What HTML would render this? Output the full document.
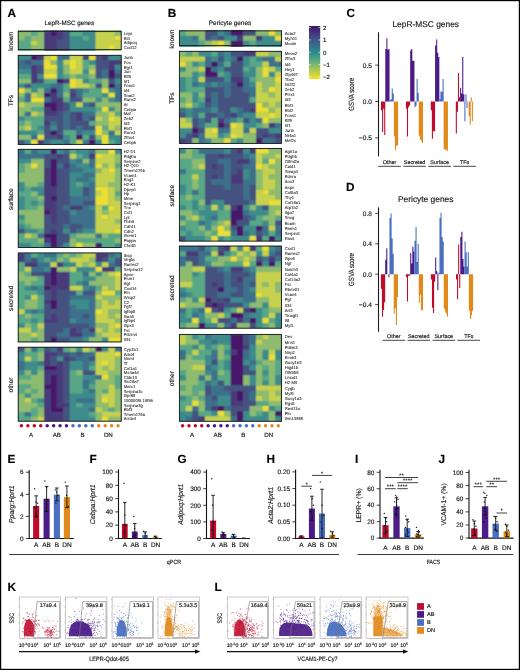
<!DOCTYPE html>
<html><head><meta charset="utf-8"><style>
html,body{margin:0;padding:0;background:#fff;}
body{width:520px;height:670px;overflow:hidden;}
svg{display:block;will-change:transform;}
text{font-family:"Liberation Sans",sans-serif;text-rendering:geometricPrecision;stroke:#1a1a1a;stroke-width:0.16px;}
text.g{stroke-width:0.06px;fill:#222;}
</style></head><body>
<svg width="520" height="670" viewBox="0 0 520 670" font-family="Liberation Sans, sans-serif" fill="#1a1a1a">
<rect width="520" height="670" fill="#fff"/>
<defs><filter id="hb" x="-5%" y="-5%" width="110%" height="110%"><feConvolveMatrix order="3" kernelMatrix="1 2 1 2 4 2 1 2 1" edgeMode="duplicate" preserveAlpha="true"/></filter></defs>
<text x="7.6" y="16.7" font-size="11.8" font-weight="bold" fill="#000">A</text>
<text x="167.8" y="16.7" font-size="11.8" font-weight="bold" fill="#000">B</text>
<text x="346.5" y="16.7" font-size="11.8" font-weight="bold" fill="#000">C</text>
<text x="346.1" y="191.4" font-size="11.8" font-weight="bold" fill="#000">D</text>
<text x="7.5" y="463.3" font-size="11.8" font-weight="bold" fill="#000">E</text>
<text x="89.5" y="463.3" font-size="11.8" font-weight="bold" fill="#000">F</text>
<text x="177.4" y="463.3" font-size="11.8" font-weight="bold" fill="#000">G</text>
<text x="266.5" y="463.3" font-size="11.8" font-weight="bold" fill="#000">H</text>
<text x="355" y="463.3" font-size="11.8" font-weight="bold" fill="#000">I</text>
<text x="438.5" y="463.3" font-size="11.8" font-weight="bold" fill="#000">J</text>
<text x="7.5" y="591.3" font-size="11.8" font-weight="bold" fill="#000">K</text>
<text x="214.5" y="591.3" font-size="11.8" font-weight="bold" fill="#000">L</text>
<text x="69.4" y="25.1" font-size="6.25" text-anchor="middle" >LepR-MSC genes</text>
<text x="230" y="25.1" font-size="6.4" text-anchor="middle" >Pericyte genes</text>
<g filter="url(#hb)"><rect x="18.2" y="31.4" width="103.04" height="18.2" fill="#3f7f88"/>
<path fill="#46196a" d="M50.4 31.4h6.5v4.61h-6.5z"/>
<path fill="#493a7a" d="M43.96 31.4h6.5v4.61h-6.5zM56.84 31.4h6.5v4.61h-6.5zM43.96 35.95h19.38v4.61h-19.38zM43.96 40.5h12.94v4.61h-12.94zM43.96 45.05h12.94v4.61h-12.94z"/>
<path fill="#45517f" d="M63.28 31.4h6.5v4.61h-6.5zM63.28 35.95h6.5v4.61h-6.5zM56.84 40.5h12.94v4.61h-12.94zM56.84 45.05h12.94v4.61h-12.94z"/>
<path fill="#3c8c8b" d="M82.6 31.4h12.94v4.61h-12.94zM69.72 35.95h12.94v4.61h-12.94zM89.04 35.95h6.5v4.61h-6.5zM69.72 40.5h25.82v4.61h-25.82zM69.72 45.05h25.82v4.61h-25.82z"/>
<path fill="#59a886" d="M31.08 31.4h6.5v4.61h-6.5zM69.72 31.4h12.94v4.61h-12.94zM24.64 35.95h6.5v4.61h-6.5zM82.6 35.95h6.5v4.61h-6.5zM18.2 40.5h12.94v4.61h-12.94zM18.2 45.05h12.94v4.61h-12.94z"/>
<path fill="#8dbc6f" d="M18.2 31.4h12.94v4.61h-12.94zM37.52 31.4h6.5v4.61h-6.5zM114.8 31.4h6.5v4.61h-6.5zM18.2 35.95h6.5v4.61h-6.5zM31.08 35.95h12.94v4.61h-12.94zM37.52 40.5h6.5v4.61h-6.5zM31.08 45.05h12.94v4.61h-12.94z"/>
<path fill="#c6d24e" d="M95.48 31.4h19.38v4.61h-19.38zM95.48 35.95h19.38v4.61h-19.38zM31.08 40.5h6.5v4.61h-6.5zM95.48 40.5h25.82v4.61h-25.82zM95.48 45.05h12.94v4.61h-12.94zM114.8 45.05h6.5v4.61h-6.5z"/>
<path fill="#eadf30" d="M114.8 35.95h6.5v4.61h-6.5zM108.36 45.05h6.5v4.61h-6.5z"/>
</g>
<rect x="18.2" y="31.4" width="103.04" height="18.2" fill="none" stroke="#1a1a1a" stroke-width="0.9"/>
<text class="g" x="123.8" y="35.19" font-size="4.2">Lepr</text>
<text class="g" x="123.8" y="39.74" font-size="4.2">Kitl</text>
<text class="g" x="123.8" y="44.29" font-size="4.2">Adipoq</text>
<text class="g" x="123.8" y="48.84" font-size="4.2">Cxcl12</text>
<g filter="url(#hb)"><rect x="18.2" y="55.3" width="103.04" height="89.1" fill="#3f7f88"/>
<path fill="#46196a" d="M31.08 55.3h6.5v4.75h-6.5zM108.36 69.37h6.5v4.75h-6.5zM108.36 74.06h6.5v4.75h-6.5zM56.84 78.75h6.5v4.75h-6.5zM108.36 83.44h6.5v4.75h-6.5zM50.4 88.13h6.5v4.75h-6.5zM43.96 92.82h6.5v4.75h-6.5zM43.96 102.19h12.94v4.75h-12.94zM50.4 106.88h6.5v4.75h-6.5zM50.4 130.33h6.5v4.75h-6.5zM76.16 135.02h6.5v4.75h-6.5zM89.04 139.71h6.5v4.75h-6.5z"/>
<path fill="#493a7a" d="M37.52 55.3h6.5v4.75h-6.5zM101.92 55.3h6.5v4.75h-6.5zM108.36 59.99h12.94v4.75h-12.94zM31.08 64.68h6.5v4.75h-6.5zM108.36 64.68h6.5v4.75h-6.5zM31.08 69.37h6.5v4.75h-6.5zM31.08 74.06h6.5v4.75h-6.5zM31.08 78.75h6.5v4.75h-6.5zM63.28 78.75h6.5v4.75h-6.5zM50.4 92.82h6.5v4.75h-6.5zM69.72 92.82h6.5v4.75h-6.5zM50.4 97.51h12.94v4.75h-12.94zM56.84 102.19h6.5v4.75h-6.5zM43.96 106.88h6.5v4.75h-6.5zM56.84 106.88h6.5v4.75h-6.5zM43.96 111.57h12.94v4.75h-12.94zM76.16 111.57h6.5v4.75h-6.5zM76.16 116.26h6.5v4.75h-6.5zM43.96 120.95h6.5v4.75h-6.5zM56.84 135.02h6.5v4.75h-6.5zM37.52 139.71h6.5v4.75h-6.5z"/>
<path fill="#45517f" d="M82.6 55.3h6.5v4.75h-6.5zM95.48 55.3h6.5v4.75h-6.5zM24.64 59.99h6.5v4.75h-6.5zM95.48 59.99h12.94v4.75h-12.94zM37.52 64.68h6.5v4.75h-6.5zM95.48 64.68h12.94v4.75h-12.94zM37.52 69.37h6.5v4.75h-6.5zM95.48 69.37h6.5v4.75h-6.5zM95.48 74.06h6.5v4.75h-6.5zM114.8 74.06h6.5v4.75h-6.5zM37.52 78.75h6.5v4.75h-6.5zM108.36 78.75h6.5v4.75h-6.5zM24.64 83.44h6.5v4.75h-6.5zM95.48 83.44h6.5v4.75h-6.5zM69.72 88.13h6.5v4.75h-6.5zM69.72 97.51h12.94v4.75h-12.94zM63.28 102.19h6.5v4.75h-6.5zM89.04 102.19h6.5v4.75h-6.5zM63.28 106.88h6.5v4.75h-6.5zM56.84 111.57h6.5v4.75h-6.5zM69.72 111.57h6.5v4.75h-6.5zM43.96 116.26h19.38v4.75h-19.38zM69.72 116.26h6.5v4.75h-6.5zM89.04 116.26h6.5v4.75h-6.5zM56.84 120.95h6.5v4.75h-6.5zM69.72 120.95h19.38v4.75h-19.38zM43.96 125.64h6.5v4.75h-6.5zM56.84 125.64h6.5v4.75h-6.5zM69.72 125.64h6.5v4.75h-6.5zM82.6 125.64h12.94v4.75h-12.94zM43.96 130.33h6.5v4.75h-6.5zM56.84 130.33h6.5v4.75h-6.5zM43.96 135.02h12.94v4.75h-12.94zM89.04 135.02h6.5v4.75h-6.5zM18.2 139.71h6.5v4.75h-6.5z"/>
<path fill="#3d6f8a" d="M56.84 55.3h12.94v4.75h-12.94zM18.2 59.99h6.5v4.75h-6.5zM31.08 59.99h12.94v4.75h-12.94zM18.2 64.68h12.94v4.75h-12.94zM101.92 69.37h6.5v4.75h-6.5zM114.8 69.37h6.5v4.75h-6.5zM101.92 74.06h6.5v4.75h-6.5zM50.4 83.44h12.94v4.75h-12.94zM114.8 83.44h6.5v4.75h-6.5zM43.96 88.13h6.5v4.75h-6.5zM56.84 88.13h6.5v4.75h-6.5zM76.16 88.13h6.5v4.75h-6.5zM114.8 88.13h6.5v4.75h-6.5zM24.64 92.82h6.5v4.75h-6.5zM56.84 92.82h6.5v4.75h-6.5zM76.16 92.82h6.5v4.75h-6.5zM114.8 92.82h6.5v4.75h-6.5zM24.64 97.51h6.5v4.75h-6.5zM43.96 97.51h6.5v4.75h-6.5zM114.8 97.51h6.5v4.75h-6.5zM82.6 102.19h6.5v4.75h-6.5zM24.64 111.57h6.5v4.75h-6.5zM63.28 111.57h6.5v4.75h-6.5zM82.6 111.57h12.94v4.75h-12.94zM63.28 116.26h6.5v4.75h-6.5zM82.6 116.26h6.5v4.75h-6.5zM50.4 120.95h6.5v4.75h-6.5zM63.28 120.95h6.5v4.75h-6.5zM63.28 125.64h6.5v4.75h-6.5zM76.16 125.64h6.5v4.75h-6.5zM76.16 130.33h6.5v4.75h-6.5zM108.36 130.33h6.5v4.75h-6.5zM31.08 135.02h6.5v4.75h-6.5zM43.96 139.71h6.5v4.75h-6.5zM63.28 139.71h6.5v4.75h-6.5zM82.6 139.71h6.5v4.75h-6.5z"/>
<path fill="#3c8c8b" d="M18.2 55.3h12.94v4.75h-12.94zM108.36 55.3h12.94v4.75h-12.94zM56.84 59.99h6.5v4.75h-6.5zM89.04 59.99h6.5v4.75h-6.5zM56.84 64.68h6.5v4.75h-6.5zM114.8 64.68h6.5v4.75h-6.5zM18.2 69.37h12.94v4.75h-12.94zM56.84 69.37h6.5v4.75h-6.5zM82.6 69.37h6.5v4.75h-6.5zM37.52 74.06h6.5v4.75h-6.5zM56.84 74.06h6.5v4.75h-6.5zM82.6 78.75h6.5v4.75h-6.5zM114.8 78.75h6.5v4.75h-6.5zM18.2 83.44h6.5v4.75h-6.5zM31.08 83.44h19.38v4.75h-19.38zM31.08 88.13h6.5v4.75h-6.5zM82.6 88.13h6.5v4.75h-6.5zM108.36 88.13h6.5v4.75h-6.5zM101.92 92.82h6.5v4.75h-6.5zM95.48 97.51h6.5v4.75h-6.5zM108.36 97.51h6.5v4.75h-6.5zM69.72 102.19h6.5v4.75h-6.5zM69.72 106.88h25.82v4.75h-25.82zM108.36 106.88h6.5v4.75h-6.5zM18.2 116.26h6.5v4.75h-6.5zM37.52 125.64h6.5v4.75h-6.5zM50.4 125.64h6.5v4.75h-6.5zM18.2 130.33h19.38v4.75h-19.38zM82.6 130.33h12.94v4.75h-12.94zM63.28 135.02h6.5v4.75h-6.5zM108.36 135.02h12.94v4.75h-12.94zM24.64 139.71h6.5v4.75h-6.5zM50.4 139.71h12.94v4.75h-12.94zM95.48 139.71h6.5v4.75h-6.5zM114.8 139.71h6.5v4.75h-6.5z"/>
<path fill="#59a886" d="M82.6 59.99h6.5v4.75h-6.5zM82.6 64.68h6.5v4.75h-6.5zM18.2 74.06h12.94v4.75h-12.94zM63.28 74.06h6.5v4.75h-6.5zM76.16 74.06h12.94v4.75h-12.94zM43.96 78.75h12.94v4.75h-12.94zM89.04 78.75h12.94v4.75h-12.94zM63.28 83.44h6.5v4.75h-6.5zM63.28 88.13h6.5v4.75h-6.5zM89.04 88.13h12.94v4.75h-12.94zM82.6 92.82h19.38v4.75h-19.38zM18.2 97.51h6.5v4.75h-6.5zM63.28 97.51h6.5v4.75h-6.5zM31.08 106.88h12.94v4.75h-12.94zM95.48 106.88h6.5v4.75h-6.5zM114.8 111.57h6.5v4.75h-6.5zM24.64 116.26h19.38v4.75h-19.38zM18.2 120.95h6.5v4.75h-6.5zM31.08 120.95h12.94v4.75h-12.94zM89.04 120.95h6.5v4.75h-6.5zM31.08 125.64h6.5v4.75h-6.5zM101.92 125.64h6.5v4.75h-6.5zM37.52 130.33h6.5v4.75h-6.5zM63.28 130.33h12.94v4.75h-12.94zM69.72 135.02h6.5v4.75h-6.5zM82.6 135.02h6.5v4.75h-6.5zM69.72 139.71h6.5v4.75h-6.5zM108.36 139.71h6.5v4.75h-6.5z"/>
<path fill="#8dbc6f" d="M50.4 59.99h6.5v4.75h-6.5zM63.28 64.68h6.5v4.75h-6.5zM89.04 64.68h6.5v4.75h-6.5zM63.28 69.37h6.5v4.75h-6.5zM69.72 74.06h6.5v4.75h-6.5zM89.04 74.06h6.5v4.75h-6.5zM18.2 78.75h12.94v4.75h-12.94zM101.92 78.75h6.5v4.75h-6.5zM89.04 83.44h6.5v4.75h-6.5zM101.92 83.44h6.5v4.75h-6.5zM24.64 88.13h6.5v4.75h-6.5zM37.52 88.13h6.5v4.75h-6.5zM18.2 92.82h6.5v4.75h-6.5zM37.52 92.82h6.5v4.75h-6.5zM63.28 92.82h6.5v4.75h-6.5zM82.6 97.51h12.94v4.75h-12.94zM101.92 97.51h6.5v4.75h-6.5zM24.64 102.19h19.38v4.75h-19.38zM95.48 102.19h25.82v4.75h-25.82zM18.2 106.88h12.94v4.75h-12.94zM114.8 106.88h6.5v4.75h-6.5zM18.2 111.57h6.5v4.75h-6.5zM37.52 111.57h6.5v4.75h-6.5zM95.48 111.57h12.94v4.75h-12.94zM101.92 116.26h6.5v4.75h-6.5zM24.64 120.95h6.5v4.75h-6.5zM95.48 120.95h12.94v4.75h-12.94zM18.2 125.64h6.5v4.75h-6.5zM114.8 125.64h6.5v4.75h-6.5zM101.92 130.33h6.5v4.75h-6.5zM18.2 135.02h12.94v4.75h-12.94zM95.48 135.02h6.5v4.75h-6.5z"/>
<path fill="#c6d24e" d="M43.96 55.3h6.5v4.75h-6.5zM69.72 55.3h12.94v4.75h-12.94zM63.28 59.99h6.5v4.75h-6.5zM76.16 59.99h6.5v4.75h-6.5zM76.16 64.68h6.5v4.75h-6.5zM43.96 69.37h12.94v4.75h-12.94zM69.72 69.37h12.94v4.75h-12.94zM89.04 69.37h6.5v4.75h-6.5zM76.16 78.75h6.5v4.75h-6.5zM76.16 83.44h12.94v4.75h-12.94zM31.08 92.82h6.5v4.75h-6.5zM18.2 102.19h6.5v4.75h-6.5zM76.16 102.19h6.5v4.75h-6.5zM31.08 111.57h6.5v4.75h-6.5zM108.36 111.57h6.5v4.75h-6.5zM95.48 116.26h6.5v4.75h-6.5zM114.8 116.26h6.5v4.75h-6.5zM108.36 120.95h12.94v4.75h-12.94zM24.64 125.64h6.5v4.75h-6.5zM108.36 125.64h6.5v4.75h-6.5zM114.8 130.33h6.5v4.75h-6.5zM76.16 139.71h6.5v4.75h-6.5z"/>
<path fill="#eadf30" d="M50.4 55.3h6.5v4.75h-6.5zM89.04 55.3h6.5v4.75h-6.5zM43.96 59.99h6.5v4.75h-6.5zM69.72 59.99h6.5v4.75h-6.5zM43.96 64.68h12.94v4.75h-12.94zM69.72 64.68h6.5v4.75h-6.5zM43.96 74.06h12.94v4.75h-12.94zM69.72 78.75h6.5v4.75h-6.5zM69.72 83.44h6.5v4.75h-6.5zM18.2 88.13h6.5v4.75h-6.5zM101.92 88.13h6.5v4.75h-6.5zM108.36 92.82h6.5v4.75h-6.5zM31.08 97.51h12.94v4.75h-12.94zM101.92 106.88h6.5v4.75h-6.5zM108.36 116.26h6.5v4.75h-6.5zM95.48 125.64h6.5v4.75h-6.5zM95.48 130.33h6.5v4.75h-6.5zM37.52 135.02h6.5v4.75h-6.5zM101.92 135.02h6.5v4.75h-6.5zM31.08 139.71h6.5v4.75h-6.5zM101.92 139.71h6.5v4.75h-6.5z"/>
</g>
<rect x="18.2" y="55.3" width="103.04" height="89.1" fill="none" stroke="#1a1a1a" stroke-width="0.9"/>
<text class="g" x="123.8" y="59.16" font-size="4.2">Junb</text>
<text class="g" x="123.8" y="63.85" font-size="4.2">Fos</text>
<text class="g" x="123.8" y="68.54" font-size="4.2">Egr1</text>
<text class="g" x="123.8" y="73.23" font-size="4.2">Jun</text>
<text class="g" x="123.8" y="77.91" font-size="4.2">Klf6</text>
<text class="g" x="123.8" y="82.6" font-size="4.2">Irf1</text>
<text class="g" x="123.8" y="87.29" font-size="4.2">Foxc1</text>
<text class="g" x="123.8" y="91.98" font-size="4.2">Id4</text>
<text class="g" x="123.8" y="96.67" font-size="4.2">Snai2</text>
<text class="g" x="123.8" y="101.36" font-size="4.2">Runx2</text>
<text class="g" x="123.8" y="106.05" font-size="4.2">Ar</text>
<text class="g" x="123.8" y="110.74" font-size="4.2">Cebpa</text>
<text class="g" x="123.8" y="115.43" font-size="4.2">Maf</text>
<text class="g" x="123.8" y="120.12" font-size="4.2">Zeb2</text>
<text class="g" x="123.8" y="124.81" font-size="4.2">Id3</text>
<text class="g" x="123.8" y="129.5" font-size="4.2">Ebf1</text>
<text class="g" x="123.8" y="134.19" font-size="4.2">Runx1</text>
<text class="g" x="123.8" y="138.88" font-size="4.2">Zfhx4</text>
<text class="g" x="123.8" y="143.57" font-size="4.2">Cebpb</text>
<g filter="url(#hb)"><rect x="18.2" y="149.3" width="103.04" height="98.2" fill="#3f7f88"/>
<path fill="#46196a" d="M50.4 149.3h6.5v4.74h-6.5zM50.4 158.65h6.5v4.74h-6.5zM50.4 163.33h6.5v4.74h-6.5zM50.4 168h6.5v4.74h-6.5zM50.4 172.68h6.5v4.74h-6.5zM50.4 177.36h6.5v4.74h-6.5zM50.4 182.03h6.5v4.74h-6.5zM50.4 196.06h6.5v4.74h-6.5zM43.96 210.09h6.5v4.74h-6.5zM43.96 233.47h12.94v4.74h-12.94zM50.4 238.15h6.5v4.74h-6.5zM50.4 242.82h6.5v4.74h-6.5zM95.48 242.82h6.5v4.74h-6.5z"/>
<path fill="#493a7a" d="M56.84 153.98h6.5v4.74h-6.5zM89.04 153.98h6.5v4.74h-6.5zM63.28 163.33h6.5v4.74h-6.5zM43.96 168h6.5v4.74h-6.5zM43.96 172.68h6.5v4.74h-6.5zM43.96 177.36h6.5v4.74h-6.5zM43.96 182.03h6.5v4.74h-6.5zM43.96 186.71h12.94v4.74h-12.94zM43.96 191.39h12.94v4.74h-12.94zM43.96 196.06h6.5v4.74h-6.5zM43.96 200.74h12.94v4.74h-12.94zM43.96 205.41h12.94v4.74h-12.94zM69.72 205.41h12.94v4.74h-12.94zM50.4 210.09h6.5v4.74h-6.5zM50.4 214.77h6.5v4.74h-6.5zM50.4 219.44h6.5v4.74h-6.5zM50.4 228.8h6.5v4.74h-6.5zM43.96 238.15h6.5v4.74h-6.5z"/>
<path fill="#45517f" d="M43.96 153.98h12.94v4.74h-12.94zM63.28 153.98h6.5v4.74h-6.5zM43.96 158.65h6.5v4.74h-6.5zM56.84 158.65h12.94v4.74h-12.94zM43.96 163.33h6.5v4.74h-6.5zM56.84 168h12.94v4.74h-12.94zM56.84 172.68h12.94v4.74h-12.94zM56.84 177.36h12.94v4.74h-12.94zM56.84 182.03h12.94v4.74h-12.94zM56.84 186.71h12.94v4.74h-12.94zM82.6 186.71h6.5v4.74h-6.5zM56.84 191.39h12.94v4.74h-12.94zM82.6 191.39h6.5v4.74h-6.5zM56.84 196.06h12.94v4.74h-12.94zM56.84 200.74h12.94v4.74h-12.94zM82.6 200.74h12.94v4.74h-12.94zM56.84 205.41h6.5v4.74h-6.5zM56.84 210.09h12.94v4.74h-12.94zM43.96 214.77h6.5v4.74h-6.5zM56.84 214.77h12.94v4.74h-12.94zM43.96 219.44h6.5v4.74h-6.5zM56.84 219.44h12.94v4.74h-12.94zM43.96 224.12h19.38v4.74h-19.38zM69.72 224.12h12.94v4.74h-12.94zM18.2 228.8h6.5v4.74h-6.5zM43.96 228.8h6.5v4.74h-6.5zM56.84 228.8h6.5v4.74h-6.5zM69.72 228.8h6.5v4.74h-6.5zM56.84 233.47h12.94v4.74h-12.94zM56.84 238.15h12.94v4.74h-12.94zM56.84 242.82h6.5v4.74h-6.5z"/>
<path fill="#3d6f8a" d="M18.2 149.3h6.5v4.74h-6.5zM31.08 149.3h6.5v4.74h-6.5zM63.28 149.3h6.5v4.74h-6.5zM89.04 149.3h6.5v4.74h-6.5zM18.2 153.98h25.82v4.74h-25.82zM76.16 158.65h6.5v4.74h-6.5zM89.04 158.65h6.5v4.74h-6.5zM56.84 163.33h6.5v4.74h-6.5zM69.72 163.33h6.5v4.74h-6.5zM89.04 163.33h6.5v4.74h-6.5zM69.72 168h12.94v4.74h-12.94zM82.6 172.68h12.94v4.74h-12.94zM76.16 177.36h12.94v4.74h-12.94zM89.04 182.03h6.5v4.74h-6.5zM89.04 186.71h6.5v4.74h-6.5zM89.04 191.39h6.5v4.74h-6.5zM69.72 196.06h25.82v4.74h-25.82zM69.72 200.74h12.94v4.74h-12.94zM63.28 205.41h6.5v4.74h-6.5zM82.6 205.41h6.5v4.74h-6.5zM76.16 210.09h19.38v4.74h-19.38zM69.72 214.77h25.82v4.74h-25.82zM69.72 219.44h25.82v4.74h-25.82zM63.28 224.12h6.5v4.74h-6.5zM82.6 224.12h12.94v4.74h-12.94zM76.16 228.8h6.5v4.74h-6.5zM37.52 233.47h6.5v4.74h-6.5zM95.48 233.47h6.5v4.74h-6.5zM43.96 242.82h6.5v4.74h-6.5z"/>
<path fill="#3c8c8b" d="M37.52 149.3h12.94v4.74h-12.94zM56.84 149.3h6.5v4.74h-6.5zM76.16 149.3h12.94v4.74h-12.94zM114.8 149.3h6.5v4.74h-6.5zM82.6 153.98h6.5v4.74h-6.5zM18.2 158.65h12.94v4.74h-12.94zM69.72 158.65h6.5v4.74h-6.5zM76.16 163.33h12.94v4.74h-12.94zM82.6 168h12.94v4.74h-12.94zM69.72 172.68h12.94v4.74h-12.94zM69.72 177.36h6.5v4.74h-6.5zM89.04 177.36h6.5v4.74h-6.5zM18.2 182.03h6.5v4.74h-6.5zM69.72 182.03h6.5v4.74h-6.5zM82.6 182.03h6.5v4.74h-6.5zM18.2 186.71h6.5v4.74h-6.5zM31.08 186.71h12.94v4.74h-12.94zM69.72 186.71h12.94v4.74h-12.94zM37.52 191.39h6.5v4.74h-6.5zM69.72 191.39h12.94v4.74h-12.94zM18.2 196.06h6.5v4.74h-6.5zM18.2 200.74h6.5v4.74h-6.5zM31.08 200.74h6.5v4.74h-6.5zM18.2 205.41h6.5v4.74h-6.5zM89.04 205.41h6.5v4.74h-6.5zM69.72 210.09h6.5v4.74h-6.5zM18.2 214.77h6.5v4.74h-6.5zM18.2 224.12h6.5v4.74h-6.5zM24.64 228.8h12.94v4.74h-12.94zM63.28 228.8h6.5v4.74h-6.5zM82.6 228.8h12.94v4.74h-12.94zM18.2 242.82h12.94v4.74h-12.94zM63.28 242.82h6.5v4.74h-6.5zM114.8 242.82h6.5v4.74h-6.5z"/>
<path fill="#59a886" d="M24.64 149.3h6.5v4.74h-6.5zM69.72 149.3h6.5v4.74h-6.5zM76.16 153.98h6.5v4.74h-6.5zM18.2 163.33h6.5v4.74h-6.5zM114.8 163.33h6.5v4.74h-6.5zM18.2 168h6.5v4.74h-6.5zM37.52 182.03h6.5v4.74h-6.5zM76.16 182.03h6.5v4.74h-6.5zM24.64 186.71h6.5v4.74h-6.5zM18.2 191.39h12.94v4.74h-12.94zM114.8 191.39h6.5v4.74h-6.5zM24.64 196.06h12.94v4.74h-12.94zM24.64 200.74h6.5v4.74h-6.5zM37.52 200.74h6.5v4.74h-6.5zM24.64 205.41h12.94v4.74h-12.94zM101.92 205.41h6.5v4.74h-6.5zM18.2 219.44h6.5v4.74h-6.5zM24.64 224.12h6.5v4.74h-6.5zM37.52 228.8h6.5v4.74h-6.5zM18.2 233.47h6.5v4.74h-6.5zM69.72 233.47h6.5v4.74h-6.5zM108.36 233.47h12.94v4.74h-12.94zM18.2 238.15h19.38v4.74h-19.38zM76.16 238.15h38.7v4.74h-38.7zM31.08 242.82h12.94v4.74h-12.94zM101.92 242.82h12.94v4.74h-12.94z"/>
<path fill="#8dbc6f" d="M95.48 149.3h12.94v4.74h-12.94zM114.8 153.98h6.5v4.74h-6.5zM31.08 158.65h12.94v4.74h-12.94zM82.6 158.65h6.5v4.74h-6.5zM114.8 158.65h6.5v4.74h-6.5zM24.64 163.33h6.5v4.74h-6.5zM37.52 163.33h6.5v4.74h-6.5zM101.92 163.33h6.5v4.74h-6.5zM24.64 168h19.38v4.74h-19.38zM95.48 168h6.5v4.74h-6.5zM114.8 168h6.5v4.74h-6.5zM18.2 172.68h25.82v4.74h-25.82zM114.8 172.68h6.5v4.74h-6.5zM18.2 177.36h25.82v4.74h-25.82zM114.8 177.36h6.5v4.74h-6.5zM24.64 182.03h12.94v4.74h-12.94zM108.36 182.03h12.94v4.74h-12.94zM114.8 186.71h6.5v4.74h-6.5zM31.08 191.39h6.5v4.74h-6.5zM37.52 196.06h6.5v4.74h-6.5zM114.8 196.06h6.5v4.74h-6.5zM37.52 205.41h6.5v4.74h-6.5zM18.2 210.09h25.82v4.74h-25.82zM101.92 210.09h6.5v4.74h-6.5zM24.64 214.77h19.38v4.74h-19.38zM24.64 219.44h19.38v4.74h-19.38zM114.8 219.44h6.5v4.74h-6.5zM31.08 224.12h12.94v4.74h-12.94zM31.08 233.47h6.5v4.74h-6.5zM76.16 233.47h19.38v4.74h-19.38zM101.92 233.47h6.5v4.74h-6.5zM37.52 238.15h6.5v4.74h-6.5zM69.72 238.15h6.5v4.74h-6.5zM114.8 238.15h6.5v4.74h-6.5zM69.72 242.82h6.5v4.74h-6.5zM82.6 242.82h12.94v4.74h-12.94z"/>
<path fill="#c6d24e" d="M69.72 153.98h6.5v4.74h-6.5zM101.92 153.98h12.94v4.74h-12.94zM95.48 158.65h19.38v4.74h-19.38zM108.36 163.33h6.5v4.74h-6.5zM101.92 168h6.5v4.74h-6.5zM95.48 172.68h19.38v4.74h-19.38zM95.48 177.36h19.38v4.74h-19.38zM95.48 182.03h12.94v4.74h-12.94zM108.36 186.71h6.5v4.74h-6.5zM95.48 191.39h6.5v4.74h-6.5zM108.36 191.39h6.5v4.74h-6.5zM108.36 196.06h6.5v4.74h-6.5zM108.36 200.74h12.94v4.74h-12.94zM95.48 205.41h6.5v4.74h-6.5zM114.8 205.41h6.5v4.74h-6.5zM95.48 210.09h6.5v4.74h-6.5zM108.36 210.09h12.94v4.74h-12.94zM95.48 214.77h6.5v4.74h-6.5zM108.36 214.77h12.94v4.74h-12.94zM95.48 219.44h19.38v4.74h-19.38zM95.48 224.12h25.82v4.74h-25.82zM95.48 228.8h19.38v4.74h-19.38zM24.64 233.47h6.5v4.74h-6.5z"/>
<path fill="#eadf30" d="M108.36 149.3h6.5v4.74h-6.5zM95.48 153.98h6.5v4.74h-6.5zM31.08 163.33h6.5v4.74h-6.5zM95.48 163.33h6.5v4.74h-6.5zM108.36 168h6.5v4.74h-6.5zM95.48 186.71h12.94v4.74h-12.94zM101.92 191.39h6.5v4.74h-6.5zM95.48 196.06h12.94v4.74h-12.94zM95.48 200.74h12.94v4.74h-12.94zM108.36 205.41h6.5v4.74h-6.5zM101.92 214.77h6.5v4.74h-6.5zM114.8 228.8h6.5v4.74h-6.5zM76.16 242.82h6.5v4.74h-6.5z"/>
</g>
<rect x="18.2" y="149.3" width="103.04" height="98.2" fill="none" stroke="#1a1a1a" stroke-width="0.9"/>
<text class="g" x="123.8" y="153.15" font-size="4.2">H2-D1</text>
<text class="g" x="123.8" y="157.83" font-size="4.2">Pdgfra</text>
<text class="g" x="123.8" y="162.5" font-size="4.2">Serpine2</text>
<text class="g" x="123.8" y="167.18" font-size="4.2">H2-Q10</text>
<text class="g" x="123.8" y="171.85" font-size="4.2">Tmem176b</text>
<text class="g" x="123.8" y="176.53" font-size="4.2">Vcam1</text>
<text class="g" x="123.8" y="181.21" font-size="4.2">Kng1</text>
<text class="g" x="123.8" y="185.88" font-size="4.2">H2-K1</text>
<text class="g" x="123.8" y="190.56" font-size="4.2">Dpep1</text>
<text class="g" x="123.8" y="195.24" font-size="4.2">Hp</text>
<text class="g" x="123.8" y="199.91" font-size="4.2">Mme</text>
<text class="g" x="123.8" y="204.59" font-size="4.2">Serping1</text>
<text class="g" x="123.8" y="209.26" font-size="4.2">Tnc</text>
<text class="g" x="123.8" y="213.94" font-size="4.2">Csf1</text>
<text class="g" x="123.8" y="218.62" font-size="4.2">Lpl</text>
<text class="g" x="123.8" y="223.29" font-size="4.2">Fbln5</text>
<text class="g" x="123.8" y="227.97" font-size="4.2">Cdh11</text>
<text class="g" x="123.8" y="232.65" font-size="4.2">Cdh2</text>
<text class="g" x="123.8" y="237.32" font-size="4.2">Grem1</text>
<text class="g" x="123.8" y="242" font-size="4.2">Pappa</text>
<text class="g" x="123.8" y="246.67" font-size="4.2">Chrdl1</text>
<g filter="url(#hb)"><rect x="18.2" y="252.9" width="103.04" height="89.1" fill="#3f7f88"/>
<path fill="#46196a" d="M50.4 266.97h6.5v4.75h-6.5zM50.4 271.66h6.5v4.75h-6.5zM50.4 276.35h6.5v4.75h-6.5zM50.4 281.04h6.5v4.75h-6.5zM43.96 285.73h6.5v4.75h-6.5zM50.4 299.79h6.5v4.75h-6.5zM50.4 304.48h6.5v4.75h-6.5zM50.4 337.31h6.5v4.75h-6.5z"/>
<path fill="#493a7a" d="M18.2 252.9h6.5v4.75h-6.5zM95.48 252.9h12.94v4.75h-12.94zM18.2 257.59h6.5v4.75h-6.5zM95.48 257.59h6.5v4.75h-6.5zM24.64 262.28h12.94v4.75h-12.94zM56.84 262.28h6.5v4.75h-6.5zM101.92 266.97h12.94v4.75h-12.94zM43.96 271.66h6.5v4.75h-6.5zM56.84 271.66h12.94v4.75h-12.94zM43.96 276.35h6.5v4.75h-6.5zM56.84 276.35h12.94v4.75h-12.94zM43.96 281.04h6.5v4.75h-6.5zM56.84 281.04h12.94v4.75h-12.94zM50.4 285.73h19.38v4.75h-19.38zM50.4 290.42h6.5v4.75h-6.5zM50.4 295.11h6.5v4.75h-6.5zM43.96 299.79h6.5v4.75h-6.5zM50.4 313.86h6.5v4.75h-6.5zM43.96 318.55h12.94v4.75h-12.94zM69.72 327.93h6.5v4.75h-6.5zM89.04 327.93h6.5v4.75h-6.5zM69.72 332.62h12.94v4.75h-12.94z"/>
<path fill="#45517f" d="M31.08 257.59h6.5v4.75h-6.5zM101.92 257.59h6.5v4.75h-6.5zM114.8 257.59h6.5v4.75h-6.5zM114.8 262.28h6.5v4.75h-6.5zM31.08 271.66h12.94v4.75h-12.94zM43.96 290.42h6.5v4.75h-6.5zM56.84 290.42h19.38v4.75h-19.38zM82.6 290.42h12.94v4.75h-12.94zM43.96 295.11h6.5v4.75h-6.5zM56.84 295.11h12.94v4.75h-12.94zM56.84 299.79h12.94v4.75h-12.94zM43.96 304.48h6.5v4.75h-6.5zM56.84 304.48h12.94v4.75h-12.94zM43.96 309.17h25.82v4.75h-25.82zM43.96 313.86h6.5v4.75h-6.5zM56.84 313.86h12.94v4.75h-12.94zM82.6 313.86h6.5v4.75h-6.5zM56.84 318.55h12.94v4.75h-12.94zM43.96 323.24h45.14v4.75h-45.14zM43.96 327.93h19.38v4.75h-19.38zM76.16 327.93h6.5v4.75h-6.5zM43.96 332.62h12.94v4.75h-12.94zM43.96 337.31h6.5v4.75h-6.5zM56.84 337.31h12.94v4.75h-12.94z"/>
<path fill="#3d6f8a" d="M24.64 252.9h6.5v4.75h-6.5zM43.96 252.9h12.94v4.75h-12.94zM108.36 252.9h6.5v4.75h-6.5zM24.64 257.59h6.5v4.75h-6.5zM37.52 262.28h12.94v4.75h-12.94zM108.36 262.28h6.5v4.75h-6.5zM31.08 266.97h12.94v4.75h-12.94zM82.6 271.66h6.5v4.75h-6.5zM82.6 281.04h6.5v4.75h-6.5zM31.08 285.73h6.5v4.75h-6.5zM89.04 285.73h6.5v4.75h-6.5zM69.72 295.11h25.82v4.75h-25.82zM89.04 299.79h6.5v4.75h-6.5zM69.72 304.48h6.5v4.75h-6.5zM89.04 304.48h6.5v4.75h-6.5zM31.08 309.17h6.5v4.75h-6.5zM69.72 309.17h25.82v4.75h-25.82zM69.72 313.86h12.94v4.75h-12.94zM89.04 313.86h6.5v4.75h-6.5zM76.16 318.55h19.38v4.75h-19.38zM89.04 323.24h6.5v4.75h-6.5zM63.28 327.93h6.5v4.75h-6.5zM82.6 327.93h6.5v4.75h-6.5zM56.84 332.62h12.94v4.75h-12.94zM82.6 332.62h12.94v4.75h-12.94zM69.72 337.31h12.94v4.75h-12.94z"/>
<path fill="#3c8c8b" d="M37.52 252.9h6.5v4.75h-6.5zM114.8 252.9h6.5v4.75h-6.5zM37.52 257.59h6.5v4.75h-6.5zM50.4 257.59h6.5v4.75h-6.5zM108.36 257.59h6.5v4.75h-6.5zM63.28 262.28h12.94v4.75h-12.94zM95.48 262.28h6.5v4.75h-6.5zM43.96 266.97h6.5v4.75h-6.5zM76.16 266.97h19.38v4.75h-19.38zM95.48 271.66h6.5v4.75h-6.5zM82.6 276.35h12.94v4.75h-12.94zM76.16 281.04h6.5v4.75h-6.5zM24.64 285.73h6.5v4.75h-6.5zM37.52 285.73h6.5v4.75h-6.5zM82.6 285.73h6.5v4.75h-6.5zM37.52 290.42h6.5v4.75h-6.5zM24.64 295.11h6.5v4.75h-6.5zM69.72 299.79h19.38v4.75h-19.38zM76.16 304.48h12.94v4.75h-12.94zM24.64 309.17h6.5v4.75h-6.5zM37.52 309.17h6.5v4.75h-6.5zM31.08 318.55h6.5v4.75h-6.5zM69.72 318.55h6.5v4.75h-6.5zM18.2 323.24h6.5v4.75h-6.5zM82.6 337.31h6.5v4.75h-6.5zM101.92 337.31h6.5v4.75h-6.5z"/>
<path fill="#59a886" d="M31.08 252.9h6.5v4.75h-6.5zM56.84 252.9h6.5v4.75h-6.5zM69.72 252.9h6.5v4.75h-6.5zM43.96 257.59h6.5v4.75h-6.5zM63.28 257.59h6.5v4.75h-6.5zM18.2 262.28h6.5v4.75h-6.5zM18.2 266.97h6.5v4.75h-6.5zM114.8 266.97h6.5v4.75h-6.5zM24.64 271.66h6.5v4.75h-6.5zM69.72 271.66h12.94v4.75h-12.94zM37.52 276.35h6.5v4.75h-6.5zM69.72 276.35h12.94v4.75h-12.94zM18.2 281.04h6.5v4.75h-6.5zM31.08 281.04h12.94v4.75h-12.94zM69.72 281.04h6.5v4.75h-6.5zM18.2 285.73h6.5v4.75h-6.5zM95.48 285.73h6.5v4.75h-6.5zM18.2 290.42h19.38v4.75h-19.38zM76.16 290.42h6.5v4.75h-6.5zM114.8 290.42h6.5v4.75h-6.5zM18.2 295.11h6.5v4.75h-6.5zM37.52 295.11h6.5v4.75h-6.5zM18.2 299.79h6.5v4.75h-6.5zM37.52 299.79h6.5v4.75h-6.5zM18.2 304.48h6.5v4.75h-6.5zM37.52 304.48h6.5v4.75h-6.5zM18.2 313.86h6.5v4.75h-6.5zM31.08 313.86h12.94v4.75h-12.94zM18.2 318.55h12.94v4.75h-12.94zM37.52 318.55h6.5v4.75h-6.5zM31.08 323.24h6.5v4.75h-6.5zM31.08 327.93h6.5v4.75h-6.5zM31.08 337.31h6.5v4.75h-6.5z"/>
<path fill="#8dbc6f" d="M63.28 252.9h6.5v4.75h-6.5zM76.16 252.9h6.5v4.75h-6.5zM56.84 257.59h6.5v4.75h-6.5zM89.04 257.59h6.5v4.75h-6.5zM82.6 262.28h6.5v4.75h-6.5zM56.84 266.97h12.94v4.75h-12.94zM18.2 271.66h6.5v4.75h-6.5zM89.04 271.66h6.5v4.75h-6.5zM101.92 271.66h6.5v4.75h-6.5zM18.2 276.35h19.38v4.75h-19.38zM95.48 276.35h19.38v4.75h-19.38zM24.64 281.04h6.5v4.75h-6.5zM89.04 281.04h25.82v4.75h-25.82zM108.36 285.73h6.5v4.75h-6.5zM95.48 290.42h6.5v4.75h-6.5zM101.92 295.11h19.38v4.75h-19.38zM24.64 299.79h12.94v4.75h-12.94zM95.48 299.79h6.5v4.75h-6.5zM108.36 299.79h6.5v4.75h-6.5zM24.64 304.48h12.94v4.75h-12.94zM95.48 304.48h6.5v4.75h-6.5zM108.36 309.17h12.94v4.75h-12.94zM24.64 313.86h6.5v4.75h-6.5zM108.36 313.86h6.5v4.75h-6.5zM114.8 318.55h6.5v4.75h-6.5zM24.64 323.24h6.5v4.75h-6.5zM95.48 323.24h12.94v4.75h-12.94zM37.52 327.93h6.5v4.75h-6.5zM101.92 327.93h6.5v4.75h-6.5zM114.8 327.93h6.5v4.75h-6.5zM18.2 332.62h12.94v4.75h-12.94zM37.52 332.62h6.5v4.75h-6.5zM95.48 332.62h6.5v4.75h-6.5zM18.2 337.31h12.94v4.75h-12.94zM37.52 337.31h6.5v4.75h-6.5zM89.04 337.31h12.94v4.75h-12.94z"/>
<path fill="#c6d24e" d="M82.6 252.9h12.94v4.75h-12.94zM69.72 257.59h19.38v4.75h-19.38zM50.4 262.28h6.5v4.75h-6.5zM76.16 262.28h6.5v4.75h-6.5zM89.04 262.28h6.5v4.75h-6.5zM101.92 262.28h6.5v4.75h-6.5zM24.64 266.97h6.5v4.75h-6.5zM69.72 266.97h6.5v4.75h-6.5zM108.36 271.66h6.5v4.75h-6.5zM114.8 276.35h6.5v4.75h-6.5zM114.8 281.04h6.5v4.75h-6.5zM69.72 285.73h12.94v4.75h-12.94zM101.92 285.73h6.5v4.75h-6.5zM114.8 285.73h6.5v4.75h-6.5zM31.08 295.11h6.5v4.75h-6.5zM95.48 295.11h6.5v4.75h-6.5zM101.92 299.79h6.5v4.75h-6.5zM114.8 299.79h6.5v4.75h-6.5zM101.92 304.48h19.38v4.75h-19.38zM18.2 309.17h6.5v4.75h-6.5zM101.92 309.17h6.5v4.75h-6.5zM95.48 313.86h12.94v4.75h-12.94zM114.8 313.86h6.5v4.75h-6.5zM95.48 318.55h19.38v4.75h-19.38zM37.52 323.24h6.5v4.75h-6.5zM108.36 323.24h6.5v4.75h-6.5zM18.2 327.93h12.94v4.75h-12.94zM95.48 327.93h6.5v4.75h-6.5zM108.36 327.93h6.5v4.75h-6.5zM31.08 332.62h6.5v4.75h-6.5zM101.92 332.62h19.38v4.75h-19.38z"/>
<path fill="#eadf30" d="M95.48 266.97h6.5v4.75h-6.5zM114.8 271.66h6.5v4.75h-6.5zM101.92 290.42h12.94v4.75h-12.94zM95.48 309.17h6.5v4.75h-6.5zM114.8 323.24h6.5v4.75h-6.5zM108.36 337.31h12.94v4.75h-12.94z"/>
</g>
<rect x="18.2" y="252.9" width="103.04" height="89.1" fill="none" stroke="#1a1a1a" stroke-width="0.9"/>
<text class="g" x="123.8" y="256.76" font-size="4.2">Ibsp</text>
<text class="g" x="123.8" y="261.45" font-size="4.2">Vegfa</text>
<text class="g" x="123.8" y="266.14" font-size="4.2">Rarres2</text>
<text class="g" x="123.8" y="270.83" font-size="4.2">Serpina12</text>
<text class="g" x="123.8" y="275.51" font-size="4.2">Apoe</text>
<text class="g" x="123.8" y="280.2" font-size="4.2">Esm1</text>
<text class="g" x="123.8" y="284.89" font-size="4.2">Agt</text>
<text class="g" x="123.8" y="289.58" font-size="4.2">Cxcl14</text>
<text class="g" x="123.8" y="294.27" font-size="4.2">Eln</text>
<text class="g" x="123.8" y="298.96" font-size="4.2">Wisp2</text>
<text class="g" x="123.8" y="303.65" font-size="4.2">C2</text>
<text class="g" x="123.8" y="308.34" font-size="4.2">Fgf7</text>
<text class="g" x="123.8" y="313.03" font-size="4.2">Igfbp5</text>
<text class="g" x="123.8" y="317.72" font-size="4.2">Gas6</text>
<text class="g" x="123.8" y="322.41" font-size="4.2">Igfbp4</text>
<text class="g" x="123.8" y="327.1" font-size="4.2">Gpx3</text>
<text class="g" x="123.8" y="331.79" font-size="4.2">Fst</text>
<text class="g" x="123.8" y="336.48" font-size="4.2">Pdzrn4</text>
<text class="g" x="123.8" y="341.17" font-size="4.2">Il34</text>
<g filter="url(#hb)"><rect x="18.2" y="347.2" width="103.04" height="74" fill="#3f7f88"/>
<path fill="#46196a" d="M95.48 347.2h6.5v4.68h-6.5zM43.96 365.7h12.94v4.68h-12.94zM50.4 374.95h6.5v4.68h-6.5zM50.4 379.57h6.5v4.68h-6.5zM43.96 384.2h12.94v4.68h-12.94zM50.4 388.82h6.5v4.68h-6.5zM50.4 393.45h6.5v4.68h-6.5zM50.4 398.07h6.5v4.68h-6.5zM50.4 402.7h6.5v4.68h-6.5zM50.4 407.32h12.94v4.68h-12.94z"/>
<path fill="#493a7a" d="M56.84 347.2h6.5v4.68h-6.5zM43.96 351.82h12.94v4.68h-12.94zM43.96 356.45h6.5v4.68h-6.5zM63.28 356.45h6.5v4.68h-6.5zM43.96 361.07h6.5v4.68h-6.5zM56.84 361.07h6.5v4.68h-6.5zM56.84 365.7h6.5v4.68h-6.5zM43.96 370.32h19.38v4.68h-19.38zM43.96 374.95h6.5v4.68h-6.5zM56.84 374.95h6.5v4.68h-6.5zM43.96 379.57h6.5v4.68h-6.5zM56.84 379.57h6.5v4.68h-6.5zM56.84 384.2h6.5v4.68h-6.5zM43.96 388.82h6.5v4.68h-6.5zM56.84 388.82h6.5v4.68h-6.5zM43.96 393.45h6.5v4.68h-6.5zM56.84 393.45h6.5v4.68h-6.5zM43.96 398.07h6.5v4.68h-6.5zM56.84 398.07h6.5v4.68h-6.5zM43.96 402.7h6.5v4.68h-6.5zM56.84 402.7h12.94v4.68h-12.94zM43.96 407.32h6.5v4.68h-6.5zM43.96 411.95h19.38v4.68h-19.38zM43.96 416.57h19.38v4.68h-19.38z"/>
<path fill="#45517f" d="M18.2 347.2h6.5v4.68h-6.5zM43.96 347.2h6.5v4.68h-6.5zM56.84 351.82h12.94v4.68h-12.94zM76.16 351.82h6.5v4.68h-6.5zM50.4 356.45h6.5v4.68h-6.5zM69.72 356.45h6.5v4.68h-6.5zM89.04 356.45h6.5v4.68h-6.5zM50.4 361.07h6.5v4.68h-6.5zM63.28 361.07h6.5v4.68h-6.5zM63.28 365.7h6.5v4.68h-6.5zM63.28 370.32h6.5v4.68h-6.5zM82.6 370.32h12.94v4.68h-12.94zM63.28 374.95h6.5v4.68h-6.5zM63.28 379.57h6.5v4.68h-6.5zM63.28 384.2h6.5v4.68h-6.5zM63.28 388.82h6.5v4.68h-6.5zM63.28 393.45h6.5v4.68h-6.5zM63.28 398.07h6.5v4.68h-6.5zM63.28 407.32h6.5v4.68h-6.5zM63.28 411.95h6.5v4.68h-6.5zM63.28 416.57h6.5v4.68h-6.5z"/>
<path fill="#3d6f8a" d="M31.08 347.2h6.5v4.68h-6.5zM50.4 347.2h6.5v4.68h-6.5zM114.8 347.2h6.5v4.68h-6.5zM69.72 351.82h6.5v4.68h-6.5zM82.6 351.82h12.94v4.68h-12.94zM76.16 356.45h12.94v4.68h-12.94zM18.2 361.07h6.5v4.68h-6.5zM37.52 361.07h6.5v4.68h-6.5zM82.6 361.07h6.5v4.68h-6.5zM18.2 365.7h6.5v4.68h-6.5zM82.6 365.7h6.5v4.68h-6.5zM95.48 374.95h6.5v4.68h-6.5zM82.6 379.57h6.5v4.68h-6.5zM82.6 384.2h6.5v4.68h-6.5zM89.04 388.82h6.5v4.68h-6.5zM76.16 398.07h19.38v4.68h-19.38zM89.04 407.32h6.5v4.68h-6.5zM24.64 411.95h6.5v4.68h-6.5z"/>
<path fill="#3c8c8b" d="M76.16 347.2h6.5v4.68h-6.5zM101.92 347.2h6.5v4.68h-6.5zM18.2 351.82h6.5v4.68h-6.5zM18.2 356.45h6.5v4.68h-6.5zM56.84 356.45h6.5v4.68h-6.5zM24.64 361.07h12.94v4.68h-12.94zM69.72 361.07h12.94v4.68h-12.94zM89.04 361.07h6.5v4.68h-6.5zM24.64 365.7h12.94v4.68h-12.94zM69.72 365.7h12.94v4.68h-12.94zM18.2 370.32h6.5v4.68h-6.5zM31.08 370.32h6.5v4.68h-6.5zM82.6 374.95h12.94v4.68h-12.94zM89.04 379.57h6.5v4.68h-6.5zM82.6 388.82h6.5v4.68h-6.5zM24.64 393.45h6.5v4.68h-6.5zM69.72 393.45h25.82v4.68h-25.82zM37.52 398.07h6.5v4.68h-6.5zM69.72 398.07h6.5v4.68h-6.5zM69.72 402.7h6.5v4.68h-6.5zM82.6 402.7h12.94v4.68h-12.94zM69.72 407.32h19.38v4.68h-19.38zM69.72 411.95h19.38v4.68h-19.38zM69.72 416.57h25.82v4.68h-25.82z"/>
<path fill="#59a886" d="M37.52 347.2h6.5v4.68h-6.5zM63.28 347.2h6.5v4.68h-6.5zM24.64 351.82h12.94v4.68h-12.94zM31.08 356.45h6.5v4.68h-6.5zM37.52 365.7h6.5v4.68h-6.5zM89.04 365.7h6.5v4.68h-6.5zM69.72 370.32h6.5v4.68h-6.5zM18.2 374.95h12.94v4.68h-12.94zM69.72 374.95h12.94v4.68h-12.94zM114.8 374.95h6.5v4.68h-6.5zM69.72 379.57h12.94v4.68h-12.94zM114.8 379.57h6.5v4.68h-6.5zM18.2 384.2h12.94v4.68h-12.94zM69.72 384.2h12.94v4.68h-12.94zM89.04 384.2h6.5v4.68h-6.5zM114.8 384.2h6.5v4.68h-6.5zM18.2 388.82h6.5v4.68h-6.5zM31.08 388.82h6.5v4.68h-6.5zM69.72 388.82h12.94v4.68h-12.94zM101.92 388.82h6.5v4.68h-6.5zM31.08 398.07h6.5v4.68h-6.5zM37.52 402.7h6.5v4.68h-6.5zM76.16 402.7h6.5v4.68h-6.5zM31.08 407.32h6.5v4.68h-6.5zM108.36 407.32h6.5v4.68h-6.5zM18.2 411.95h6.5v4.68h-6.5zM31.08 411.95h6.5v4.68h-6.5zM89.04 411.95h6.5v4.68h-6.5zM18.2 416.57h12.94v4.68h-12.94z"/>
<path fill="#8dbc6f" d="M24.64 347.2h6.5v4.68h-6.5zM69.72 347.2h6.5v4.68h-6.5zM89.04 347.2h6.5v4.68h-6.5zM37.52 351.82h6.5v4.68h-6.5zM37.52 356.45h6.5v4.68h-6.5zM114.8 356.45h6.5v4.68h-6.5zM114.8 361.07h6.5v4.68h-6.5zM101.92 365.7h6.5v4.68h-6.5zM114.8 365.7h6.5v4.68h-6.5zM24.64 370.32h6.5v4.68h-6.5zM37.52 370.32h6.5v4.68h-6.5zM76.16 370.32h6.5v4.68h-6.5zM108.36 370.32h12.94v4.68h-12.94zM31.08 374.95h12.94v4.68h-12.94zM108.36 374.95h6.5v4.68h-6.5zM18.2 379.57h25.82v4.68h-25.82zM95.48 379.57h19.38v4.68h-19.38zM31.08 384.2h12.94v4.68h-12.94zM95.48 384.2h12.94v4.68h-12.94zM24.64 388.82h6.5v4.68h-6.5zM37.52 388.82h6.5v4.68h-6.5zM95.48 388.82h6.5v4.68h-6.5zM114.8 388.82h6.5v4.68h-6.5zM18.2 393.45h6.5v4.68h-6.5zM31.08 393.45h12.94v4.68h-12.94zM95.48 393.45h6.5v4.68h-6.5zM114.8 393.45h6.5v4.68h-6.5zM18.2 398.07h6.5v4.68h-6.5zM95.48 398.07h6.5v4.68h-6.5zM114.8 398.07h6.5v4.68h-6.5zM18.2 402.7h19.38v4.68h-19.38zM95.48 402.7h12.94v4.68h-12.94zM114.8 402.7h6.5v4.68h-6.5zM18.2 407.32h12.94v4.68h-12.94zM37.52 407.32h6.5v4.68h-6.5zM101.92 407.32h6.5v4.68h-6.5zM114.8 407.32h6.5v4.68h-6.5zM37.52 411.95h6.5v4.68h-6.5zM95.48 411.95h6.5v4.68h-6.5zM31.08 416.57h6.5v4.68h-6.5zM95.48 416.57h6.5v4.68h-6.5zM108.36 416.57h12.94v4.68h-12.94z"/>
<path fill="#c6d24e" d="M82.6 347.2h6.5v4.68h-6.5zM108.36 347.2h6.5v4.68h-6.5zM95.48 351.82h19.38v4.68h-19.38zM24.64 356.45h6.5v4.68h-6.5zM95.48 356.45h19.38v4.68h-19.38zM95.48 361.07h6.5v4.68h-6.5zM108.36 361.07h6.5v4.68h-6.5zM95.48 365.7h6.5v4.68h-6.5zM108.36 365.7h6.5v4.68h-6.5zM95.48 370.32h12.94v4.68h-12.94zM108.36 384.2h6.5v4.68h-6.5zM108.36 388.82h6.5v4.68h-6.5zM101.92 393.45h12.94v4.68h-12.94zM24.64 398.07h6.5v4.68h-6.5zM108.36 398.07h6.5v4.68h-6.5zM108.36 402.7h6.5v4.68h-6.5zM95.48 407.32h6.5v4.68h-6.5zM101.92 411.95h19.38v4.68h-19.38zM37.52 416.57h6.5v4.68h-6.5z"/>
<path fill="#eadf30" d="M114.8 351.82h6.5v4.68h-6.5zM101.92 361.07h6.5v4.68h-6.5zM101.92 374.95h6.5v4.68h-6.5zM101.92 398.07h6.5v4.68h-6.5zM101.92 416.57h6.5v4.68h-6.5z"/>
</g>
<rect x="18.2" y="347.2" width="103.04" height="74" fill="none" stroke="#1a1a1a" stroke-width="0.9"/>
<text class="g" x="123.8" y="351.02" font-size="4.2">Cyp1b1</text>
<text class="g" x="123.8" y="355.65" font-size="4.2">Adcl4</text>
<text class="g" x="123.8" y="360.27" font-size="4.2">Nnmt</text>
<text class="g" x="123.8" y="364.9" font-size="4.2">Tf</text>
<text class="g" x="123.8" y="369.52" font-size="4.2">Col1a1</text>
<text class="g" x="123.8" y="374.15" font-size="4.2">Ms4a4d</text>
<text class="g" x="123.8" y="378.77" font-size="4.2">Cldn10</text>
<text class="g" x="123.8" y="383.4" font-size="4.2">Slc26a7</text>
<text class="g" x="123.8" y="388.02" font-size="4.2">Marc1</text>
<text class="g" x="123.8" y="392.65" font-size="4.2">Serpina3c</text>
<text class="g" x="123.8" y="397.27" font-size="4.2">Gpr88</text>
<text class="g" x="123.8" y="401.9" font-size="4.2">1500009L16Rik</text>
<text class="g" x="123.8" y="406.52" font-size="4.2">Serpina3g</text>
<text class="g" x="123.8" y="411.15" font-size="4.2">Ebf3</text>
<text class="g" x="123.8" y="415.77" font-size="4.2">Tmem176a</text>
<text class="g" x="123.8" y="420.4" font-size="4.2">Arrdc4</text>
<g filter="url(#hb)"><rect x="179.4" y="30.9" width="102.08" height="14.7" fill="#3f7f88"/>
<path fill="#46196a" d="M230.44 30.9h12.82v4.96h-12.82zM230.44 40.7h12.82v4.96h-12.82z"/>
<path fill="#493a7a" d="M236.82 35.8h6.44v4.96h-6.44zM255.96 35.8h6.44v4.96h-6.44z"/>
<path fill="#45517f" d="M204.92 30.9h12.82v4.96h-12.82zM243.2 30.9h12.82v4.96h-12.82zM204.92 35.8h6.44v4.96h-6.44zM217.68 35.8h6.44v4.96h-6.44z"/>
<path fill="#3d6f8a" d="M224.06 30.9h6.44v4.96h-6.44zM192.16 35.8h6.44v4.96h-6.44zM211.3 35.8h6.44v4.96h-6.44z"/>
<path fill="#3c8c8b" d="M217.68 30.9h6.44v4.96h-6.44zM179.4 35.8h12.82v4.96h-12.82zM224.06 35.8h12.82v4.96h-12.82zM262.34 35.8h12.82v4.96h-12.82zM179.4 40.7h19.2v4.96h-19.2zM243.2 40.7h6.44v4.96h-6.44zM255.96 40.7h25.58v4.96h-25.58z"/>
<path fill="#59a886" d="M179.4 30.9h6.44v4.96h-6.44zM198.54 40.7h6.44v4.96h-6.44zM249.58 40.7h6.44v4.96h-6.44z"/>
<path fill="#8dbc6f" d="M185.78 30.9h19.2v4.96h-19.2zM255.96 30.9h12.82v4.96h-12.82zM275.1 30.9h6.44v4.96h-6.44zM198.54 35.8h6.44v4.96h-6.44zM243.2 35.8h12.82v4.96h-12.82zM204.92 40.7h6.44v4.96h-6.44zM224.06 40.7h6.44v4.96h-6.44z"/>
<path fill="#c6d24e" d="M211.3 40.7h6.44v4.96h-6.44z"/>
<path fill="#eadf30" d="M268.72 30.9h6.44v4.96h-6.44zM275.1 35.8h6.44v4.96h-6.44zM217.68 40.7h6.44v4.96h-6.44z"/>
</g>
<rect x="179.4" y="30.9" width="102.08" height="14.7" fill="none" stroke="#1a1a1a" stroke-width="0.9"/>
<text class="g" x="284.8" y="34.86" font-size="4.2">Acta2</text>
<text class="g" x="284.8" y="39.76" font-size="4.2">Myh11</text>
<text class="g" x="284.8" y="44.66" font-size="4.2">Mcam</text>
<g filter="url(#hb)"><rect x="179.4" y="51.3" width="102.08" height="92.1" fill="#3f7f88"/>
<path fill="#46196a" d="M236.82 56.42h6.44v5.18h-6.44zM211.3 61.53h6.44v5.18h-6.44zM204.92 66.65h6.44v5.18h-6.44zM204.92 71.77h12.82v5.18h-12.82zM236.82 82h6.44v5.18h-6.44zM217.68 122.93h6.44v5.18h-6.44zM192.16 128.05h6.44v5.18h-6.44zM255.96 138.28h6.44v5.18h-6.44z"/>
<path fill="#493a7a" d="M243.2 51.3h12.82v5.18h-12.82zM230.44 76.88h12.82v5.18h-12.82zM204.92 97.35h6.44v5.18h-6.44zM249.58 107.58h6.44v5.18h-6.44zM230.44 112.7h6.44v5.18h-6.44zM217.68 117.82h6.44v5.18h-6.44zM268.72 122.93h6.44v5.18h-6.44zM192.16 133.17h6.44v5.18h-6.44zM262.34 133.17h6.44v5.18h-6.44zM275.1 133.17h6.44v5.18h-6.44zM179.4 138.28h6.44v5.18h-6.44z"/>
<path fill="#45517f" d="M230.44 51.3h12.82v5.18h-12.82zM217.68 56.42h6.44v5.18h-6.44zM230.44 61.53h12.82v5.18h-12.82zM224.06 66.65h19.2v5.18h-19.2zM230.44 71.77h12.82v5.18h-12.82zM204.92 76.88h19.2v5.18h-19.2zM230.44 82h6.44v5.18h-6.44zM204.92 87.12h19.2v5.18h-19.2zM230.44 87.12h12.82v5.18h-12.82zM204.92 92.23h6.44v5.18h-6.44zM217.68 92.23h6.44v5.18h-6.44zM230.44 92.23h19.2v5.18h-19.2zM217.68 97.35h31.96v5.18h-31.96zM204.92 102.47h6.44v5.18h-6.44zM217.68 102.47h38.34v5.18h-38.34zM217.68 107.58h12.82v5.18h-12.82zM243.2 107.58h6.44v5.18h-6.44zM179.4 112.7h6.44v5.18h-6.44zM204.92 112.7h12.82v5.18h-12.82zM224.06 112.7h6.44v5.18h-6.44zM192.16 117.82h6.44v5.18h-6.44zM204.92 117.82h6.44v5.18h-6.44zM243.2 117.82h6.44v5.18h-6.44zM192.16 122.93h6.44v5.18h-6.44zM224.06 122.93h6.44v5.18h-6.44zM198.54 128.05h6.44v5.18h-6.44zM255.96 128.05h12.82v5.18h-12.82zM185.78 133.17h6.44v5.18h-6.44zM255.96 133.17h6.44v5.18h-6.44zM268.72 133.17h6.44v5.18h-6.44zM185.78 138.28h6.44v5.18h-6.44zM275.1 138.28h6.44v5.18h-6.44z"/>
<path fill="#3d6f8a" d="M217.68 51.3h6.44v5.18h-6.44zM204.92 56.42h6.44v5.18h-6.44zM230.44 56.42h6.44v5.18h-6.44zM262.34 56.42h12.82v5.18h-12.82zM204.92 61.53h6.44v5.18h-6.44zM217.68 61.53h6.44v5.18h-6.44zM268.72 61.53h12.82v5.18h-12.82zM211.3 66.65h6.44v5.18h-6.44zM243.2 76.88h6.44v5.18h-6.44zM192.16 82h6.44v5.18h-6.44zM204.92 82h6.44v5.18h-6.44zM217.68 82h12.82v5.18h-12.82zM243.2 82h6.44v5.18h-6.44zM224.06 87.12h6.44v5.18h-6.44zM243.2 87.12h12.82v5.18h-12.82zM211.3 92.23h6.44v5.18h-6.44zM224.06 92.23h6.44v5.18h-6.44zM249.58 92.23h6.44v5.18h-6.44zM211.3 97.35h6.44v5.18h-6.44zM211.3 102.47h6.44v5.18h-6.44zM179.4 107.58h6.44v5.18h-6.44zM192.16 107.58h19.2v5.18h-19.2zM236.82 107.58h6.44v5.18h-6.44zM192.16 112.7h6.44v5.18h-6.44zM217.68 112.7h6.44v5.18h-6.44zM236.82 112.7h6.44v5.18h-6.44zM198.54 117.82h6.44v5.18h-6.44zM224.06 117.82h6.44v5.18h-6.44zM255.96 117.82h6.44v5.18h-6.44zM198.54 122.93h6.44v5.18h-6.44zM275.1 122.93h6.44v5.18h-6.44zM217.68 128.05h12.82v5.18h-12.82zM243.2 128.05h6.44v5.18h-6.44zM198.54 133.17h6.44v5.18h-6.44zM198.54 138.28h6.44v5.18h-6.44zM262.34 138.28h12.82v5.18h-12.82z"/>
<path fill="#3c8c8b" d="M198.54 51.3h12.82v5.18h-12.82zM224.06 51.3h6.44v5.18h-6.44zM211.3 56.42h6.44v5.18h-6.44zM224.06 56.42h6.44v5.18h-6.44zM243.2 56.42h6.44v5.18h-6.44zM255.96 56.42h6.44v5.18h-6.44zM192.16 61.53h6.44v5.18h-6.44zM243.2 61.53h6.44v5.18h-6.44zM179.4 66.65h6.44v5.18h-6.44zM217.68 66.65h6.44v5.18h-6.44zM249.58 66.65h6.44v5.18h-6.44zM192.16 71.77h6.44v5.18h-6.44zM224.06 71.77h6.44v5.18h-6.44zM243.2 71.77h12.82v5.18h-12.82zM268.72 71.77h6.44v5.18h-6.44zM179.4 76.88h6.44v5.18h-6.44zM192.16 76.88h6.44v5.18h-6.44zM224.06 76.88h6.44v5.18h-6.44zM179.4 82h6.44v5.18h-6.44zM198.54 82h6.44v5.18h-6.44zM211.3 82h6.44v5.18h-6.44zM249.58 82h6.44v5.18h-6.44zM179.4 87.12h6.44v5.18h-6.44zM192.16 92.23h6.44v5.18h-6.44zM192.16 97.35h6.44v5.18h-6.44zM198.54 102.47h6.44v5.18h-6.44zM185.78 107.58h6.44v5.18h-6.44zM211.3 107.58h6.44v5.18h-6.44zM230.44 107.58h6.44v5.18h-6.44zM185.78 112.7h6.44v5.18h-6.44zM243.2 112.7h12.82v5.18h-12.82zM230.44 117.82h6.44v5.18h-6.44zM249.58 117.82h6.44v5.18h-6.44zM243.2 122.93h12.82v5.18h-12.82zM179.4 128.05h12.82v5.18h-12.82zM268.72 128.05h12.82v5.18h-12.82zM179.4 133.17h6.44v5.18h-6.44zM217.68 133.17h6.44v5.18h-6.44zM204.92 138.28h6.44v5.18h-6.44zM236.82 138.28h6.44v5.18h-6.44z"/>
<path fill="#59a886" d="M185.78 51.3h6.44v5.18h-6.44zM211.3 51.3h6.44v5.18h-6.44zM249.58 56.42h6.44v5.18h-6.44zM198.54 61.53h6.44v5.18h-6.44zM224.06 61.53h6.44v5.18h-6.44zM249.58 61.53h12.82v5.18h-12.82zM243.2 66.65h6.44v5.18h-6.44zM275.1 66.65h6.44v5.18h-6.44zM198.54 71.77h6.44v5.18h-6.44zM217.68 71.77h6.44v5.18h-6.44zM185.78 76.88h6.44v5.18h-6.44zM249.58 76.88h6.44v5.18h-6.44zM185.78 82h6.44v5.18h-6.44zM185.78 87.12h19.2v5.18h-19.2zM179.4 97.35h6.44v5.18h-6.44zM198.54 97.35h6.44v5.18h-6.44zM249.58 97.35h6.44v5.18h-6.44zM192.16 102.47h6.44v5.18h-6.44zM198.54 112.7h6.44v5.18h-6.44zM211.3 117.82h6.44v5.18h-6.44zM236.82 117.82h6.44v5.18h-6.44zM204.92 122.93h12.82v5.18h-12.82zM255.96 122.93h6.44v5.18h-6.44zM224.06 133.17h6.44v5.18h-6.44zM230.44 138.28h6.44v5.18h-6.44z"/>
<path fill="#8dbc6f" d="M179.4 51.3h6.44v5.18h-6.44zM192.16 51.3h6.44v5.18h-6.44zM268.72 51.3h12.82v5.18h-12.82zM185.78 61.53h6.44v5.18h-6.44zM185.78 66.65h12.82v5.18h-12.82zM255.96 66.65h6.44v5.18h-6.44zM179.4 71.77h12.82v5.18h-12.82zM255.96 71.77h6.44v5.18h-6.44zM255.96 76.88h19.2v5.18h-19.2zM262.34 82h12.82v5.18h-12.82zM262.34 87.12h6.44v5.18h-6.44zM179.4 92.23h12.82v5.18h-12.82zM198.54 92.23h6.44v5.18h-6.44zM268.72 92.23h6.44v5.18h-6.44zM185.78 97.35h6.44v5.18h-6.44zM179.4 102.47h6.44v5.18h-6.44zM262.34 102.47h6.44v5.18h-6.44zM275.1 102.47h6.44v5.18h-6.44zM268.72 107.58h6.44v5.18h-6.44zM185.78 117.82h6.44v5.18h-6.44zM268.72 117.82h12.82v5.18h-12.82zM262.34 122.93h6.44v5.18h-6.44zM243.2 133.17h12.82v5.18h-12.82zM192.16 138.28h6.44v5.18h-6.44zM211.3 138.28h12.82v5.18h-12.82zM243.2 138.28h12.82v5.18h-12.82z"/>
<path fill="#c6d24e" d="M255.96 51.3h12.82v5.18h-12.82zM179.4 56.42h25.58v5.18h-25.58zM275.1 56.42h6.44v5.18h-6.44zM262.34 61.53h6.44v5.18h-6.44zM198.54 66.65h6.44v5.18h-6.44zM268.72 66.65h6.44v5.18h-6.44zM275.1 71.77h6.44v5.18h-6.44zM198.54 76.88h6.44v5.18h-6.44zM255.96 82h6.44v5.18h-6.44zM275.1 82h6.44v5.18h-6.44zM255.96 87.12h6.44v5.18h-6.44zM275.1 87.12h6.44v5.18h-6.44zM255.96 92.23h12.82v5.18h-12.82zM275.1 92.23h6.44v5.18h-6.44zM255.96 97.35h25.58v5.18h-25.58zM185.78 102.47h6.44v5.18h-6.44zM268.72 102.47h6.44v5.18h-6.44zM275.1 107.58h6.44v5.18h-6.44zM255.96 112.7h12.82v5.18h-12.82zM275.1 112.7h6.44v5.18h-6.44zM179.4 117.82h6.44v5.18h-6.44zM179.4 122.93h12.82v5.18h-12.82zM236.82 122.93h6.44v5.18h-6.44zM204.92 128.05h6.44v5.18h-6.44zM230.44 128.05h12.82v5.18h-12.82zM249.58 128.05h6.44v5.18h-6.44zM204.92 133.17h12.82v5.18h-12.82zM236.82 133.17h6.44v5.18h-6.44z"/>
<path fill="#eadf30" d="M179.4 61.53h6.44v5.18h-6.44zM262.34 66.65h6.44v5.18h-6.44zM262.34 71.77h6.44v5.18h-6.44zM275.1 76.88h6.44v5.18h-6.44zM268.72 87.12h6.44v5.18h-6.44zM255.96 102.47h6.44v5.18h-6.44zM255.96 107.58h12.82v5.18h-12.82zM268.72 112.7h6.44v5.18h-6.44zM262.34 117.82h6.44v5.18h-6.44zM230.44 122.93h6.44v5.18h-6.44zM211.3 128.05h6.44v5.18h-6.44zM230.44 133.17h6.44v5.18h-6.44zM224.06 138.28h6.44v5.18h-6.44z"/>
</g>
<rect x="179.4" y="51.3" width="102.08" height="92.1" fill="none" stroke="#1a1a1a" stroke-width="0.9"/>
<text class="g" x="284.8" y="55.37" font-size="4.2">Meox2</text>
<text class="g" x="284.8" y="60.49" font-size="4.2">Zfhx3</text>
<text class="g" x="284.8" y="65.6" font-size="4.2">Id4</text>
<text class="g" x="284.8" y="70.72" font-size="4.2">Hey1</text>
<text class="g" x="284.8" y="75.84" font-size="4.2">Zfp467</text>
<text class="g" x="284.8" y="80.95" font-size="4.2">Tbx2</text>
<text class="g" x="284.8" y="86.07" font-size="4.2">Nr2f2</text>
<text class="g" x="284.8" y="91.19" font-size="4.2">Zeb2</text>
<text class="g" x="284.8" y="96.3" font-size="4.2">Prrx1</text>
<text class="g" x="284.8" y="101.42" font-size="4.2">Id3</text>
<text class="g" x="284.8" y="106.54" font-size="4.2">Ebf1</text>
<text class="g" x="284.8" y="111.65" font-size="4.2">Ebf2</text>
<text class="g" x="284.8" y="116.77" font-size="4.2">Foxs1</text>
<text class="g" x="284.8" y="121.89" font-size="4.2">Klf9</text>
<text class="g" x="284.8" y="127" font-size="4.2">Irf1</text>
<text class="g" x="284.8" y="132.12" font-size="4.2">Junb</text>
<text class="g" x="284.8" y="137.24" font-size="4.2">Nr4a1</text>
<text class="g" x="284.8" y="142.35" font-size="4.2">Mef2c</text>
<g filter="url(#hb)"><rect x="179.4" y="148.5" width="102.08" height="92.6" fill="#3f7f88"/>
<path fill="#46196a" d="M236.82 205.09h6.44v5.2h-6.44zM230.44 210.23h12.82v5.2h-12.82zM230.44 215.38h12.82v5.2h-12.82zM230.44 220.52h6.44v5.2h-6.44zM236.82 225.67h6.44v5.2h-6.44zM255.96 225.67h6.44v5.2h-6.44zM236.82 230.81h6.44v5.2h-6.44zM268.72 235.96h6.44v5.2h-6.44z"/>
<path fill="#493a7a" d="M236.82 148.5h6.44v5.2h-6.44zM249.58 148.5h6.44v5.2h-6.44zM217.68 153.64h6.44v5.2h-6.44zM236.82 158.79h12.82v5.2h-12.82zM211.3 163.93h6.44v5.2h-6.44zM236.82 169.08h6.44v5.2h-6.44zM211.3 174.22h6.44v5.2h-6.44zM230.44 174.22h12.82v5.2h-12.82zM230.44 179.37h12.82v5.2h-12.82zM230.44 205.09h6.44v5.2h-6.44zM255.96 235.96h6.44v5.2h-6.44z"/>
<path fill="#45517f" d="M230.44 148.5h6.44v5.2h-6.44zM204.92 153.64h12.82v5.2h-12.82zM224.06 153.64h19.2v5.2h-19.2zM204.92 158.79h12.82v5.2h-12.82zM230.44 158.79h6.44v5.2h-6.44zM204.92 163.93h6.44v5.2h-6.44zM217.68 163.93h6.44v5.2h-6.44zM230.44 163.93h12.82v5.2h-12.82zM204.92 169.08h19.2v5.2h-19.2zM230.44 169.08h6.44v5.2h-6.44zM204.92 174.22h6.44v5.2h-6.44zM217.68 174.22h6.44v5.2h-6.44zM204.92 179.37h6.44v5.2h-6.44zM204.92 184.51h19.2v5.2h-19.2zM230.44 184.51h12.82v5.2h-12.82zM249.58 184.51h6.44v5.2h-6.44zM204.92 189.66h38.34v5.2h-38.34zM249.58 189.66h6.44v5.2h-6.44zM204.92 194.8h38.34v5.2h-38.34zM249.58 194.8h6.44v5.2h-6.44zM204.92 199.94h6.44v5.2h-6.44zM224.06 199.94h25.58v5.2h-25.58zM262.34 205.09h6.44v5.2h-6.44zM243.2 215.38h6.44v5.2h-6.44zM236.82 220.52h12.82v5.2h-12.82zM275.1 220.52h6.44v5.2h-6.44zM230.44 225.67h6.44v5.2h-6.44zM255.96 230.81h6.44v5.2h-6.44zM179.4 235.96h6.44v5.2h-6.44z"/>
<path fill="#3d6f8a" d="M198.54 148.5h25.58v5.2h-25.58zM243.2 153.64h6.44v5.2h-6.44zM217.68 158.79h12.82v5.2h-12.82zM249.58 158.79h6.44v5.2h-6.44zM224.06 163.93h6.44v5.2h-6.44zM243.2 163.93h12.82v5.2h-12.82zM179.4 169.08h6.44v5.2h-6.44zM224.06 169.08h6.44v5.2h-6.44zM249.58 169.08h6.44v5.2h-6.44zM224.06 174.22h6.44v5.2h-6.44zM249.58 174.22h6.44v5.2h-6.44zM211.3 179.37h19.2v5.2h-19.2zM243.2 179.37h12.82v5.2h-12.82zM224.06 184.51h6.44v5.2h-6.44zM243.2 184.51h6.44v5.2h-6.44zM192.16 189.66h6.44v5.2h-6.44zM243.2 189.66h6.44v5.2h-6.44zM243.2 194.8h6.44v5.2h-6.44zM249.58 199.94h6.44v5.2h-6.44zM243.2 210.23h6.44v5.2h-6.44zM211.3 215.38h6.44v5.2h-6.44zM249.58 215.38h6.44v5.2h-6.44zM198.54 220.52h6.44v5.2h-6.44zM262.34 225.67h6.44v5.2h-6.44zM275.1 225.67h6.44v5.2h-6.44zM230.44 230.81h6.44v5.2h-6.44zM243.2 230.81h6.44v5.2h-6.44zM262.34 230.81h6.44v5.2h-6.44zM275.1 230.81h6.44v5.2h-6.44z"/>
<path fill="#3c8c8b" d="M179.4 148.5h6.44v5.2h-6.44zM224.06 148.5h6.44v5.2h-6.44zM243.2 148.5h6.44v5.2h-6.44zM249.58 153.64h6.44v5.2h-6.44zM243.2 169.08h6.44v5.2h-6.44zM243.2 174.22h6.44v5.2h-6.44zM179.4 184.51h6.44v5.2h-6.44zM179.4 189.66h6.44v5.2h-6.44zM192.16 199.94h6.44v5.2h-6.44zM211.3 199.94h12.82v5.2h-12.82zM179.4 205.09h6.44v5.2h-6.44zM192.16 205.09h6.44v5.2h-6.44zM204.92 205.09h6.44v5.2h-6.44zM217.68 205.09h6.44v5.2h-6.44zM243.2 205.09h6.44v5.2h-6.44zM255.96 205.09h6.44v5.2h-6.44zM198.54 210.23h19.2v5.2h-19.2zM249.58 210.23h19.2v5.2h-19.2zM179.4 215.38h6.44v5.2h-6.44zM204.92 215.38h6.44v5.2h-6.44zM204.92 220.52h6.44v5.2h-6.44zM262.34 220.52h6.44v5.2h-6.44zM179.4 225.67h6.44v5.2h-6.44zM204.92 225.67h6.44v5.2h-6.44zM243.2 225.67h12.82v5.2h-12.82zM185.78 230.81h6.44v5.2h-6.44zM249.58 230.81h6.44v5.2h-6.44zM185.78 235.96h19.2v5.2h-19.2zM217.68 235.96h6.44v5.2h-6.44zM230.44 235.96h19.2v5.2h-19.2zM275.1 235.96h6.44v5.2h-6.44z"/>
<path fill="#59a886" d="M192.16 148.5h6.44v5.2h-6.44zM192.16 153.64h12.82v5.2h-12.82zM179.4 158.79h12.82v5.2h-12.82zM262.34 158.79h6.44v5.2h-6.44zM179.4 163.93h12.82v5.2h-12.82zM185.78 169.08h19.2v5.2h-19.2zM179.4 174.22h12.82v5.2h-12.82zM198.54 174.22h6.44v5.2h-6.44zM179.4 179.37h12.82v5.2h-12.82zM198.54 179.37h6.44v5.2h-6.44zM185.78 184.51h6.44v5.2h-6.44zM198.54 184.51h6.44v5.2h-6.44zM185.78 189.66h6.44v5.2h-6.44zM198.54 189.66h6.44v5.2h-6.44zM179.4 194.8h6.44v5.2h-6.44zM192.16 194.8h12.82v5.2h-12.82zM179.4 199.94h12.82v5.2h-12.82zM185.78 205.09h6.44v5.2h-6.44zM198.54 205.09h6.44v5.2h-6.44zM192.16 210.23h6.44v5.2h-6.44zM217.68 210.23h12.82v5.2h-12.82zM198.54 215.38h6.44v5.2h-6.44zM217.68 215.38h12.82v5.2h-12.82zM255.96 215.38h6.44v5.2h-6.44zM275.1 215.38h6.44v5.2h-6.44zM185.78 220.52h12.82v5.2h-12.82zM211.3 220.52h6.44v5.2h-6.44zM249.58 220.52h12.82v5.2h-12.82zM185.78 225.67h12.82v5.2h-12.82zM179.4 230.81h6.44v5.2h-6.44zM192.16 230.81h12.82v5.2h-12.82zM211.3 230.81h6.44v5.2h-6.44zM268.72 230.81h6.44v5.2h-6.44zM204.92 235.96h6.44v5.2h-6.44zM224.06 235.96h6.44v5.2h-6.44zM262.34 235.96h6.44v5.2h-6.44z"/>
<path fill="#8dbc6f" d="M185.78 148.5h6.44v5.2h-6.44zM268.72 148.5h12.82v5.2h-12.82zM179.4 153.64h12.82v5.2h-12.82zM262.34 153.64h12.82v5.2h-12.82zM192.16 158.79h12.82v5.2h-12.82zM275.1 158.79h6.44v5.2h-6.44zM192.16 163.93h6.44v5.2h-6.44zM268.72 163.93h12.82v5.2h-12.82zM255.96 169.08h6.44v5.2h-6.44zM275.1 169.08h6.44v5.2h-6.44zM255.96 174.22h6.44v5.2h-6.44zM268.72 174.22h12.82v5.2h-12.82zM192.16 179.37h6.44v5.2h-6.44zM255.96 179.37h6.44v5.2h-6.44zM275.1 179.37h6.44v5.2h-6.44zM192.16 184.51h6.44v5.2h-6.44zM255.96 184.51h6.44v5.2h-6.44zM275.1 184.51h6.44v5.2h-6.44zM268.72 189.66h12.82v5.2h-12.82zM185.78 194.8h6.44v5.2h-6.44zM275.1 194.8h6.44v5.2h-6.44zM198.54 199.94h6.44v5.2h-6.44zM224.06 205.09h6.44v5.2h-6.44zM249.58 205.09h6.44v5.2h-6.44zM268.72 205.09h12.82v5.2h-12.82zM179.4 210.23h12.82v5.2h-12.82zM268.72 210.23h6.44v5.2h-6.44zM185.78 215.38h6.44v5.2h-6.44zM262.34 215.38h12.82v5.2h-12.82zM179.4 220.52h6.44v5.2h-6.44zM217.68 220.52h6.44v5.2h-6.44zM268.72 220.52h6.44v5.2h-6.44zM198.54 225.67h6.44v5.2h-6.44zM211.3 225.67h6.44v5.2h-6.44zM224.06 225.67h6.44v5.2h-6.44zM204.92 230.81h6.44v5.2h-6.44z"/>
<path fill="#c6d24e" d="M255.96 153.64h6.44v5.2h-6.44zM275.1 153.64h6.44v5.2h-6.44zM255.96 158.79h6.44v5.2h-6.44zM198.54 163.93h6.44v5.2h-6.44zM262.34 163.93h6.44v5.2h-6.44zM262.34 169.08h12.82v5.2h-12.82zM192.16 174.22h6.44v5.2h-6.44zM262.34 174.22h6.44v5.2h-6.44zM262.34 179.37h12.82v5.2h-12.82zM262.34 184.51h12.82v5.2h-12.82zM255.96 189.66h6.44v5.2h-6.44zM255.96 194.8h19.2v5.2h-19.2zM255.96 199.94h12.82v5.2h-12.82zM211.3 205.09h6.44v5.2h-6.44zM275.1 210.23h6.44v5.2h-6.44zM192.16 215.38h6.44v5.2h-6.44zM224.06 220.52h6.44v5.2h-6.44zM268.72 225.67h6.44v5.2h-6.44z"/>
<path fill="#eadf30" d="M255.96 148.5h12.82v5.2h-12.82zM268.72 158.79h6.44v5.2h-6.44zM255.96 163.93h6.44v5.2h-6.44zM262.34 189.66h6.44v5.2h-6.44zM268.72 199.94h12.82v5.2h-12.82zM217.68 225.67h6.44v5.2h-6.44zM217.68 230.81h12.82v5.2h-12.82zM211.3 235.96h6.44v5.2h-6.44zM249.58 235.96h6.44v5.2h-6.44z"/>
</g>
<rect x="179.4" y="148.5" width="102.08" height="92.6" fill="none" stroke="#1a1a1a" stroke-width="0.9"/>
<text class="g" x="284.8" y="152.58" font-size="4.2">Agtr1a</text>
<text class="g" x="284.8" y="157.73" font-size="4.2">Pdgfrb</text>
<text class="g" x="284.8" y="162.87" font-size="4.2">Olfml2a</text>
<text class="g" x="284.8" y="168.02" font-size="4.2">Cald1</text>
<text class="g" x="284.8" y="173.16" font-size="4.2">Steap4</text>
<text class="g" x="284.8" y="178.31" font-size="4.2">Ednra</text>
<text class="g" x="284.8" y="183.45" font-size="4.2">Aoc3</text>
<text class="g" x="284.8" y="188.6" font-size="4.2">Aspn</text>
<text class="g" x="284.8" y="193.74" font-size="4.2">Col5a3</text>
<text class="g" x="284.8" y="198.88" font-size="4.2">Thy1</text>
<text class="g" x="284.8" y="204.03" font-size="4.2">Col18a1</text>
<text class="g" x="284.8" y="209.17" font-size="4.2">Atp1b2</text>
<text class="g" x="284.8" y="214.32" font-size="4.2">Itga7</text>
<text class="g" x="284.8" y="219.46" font-size="4.2">Sncg</text>
<text class="g" x="284.8" y="224.61" font-size="4.2">Bcam</text>
<text class="g" x="284.8" y="229.75" font-size="4.2">Parm1</text>
<text class="g" x="284.8" y="234.9" font-size="4.2">Serpini1</text>
<text class="g" x="284.8" y="240.04" font-size="4.2">Rrad</text>
<g filter="url(#hb)"><rect x="179.4" y="246" width="102.08" height="82.2" fill="#3f7f88"/>
<path fill="#46196a" d="M255.96 261.41h6.44v5.2h-6.44zM268.72 261.41h6.44v5.2h-6.44zM217.68 287.1h6.44v5.2h-6.44zM204.92 297.38h6.44v5.2h-6.44zM211.3 302.51h6.44v5.2h-6.44zM249.58 307.65h6.44v5.2h-6.44zM230.44 312.79h12.82v5.2h-12.82zM249.58 317.92h6.44v5.2h-6.44zM198.54 323.06h6.44v5.2h-6.44z"/>
<path fill="#493a7a" d="M224.06 246h6.44v5.2h-6.44zM249.58 246h6.44v5.2h-6.44zM185.78 251.14h12.82v5.2h-12.82zM217.68 251.14h6.44v5.2h-6.44zM268.72 256.27h6.44v5.2h-6.44zM230.44 266.55h12.82v5.2h-12.82zM236.82 276.82h6.44v5.2h-6.44zM211.3 281.96h6.44v5.2h-6.44zM224.06 297.38h6.44v5.2h-6.44zM204.92 302.51h6.44v5.2h-6.44zM217.68 302.51h6.44v5.2h-6.44zM217.68 307.65h6.44v5.2h-6.44zM243.2 307.65h6.44v5.2h-6.44zM236.82 317.92h6.44v5.2h-6.44zM230.44 323.06h6.44v5.2h-6.44z"/>
<path fill="#45517f" d="M198.54 246h6.44v5.2h-6.44zM217.68 246h6.44v5.2h-6.44zM275.1 251.14h6.44v5.2h-6.44zM185.78 256.27h12.82v5.2h-12.82zM255.96 256.27h6.44v5.2h-6.44zM192.16 261.41h6.44v5.2h-6.44zM204.92 266.55h12.82v5.2h-12.82zM204.92 271.69h19.2v5.2h-19.2zM230.44 271.69h19.2v5.2h-19.2zM204.92 276.82h19.2v5.2h-19.2zM230.44 276.82h6.44v5.2h-6.44zM204.92 281.96h6.44v5.2h-6.44zM217.68 281.96h6.44v5.2h-6.44zM230.44 281.96h12.82v5.2h-12.82zM249.58 281.96h6.44v5.2h-6.44zM204.92 287.1h12.82v5.2h-12.82zM236.82 287.1h6.44v5.2h-6.44zM204.92 292.24h12.82v5.2h-12.82zM230.44 292.24h12.82v5.2h-12.82zM211.3 297.38h12.82v5.2h-12.82zM224.06 302.51h19.2v5.2h-19.2zM211.3 307.65h6.44v5.2h-6.44zM217.68 317.92h12.82v5.2h-12.82zM249.58 323.06h6.44v5.2h-6.44z"/>
<path fill="#3d6f8a" d="M179.4 246h19.2v5.2h-19.2zM275.1 246h6.44v5.2h-6.44zM198.54 251.14h12.82v5.2h-12.82zM268.72 251.14h6.44v5.2h-6.44zM179.4 256.27h6.44v5.2h-6.44zM198.54 256.27h6.44v5.2h-6.44zM262.34 256.27h6.44v5.2h-6.44zM275.1 256.27h6.44v5.2h-6.44zM179.4 261.41h6.44v5.2h-6.44zM198.54 261.41h6.44v5.2h-6.44zM217.68 266.55h6.44v5.2h-6.44zM243.2 266.55h6.44v5.2h-6.44zM224.06 271.69h6.44v5.2h-6.44zM249.58 271.69h6.44v5.2h-6.44zM224.06 276.82h6.44v5.2h-6.44zM243.2 276.82h12.82v5.2h-12.82zM224.06 281.96h6.44v5.2h-6.44zM243.2 281.96h6.44v5.2h-6.44zM224.06 287.1h12.82v5.2h-12.82zM243.2 287.1h6.44v5.2h-6.44zM179.4 292.24h6.44v5.2h-6.44zM217.68 292.24h12.82v5.2h-12.82zM243.2 292.24h12.82v5.2h-12.82zM243.2 297.38h12.82v5.2h-12.82zM179.4 307.65h6.44v5.2h-6.44zM198.54 307.65h6.44v5.2h-6.44zM192.16 312.79h6.44v5.2h-6.44zM243.2 312.79h6.44v5.2h-6.44zM230.44 317.92h6.44v5.2h-6.44zM243.2 317.92h6.44v5.2h-6.44zM224.06 323.06h6.44v5.2h-6.44z"/>
<path fill="#3c8c8b" d="M204.92 246h6.44v5.2h-6.44zM236.82 246h6.44v5.2h-6.44zM268.72 246h6.44v5.2h-6.44zM224.06 251.14h6.44v5.2h-6.44zM255.96 251.14h6.44v5.2h-6.44zM204.92 261.41h6.44v5.2h-6.44zM262.34 261.41h6.44v5.2h-6.44zM224.06 266.55h6.44v5.2h-6.44zM249.58 266.55h6.44v5.2h-6.44zM192.16 271.69h6.44v5.2h-6.44zM179.4 287.1h6.44v5.2h-6.44zM249.58 287.1h6.44v5.2h-6.44zM185.78 292.24h6.44v5.2h-6.44zM192.16 297.38h6.44v5.2h-6.44zM230.44 297.38h12.82v5.2h-12.82zM243.2 302.51h6.44v5.2h-6.44zM262.34 302.51h6.44v5.2h-6.44zM192.16 307.65h6.44v5.2h-6.44zM224.06 307.65h6.44v5.2h-6.44zM255.96 307.65h6.44v5.2h-6.44zM179.4 312.79h6.44v5.2h-6.44zM198.54 312.79h6.44v5.2h-6.44zM249.58 312.79h12.82v5.2h-12.82zM275.1 312.79h6.44v5.2h-6.44zM179.4 317.92h12.82v5.2h-12.82zM198.54 317.92h6.44v5.2h-6.44zM255.96 317.92h6.44v5.2h-6.44zM275.1 317.92h6.44v5.2h-6.44zM204.92 323.06h12.82v5.2h-12.82zM255.96 323.06h6.44v5.2h-6.44zM275.1 323.06h6.44v5.2h-6.44z"/>
<path fill="#59a886" d="M211.3 246h6.44v5.2h-6.44zM255.96 246h6.44v5.2h-6.44zM179.4 251.14h6.44v5.2h-6.44zM230.44 251.14h6.44v5.2h-6.44zM204.92 256.27h12.82v5.2h-12.82zM224.06 261.41h19.2v5.2h-19.2zM249.58 261.41h6.44v5.2h-6.44zM275.1 261.41h6.44v5.2h-6.44zM198.54 271.69h6.44v5.2h-6.44zM192.16 276.82h12.82v5.2h-12.82zM192.16 281.96h12.82v5.2h-12.82zM185.78 287.1h19.2v5.2h-19.2zM192.16 292.24h12.82v5.2h-12.82zM179.4 297.38h6.44v5.2h-6.44zM185.78 307.65h6.44v5.2h-6.44zM230.44 307.65h6.44v5.2h-6.44zM262.34 307.65h6.44v5.2h-6.44zM185.78 312.79h6.44v5.2h-6.44zM224.06 312.79h6.44v5.2h-6.44zM262.34 312.79h6.44v5.2h-6.44zM204.92 317.92h6.44v5.2h-6.44zM268.72 317.92h6.44v5.2h-6.44zM179.4 323.06h6.44v5.2h-6.44zM262.34 323.06h6.44v5.2h-6.44z"/>
<path fill="#8dbc6f" d="M243.2 251.14h6.44v5.2h-6.44zM217.68 256.27h12.82v5.2h-12.82zM236.82 256.27h6.44v5.2h-6.44zM249.58 256.27h6.44v5.2h-6.44zM185.78 261.41h6.44v5.2h-6.44zM211.3 261.41h12.82v5.2h-12.82zM179.4 266.55h12.82v5.2h-12.82zM255.96 266.55h25.58v5.2h-25.58zM179.4 271.69h12.82v5.2h-12.82zM179.4 276.82h12.82v5.2h-12.82zM262.34 281.96h6.44v5.2h-6.44zM275.1 281.96h6.44v5.2h-6.44zM275.1 287.1h6.44v5.2h-6.44zM185.78 297.38h6.44v5.2h-6.44zM255.96 297.38h12.82v5.2h-12.82zM185.78 302.51h19.2v5.2h-19.2zM249.58 302.51h12.82v5.2h-12.82zM268.72 307.65h12.82v5.2h-12.82zM204.92 312.79h12.82v5.2h-12.82zM185.78 323.06h12.82v5.2h-12.82zM217.68 323.06h6.44v5.2h-6.44zM236.82 323.06h12.82v5.2h-12.82zM268.72 323.06h6.44v5.2h-6.44z"/>
<path fill="#c6d24e" d="M230.44 246h6.44v5.2h-6.44zM211.3 251.14h6.44v5.2h-6.44zM236.82 251.14h6.44v5.2h-6.44zM249.58 251.14h6.44v5.2h-6.44zM262.34 251.14h6.44v5.2h-6.44zM243.2 256.27h6.44v5.2h-6.44zM192.16 266.55h12.82v5.2h-12.82zM255.96 271.69h25.58v5.2h-25.58zM255.96 276.82h25.58v5.2h-25.58zM179.4 281.96h12.82v5.2h-12.82zM255.96 281.96h6.44v5.2h-6.44zM268.72 281.96h6.44v5.2h-6.44zM255.96 287.1h19.2v5.2h-19.2zM262.34 292.24h19.2v5.2h-19.2zM198.54 297.38h6.44v5.2h-6.44zM268.72 297.38h12.82v5.2h-12.82zM179.4 302.51h6.44v5.2h-6.44zM268.72 302.51h12.82v5.2h-12.82zM236.82 307.65h6.44v5.2h-6.44zM217.68 312.79h6.44v5.2h-6.44zM268.72 312.79h6.44v5.2h-6.44zM211.3 317.92h6.44v5.2h-6.44z"/>
<path fill="#eadf30" d="M243.2 246h6.44v5.2h-6.44zM262.34 246h6.44v5.2h-6.44zM230.44 256.27h6.44v5.2h-6.44zM243.2 261.41h6.44v5.2h-6.44zM255.96 292.24h6.44v5.2h-6.44zM204.92 307.65h6.44v5.2h-6.44zM192.16 317.92h6.44v5.2h-6.44zM262.34 317.92h6.44v5.2h-6.44z"/>
</g>
<rect x="179.4" y="246" width="102.08" height="82.2" fill="none" stroke="#1a1a1a" stroke-width="0.9"/>
<text class="g" x="284.8" y="250.08" font-size="4.2">Cxcl1</text>
<text class="g" x="284.8" y="255.22" font-size="4.2">Rarres2</text>
<text class="g" x="284.8" y="260.36" font-size="4.2">Gpc6</text>
<text class="g" x="284.8" y="265.49" font-size="4.2">Ngf</text>
<text class="g" x="284.8" y="270.63" font-size="4.2">Notch3</text>
<text class="g" x="284.8" y="275.77" font-size="4.2">Col4a1</text>
<text class="g" x="284.8" y="280.91" font-size="4.2">Col14a2</text>
<text class="g" x="284.8" y="286.04" font-size="4.2">Fst</text>
<text class="g" x="284.8" y="291.18" font-size="4.2">Rbm4l1</text>
<text class="g" x="284.8" y="296.32" font-size="4.2">Vcan4</text>
<text class="g" x="284.8" y="301.46" font-size="4.2">Pgf</text>
<text class="g" x="284.8" y="306.59" font-size="4.2">Il34</text>
<text class="g" x="284.8" y="311.73" font-size="4.2">Art3</text>
<text class="g" x="284.8" y="316.87" font-size="4.2">Tinagl1</text>
<text class="g" x="284.8" y="322.01" font-size="4.2">Il6</text>
<text class="g" x="284.8" y="327.14" font-size="4.2">Myl1</text>
<g filter="url(#hb)"><rect x="179.4" y="334.4" width="102.08" height="86.9" fill="#3f7f88"/>
<path fill="#46196a" d="M230.44 334.4h12.82v5.17h-12.82zM230.44 339.51h12.82v5.17h-12.82zM230.44 344.62h12.82v5.17h-12.82zM236.82 349.74h6.44v5.17h-6.44zM230.44 354.85h12.82v5.17h-12.82zM230.44 359.96h12.82v5.17h-12.82zM230.44 365.07h12.82v5.17h-12.82zM230.44 370.18h12.82v5.17h-12.82zM230.44 375.29h12.82v5.17h-12.82zM230.44 380.41h12.82v5.17h-12.82zM236.82 390.63h6.44v5.17h-6.44zM236.82 395.74h6.44v5.17h-6.44zM217.68 405.96h6.44v5.17h-6.44zM236.82 411.08h6.44v5.17h-6.44zM275.1 411.08h6.44v5.17h-6.44zM236.82 416.19h6.44v5.17h-6.44z"/>
<path fill="#493a7a" d="M243.2 344.62h6.44v5.17h-6.44zM230.44 349.74h6.44v5.17h-6.44zM230.44 390.63h6.44v5.17h-6.44zM230.44 395.74h6.44v5.17h-6.44zM230.44 400.85h12.82v5.17h-12.82zM211.3 405.96h6.44v5.17h-6.44zM198.54 416.19h6.44v5.17h-6.44z"/>
<path fill="#45517f" d="M243.2 334.4h6.44v5.17h-6.44zM243.2 339.51h6.44v5.17h-6.44zM211.3 359.96h6.44v5.17h-6.44zM243.2 365.07h6.44v5.17h-6.44zM243.2 370.18h12.82v5.17h-12.82zM217.68 380.41h6.44v5.17h-6.44zM204.92 385.52h6.44v5.17h-6.44zM224.06 385.52h31.96v5.17h-31.96zM204.92 390.63h6.44v5.17h-6.44zM243.2 390.63h6.44v5.17h-6.44zM211.3 395.74h6.44v5.17h-6.44zM243.2 395.74h6.44v5.17h-6.44zM243.2 400.85h12.82v5.17h-12.82zM230.44 405.96h19.2v5.17h-19.2zM192.16 411.08h6.44v5.17h-6.44zM230.44 411.08h6.44v5.17h-6.44zM192.16 416.19h6.44v5.17h-6.44z"/>
<path fill="#3d6f8a" d="M204.92 334.4h6.44v5.17h-6.44zM249.58 334.4h6.44v5.17h-6.44zM211.3 339.51h6.44v5.17h-6.44zM249.58 339.51h6.44v5.17h-6.44zM179.4 349.74h6.44v5.17h-6.44zM211.3 349.74h6.44v5.17h-6.44zM243.2 349.74h6.44v5.17h-6.44zM179.4 354.85h6.44v5.17h-6.44zM211.3 354.85h6.44v5.17h-6.44zM243.2 354.85h6.44v5.17h-6.44zM249.58 359.96h6.44v5.17h-6.44zM204.92 365.07h6.44v5.17h-6.44zM211.3 370.18h6.44v5.17h-6.44zM198.54 375.29h6.44v5.17h-6.44zM211.3 375.29h6.44v5.17h-6.44zM204.92 380.41h6.44v5.17h-6.44zM211.3 385.52h12.82v5.17h-12.82zM211.3 390.63h19.2v5.17h-19.2zM249.58 390.63h6.44v5.17h-6.44zM204.92 395.74h6.44v5.17h-6.44zM249.58 395.74h6.44v5.17h-6.44zM204.92 400.85h12.82v5.17h-12.82zM192.16 405.96h6.44v5.17h-6.44zM204.92 405.96h6.44v5.17h-6.44zM224.06 405.96h6.44v5.17h-6.44zM185.78 416.19h6.44v5.17h-6.44zM230.44 416.19h6.44v5.17h-6.44z"/>
<path fill="#3c8c8b" d="M192.16 334.4h6.44v5.17h-6.44zM211.3 334.4h19.2v5.17h-19.2zM198.54 339.51h12.82v5.17h-12.82zM217.68 339.51h12.82v5.17h-12.82zM192.16 344.62h6.44v5.17h-6.44zM204.92 344.62h6.44v5.17h-6.44zM249.58 344.62h6.44v5.17h-6.44zM224.06 349.74h6.44v5.17h-6.44zM249.58 349.74h6.44v5.17h-6.44zM262.34 349.74h6.44v5.17h-6.44zM275.1 349.74h6.44v5.17h-6.44zM204.92 354.85h6.44v5.17h-6.44zM249.58 354.85h6.44v5.17h-6.44zM262.34 354.85h6.44v5.17h-6.44zM275.1 354.85h6.44v5.17h-6.44zM204.92 359.96h6.44v5.17h-6.44zM224.06 359.96h6.44v5.17h-6.44zM243.2 359.96h6.44v5.17h-6.44zM211.3 365.07h6.44v5.17h-6.44zM224.06 365.07h6.44v5.17h-6.44zM249.58 365.07h6.44v5.17h-6.44zM204.92 370.18h6.44v5.17h-6.44zM262.34 370.18h6.44v5.17h-6.44zM179.4 375.29h6.44v5.17h-6.44zM249.58 375.29h6.44v5.17h-6.44zM275.1 375.29h6.44v5.17h-6.44zM211.3 380.41h6.44v5.17h-6.44zM249.58 380.41h6.44v5.17h-6.44zM262.34 380.41h6.44v5.17h-6.44zM275.1 380.41h6.44v5.17h-6.44zM179.4 395.74h6.44v5.17h-6.44zM217.68 395.74h12.82v5.17h-12.82zM217.68 400.85h12.82v5.17h-12.82zM268.72 405.96h6.44v5.17h-6.44zM179.4 411.08h12.82v5.17h-12.82zM211.3 411.08h6.44v5.17h-6.44zM243.2 411.08h6.44v5.17h-6.44zM262.34 411.08h6.44v5.17h-6.44zM179.4 416.19h6.44v5.17h-6.44zM243.2 416.19h25.58v5.17h-25.58zM275.1 416.19h6.44v5.17h-6.44z"/>
<path fill="#59a886" d="M198.54 334.4h6.44v5.17h-6.44zM179.4 344.62h12.82v5.17h-12.82zM211.3 344.62h6.44v5.17h-6.44zM224.06 344.62h6.44v5.17h-6.44zM185.78 349.74h6.44v5.17h-6.44zM198.54 349.74h12.82v5.17h-12.82zM192.16 354.85h12.82v5.17h-12.82zM224.06 354.85h6.44v5.17h-6.44zM217.68 359.96h6.44v5.17h-6.44zM255.96 359.96h6.44v5.17h-6.44zM275.1 359.96h6.44v5.17h-6.44zM217.68 365.07h6.44v5.17h-6.44zM262.34 365.07h6.44v5.17h-6.44zM275.1 365.07h6.44v5.17h-6.44zM179.4 370.18h6.44v5.17h-6.44zM224.06 370.18h6.44v5.17h-6.44zM275.1 370.18h6.44v5.17h-6.44zM217.68 375.29h12.82v5.17h-12.82zM262.34 375.29h6.44v5.17h-6.44zM198.54 380.41h6.44v5.17h-6.44zM224.06 380.41h6.44v5.17h-6.44zM179.4 385.52h6.44v5.17h-6.44zM192.16 385.52h12.82v5.17h-12.82zM192.16 390.63h6.44v5.17h-6.44zM185.78 395.74h6.44v5.17h-6.44zM198.54 395.74h6.44v5.17h-6.44zM179.4 400.85h12.82v5.17h-12.82zM255.96 400.85h12.82v5.17h-12.82zM179.4 405.96h6.44v5.17h-6.44zM275.1 405.96h6.44v5.17h-6.44zM198.54 411.08h12.82v5.17h-12.82zM255.96 411.08h6.44v5.17h-6.44z"/>
<path fill="#8dbc6f" d="M185.78 334.4h6.44v5.17h-6.44zM255.96 334.4h6.44v5.17h-6.44zM268.72 334.4h12.82v5.17h-12.82zM185.78 339.51h12.82v5.17h-12.82zM262.34 339.51h19.2v5.17h-19.2zM198.54 344.62h6.44v5.17h-6.44zM217.68 344.62h6.44v5.17h-6.44zM255.96 344.62h25.58v5.17h-25.58zM217.68 349.74h6.44v5.17h-6.44zM255.96 349.74h6.44v5.17h-6.44zM185.78 354.85h6.44v5.17h-6.44zM217.68 354.85h6.44v5.17h-6.44zM255.96 354.85h6.44v5.17h-6.44zM179.4 359.96h25.58v5.17h-25.58zM262.34 359.96h12.82v5.17h-12.82zM179.4 365.07h12.82v5.17h-12.82zM255.96 365.07h6.44v5.17h-6.44zM268.72 365.07h6.44v5.17h-6.44zM185.78 370.18h19.2v5.17h-19.2zM217.68 370.18h6.44v5.17h-6.44zM255.96 370.18h6.44v5.17h-6.44zM268.72 370.18h6.44v5.17h-6.44zM185.78 375.29h12.82v5.17h-12.82zM204.92 375.29h6.44v5.17h-6.44zM243.2 375.29h6.44v5.17h-6.44zM255.96 375.29h6.44v5.17h-6.44zM268.72 375.29h6.44v5.17h-6.44zM179.4 380.41h19.2v5.17h-19.2zM243.2 380.41h6.44v5.17h-6.44zM255.96 380.41h6.44v5.17h-6.44zM268.72 380.41h6.44v5.17h-6.44zM185.78 385.52h6.44v5.17h-6.44zM179.4 390.63h12.82v5.17h-12.82zM198.54 390.63h6.44v5.17h-6.44zM255.96 390.63h12.82v5.17h-12.82zM275.1 390.63h6.44v5.17h-6.44zM192.16 395.74h6.44v5.17h-6.44zM262.34 395.74h6.44v5.17h-6.44zM198.54 400.85h6.44v5.17h-6.44zM268.72 400.85h12.82v5.17h-12.82zM198.54 405.96h6.44v5.17h-6.44zM249.58 405.96h12.82v5.17h-12.82zM224.06 411.08h6.44v5.17h-6.44zM249.58 411.08h6.44v5.17h-6.44zM268.72 411.08h6.44v5.17h-6.44zM268.72 416.19h6.44v5.17h-6.44z"/>
<path fill="#c6d24e" d="M179.4 334.4h6.44v5.17h-6.44zM262.34 334.4h6.44v5.17h-6.44zM179.4 339.51h6.44v5.17h-6.44zM255.96 339.51h6.44v5.17h-6.44zM192.16 349.74h6.44v5.17h-6.44zM268.72 349.74h6.44v5.17h-6.44zM192.16 365.07h12.82v5.17h-12.82zM255.96 385.52h25.58v5.17h-25.58zM268.72 390.63h6.44v5.17h-6.44zM255.96 395.74h6.44v5.17h-6.44zM268.72 395.74h12.82v5.17h-12.82zM185.78 405.96h6.44v5.17h-6.44zM204.92 416.19h25.58v5.17h-25.58z"/>
<path fill="#eadf30" d="M268.72 354.85h6.44v5.17h-6.44zM192.16 400.85h6.44v5.17h-6.44zM262.34 405.96h6.44v5.17h-6.44zM217.68 411.08h6.44v5.17h-6.44z"/>
</g>
<rect x="179.4" y="334.4" width="102.08" height="86.9" fill="none" stroke="#1a1a1a" stroke-width="0.9"/>
<text class="g" x="284.8" y="338.47" font-size="4.2">Des</text>
<text class="g" x="284.8" y="343.58" font-size="4.2">Mrvi1</text>
<text class="g" x="284.8" y="348.69" font-size="4.2">Pdlim3</text>
<text class="g" x="284.8" y="353.8" font-size="4.2">Nrip2</text>
<text class="g" x="284.8" y="358.91" font-size="4.2">Kcnk3</text>
<text class="g" x="284.8" y="364.03" font-size="4.2">Gucy1b3</text>
<text class="g" x="284.8" y="369.14" font-size="4.2">Higd1b</text>
<text class="g" x="284.8" y="374.25" font-size="4.2">Olfr558</text>
<text class="g" x="284.8" y="379.36" font-size="4.2">Lmod1</text>
<text class="g" x="284.8" y="384.47" font-size="4.2">H2-M9</text>
<text class="g" x="284.8" y="389.59" font-size="4.2">Cygb</text>
<text class="g" x="284.8" y="394.7" font-size="4.2">Myl9</text>
<text class="g" x="284.8" y="399.81" font-size="4.2">Gucy1a3</text>
<text class="g" x="284.8" y="404.92" font-size="4.2">Rgs5</text>
<text class="g" x="284.8" y="410.03" font-size="4.2">Rasl11a</text>
<text class="g" x="284.8" y="415.14" font-size="4.2">Pln</text>
<text class="g" x="284.8" y="420.26" font-size="4.2">Gm13889</text>
<text transform="translate(13.1 41.3) rotate(-90)" font-size="6.6" text-anchor="middle" >known</text>
<text transform="translate(13.1 100.65) rotate(-90)" font-size="6.6" text-anchor="middle" >TFs</text>
<text transform="translate(13.1 199.2) rotate(-90)" font-size="6.6" text-anchor="middle" >surface</text>
<text transform="translate(13.1 298.25) rotate(-90)" font-size="6.6" text-anchor="middle" >secreted</text>
<text transform="translate(13.1 385) rotate(-90)" font-size="6.6" text-anchor="middle" >other</text>
<text transform="translate(174.3 39.05) rotate(-90)" font-size="6.6" text-anchor="middle" >known</text>
<text transform="translate(174.3 98.15) rotate(-90)" font-size="6.6" text-anchor="middle" >TFs</text>
<text transform="translate(174.3 195.6) rotate(-90)" font-size="6.6" text-anchor="middle" >surface</text>
<text transform="translate(174.3 287.9) rotate(-90)" font-size="6.6" text-anchor="middle" >secreted</text>
<text transform="translate(174.3 378.65) rotate(-90)" font-size="6.6" text-anchor="middle" >other</text>
<circle cx="21.42" cy="425.8" r="1.75" fill="#bf0b2c"/>
<circle cx="27.86" cy="425.8" r="1.75" fill="#bf0b2c"/>
<circle cx="34.3" cy="425.8" r="1.75" fill="#bf0b2c"/>
<circle cx="40.74" cy="425.8" r="1.75" fill="#bf0b2c"/>
<circle cx="47.18" cy="425.8" r="1.75" fill="#4b1c87"/>
<circle cx="53.62" cy="425.8" r="1.75" fill="#4b1c87"/>
<circle cx="60.06" cy="425.8" r="1.75" fill="#4b1c87"/>
<circle cx="66.5" cy="425.8" r="1.75" fill="#4b1c87"/>
<circle cx="72.94" cy="425.8" r="1.75" fill="#4a6fc0"/>
<circle cx="79.38" cy="425.8" r="1.75" fill="#4a6fc0"/>
<circle cx="85.82" cy="425.8" r="1.75" fill="#4a6fc0"/>
<circle cx="92.26" cy="425.8" r="1.75" fill="#4a6fc0"/>
<circle cx="98.7" cy="425.8" r="1.75" fill="#e08a1b"/>
<circle cx="105.14" cy="425.8" r="1.75" fill="#e08a1b"/>
<circle cx="111.58" cy="425.8" r="1.75" fill="#e08a1b"/>
<circle cx="118.02" cy="425.8" r="1.75" fill="#e08a1b"/>
<text x="31.08" y="436.5" font-size="6.2" text-anchor="middle" >A</text>
<text x="56.84" y="436.5" font-size="6.2" text-anchor="middle" >AB</text>
<text x="82.6" y="436.5" font-size="6.2" text-anchor="middle" >B</text>
<text x="108.36" y="436.5" font-size="6.2" text-anchor="middle" >DN</text>
<circle cx="182.59" cy="425.8" r="1.75" fill="#bf0b2c"/>
<circle cx="188.97" cy="425.8" r="1.75" fill="#bf0b2c"/>
<circle cx="195.35" cy="425.8" r="1.75" fill="#bf0b2c"/>
<circle cx="201.73" cy="425.8" r="1.75" fill="#bf0b2c"/>
<circle cx="208.11" cy="425.8" r="1.75" fill="#4b1c87"/>
<circle cx="214.49" cy="425.8" r="1.75" fill="#4b1c87"/>
<circle cx="220.87" cy="425.8" r="1.75" fill="#4b1c87"/>
<circle cx="227.25" cy="425.8" r="1.75" fill="#4b1c87"/>
<circle cx="233.63" cy="425.8" r="1.75" fill="#4a6fc0"/>
<circle cx="240.01" cy="425.8" r="1.75" fill="#4a6fc0"/>
<circle cx="246.39" cy="425.8" r="1.75" fill="#4a6fc0"/>
<circle cx="252.77" cy="425.8" r="1.75" fill="#4a6fc0"/>
<circle cx="259.15" cy="425.8" r="1.75" fill="#e08a1b"/>
<circle cx="265.53" cy="425.8" r="1.75" fill="#e08a1b"/>
<circle cx="271.91" cy="425.8" r="1.75" fill="#e08a1b"/>
<circle cx="278.29" cy="425.8" r="1.75" fill="#e08a1b"/>
<text x="192.16" y="436.5" font-size="6.2" text-anchor="middle" >A</text>
<text x="217.68" y="436.5" font-size="6.2" text-anchor="middle" >AB</text>
<text x="243.2" y="436.5" font-size="6.2" text-anchor="middle" >B</text>
<text x="268.72" y="436.5" font-size="6.2" text-anchor="middle" >DN</text>
<defs><linearGradient id="cb" x1="0" y1="0" x2="0" y2="1">
<stop offset="0" stop-color="#41175f"/>
<stop offset="0.12" stop-color="#46327a"/>
<stop offset="0.25" stop-color="#3e5388"/>
<stop offset="0.38" stop-color="#35708c"/>
<stop offset="0.5" stop-color="#2f8b8b"/>
<stop offset="0.62" stop-color="#4fa585"/>
<stop offset="0.75" stop-color="#88bb6a"/>
<stop offset="0.88" stop-color="#bfd046"/>
<stop offset="1" stop-color="#f2e12a"/>
</linearGradient></defs>
<rect x="309" y="26" width="11.2" height="53" fill="url(#cb)"/>
<line x1="309" x2="311" y1="27.6" y2="27.6" stroke="#fff" stroke-width="0.6"/>
<line x1="318.2" x2="320.2" y1="27.6" y2="27.6" stroke="#fff" stroke-width="0.6"/>
<text x="323" y="29.8" font-size="6.1" text-anchor="start" >2</text>
<line x1="309" x2="311" y1="39.95" y2="39.95" stroke="#fff" stroke-width="0.6"/>
<line x1="318.2" x2="320.2" y1="39.95" y2="39.95" stroke="#fff" stroke-width="0.6"/>
<text x="323" y="42.15" font-size="6.1" text-anchor="start" >1</text>
<line x1="309" x2="311" y1="52.3" y2="52.3" stroke="#fff" stroke-width="0.6"/>
<line x1="318.2" x2="320.2" y1="52.3" y2="52.3" stroke="#fff" stroke-width="0.6"/>
<text x="323" y="54.5" font-size="6.1" text-anchor="start" >0</text>
<line x1="309" x2="311" y1="64.65" y2="64.65" stroke="#fff" stroke-width="0.6"/>
<line x1="318.2" x2="320.2" y1="64.65" y2="64.65" stroke="#fff" stroke-width="0.6"/>
<text x="323" y="66.85" font-size="6.1" text-anchor="start" >−1</text>
<line x1="309" x2="311" y1="77" y2="77" stroke="#fff" stroke-width="0.6"/>
<line x1="318.2" x2="320.2" y1="77" y2="77" stroke="#fff" stroke-width="0.6"/>
<text x="323" y="79.2" font-size="6.1" text-anchor="start" >−2</text>
<line x1="378.5" x2="378.5" y1="32.2" y2="156.4" stroke="#1a1a1a" stroke-width="1.1"/>
<line x1="375.2" x2="378.5" y1="65.1" y2="65.1" stroke="#1a1a1a" stroke-width="0.8"/>
<text x="371.9" y="67.5" font-size="6.6" text-anchor="end" >0.5</text>
<line x1="375.2" x2="378.5" y1="101.5" y2="101.5" stroke="#1a1a1a" stroke-width="0.8"/>
<text x="371.9" y="103.9" font-size="6.6" text-anchor="end" >0.0</text>
<line x1="375.2" x2="378.5" y1="137.9" y2="137.9" stroke="#1a1a1a" stroke-width="0.8"/>
<text x="371.9" y="140.3" font-size="6.6" text-anchor="end" >−0.5</text>
<text x="425.7" y="27.2" font-size="8.4" text-anchor="middle" >LepR-MSC genes</text>
<text transform="translate(353.9 94.3) rotate(-90)" font-size="7.6" text-anchor="middle" textLength="32.8" lengthAdjust="spacingAndGlyphs">GSVA score</text>
<path fill="#bf0b2c" d="M381 101.5V110.24h1.07V132.08h1.07V108.78h1.07V134.99h1.07V101.5z"/>
<path fill="#4b1c87" d="M385.28 101.5V49.08h1.07V38.16h1.07V49.81h1.07V49.08h1.07V101.5z"/>
<path fill="#4a6fc0" d="M389.56 101.5V100.04h1.07V99.32h1.07V88.4h1.07V93.49h1.07V101.5z"/>
<path fill="#e08a1b" d="M393.84 101.5V136.44h1.07V150.28h1.07V145.91h1.07V145.18h1.07V101.5z"/>
<line x1="378.3" x2="400.9" y1="166.3" y2="166.3" stroke="#333" stroke-width="0.9"/>
<text x="389.6" y="163.6" font-size="5.4" text-anchor="middle" >Other</text>
<path fill="#bf0b2c" d="M405.9 101.5V108.78h1.07V136.44h1.07V107.32h1.07V105.14h1.07V101.5z"/>
<path fill="#4b1c87" d="M410.18 101.5V50.54h1.07V49.08h1.07V60.73h1.07V60.73h1.07V101.5z"/>
<path fill="#4a6fc0" d="M414.46 101.5V107.32h1.07V105.87h1.07V78.93h1.07V92.76h1.07V101.5z"/>
<path fill="#e08a1b" d="M418.74 101.5V135.72h1.07V139.36h1.07V140.81h1.07V143h1.07V101.5z"/>
<line x1="403.3" x2="425.9" y1="166.3" y2="166.3" stroke="#333" stroke-width="0.9"/>
<text x="414.6" y="163.6" font-size="5.4" text-anchor="middle" >Secreted</text>
<path fill="#bf0b2c" d="M430.8 101.5V110.24h1.07V138.63h1.07V131.35h1.07V131.35h1.07V101.5z"/>
<path fill="#4b1c87" d="M435.08 101.5V45.44h1.07V39.62h1.07V52.72h1.07V57.09h1.07V101.5z"/>
<path fill="#4a6fc0" d="M439.36 101.5V99.32h1.07V91.31h1.07V92.04h1.07V78.93h1.07V101.5z"/>
<path fill="#e08a1b" d="M443.64 101.5V148.82h1.07V150.28h1.07V149.55h1.07V151h1.07V101.5z"/>
<line x1="428.3" x2="450.9" y1="166.3" y2="166.3" stroke="#333" stroke-width="0.9"/>
<text x="439.6" y="163.6" font-size="5.4" text-anchor="middle" >Surface</text>
<path fill="#bf0b2c" d="M455.8 101.5V133.53h1.07V111.69h1.07V73.11h1.07V97.13h1.07V101.5z"/>
<path fill="#4b1c87" d="M460.08 101.5V87.67h1.07V93.49h1.07V57.09h1.07V94.22h1.07V101.5z"/>
<path fill="#4a6fc0" d="M464.36 101.5V121.16h1.07V94.22h1.07V108.05h1.07V101.5h1.07V101.5z"/>
<path fill="#e08a1b" d="M468.64 101.5V116.06h1.07V124.8h1.07V97.13h1.07V121.16h1.07V101.5z"/>
<line x1="453.3" x2="475.9" y1="166.3" y2="166.3" stroke="#333" stroke-width="0.9"/>
<text x="464.6" y="163.6" font-size="5.4" text-anchor="middle" >TFs</text>
<line x1="378.5" x2="378.5" y1="207.3" y2="331.7" stroke="#1a1a1a" stroke-width="1.1"/>
<line x1="375.2" x2="378.5" y1="213.4" y2="213.4" stroke="#1a1a1a" stroke-width="0.8"/>
<text x="371.9" y="215.8" font-size="6.6" text-anchor="end" >0.8</text>
<line x1="375.2" x2="378.5" y1="243.8" y2="243.8" stroke="#1a1a1a" stroke-width="0.8"/>
<text x="371.9" y="246.2" font-size="6.6" text-anchor="end" >0.4</text>
<line x1="375.2" x2="378.5" y1="274.2" y2="274.2" stroke="#1a1a1a" stroke-width="0.8"/>
<text x="371.9" y="276.6" font-size="6.6" text-anchor="end" >0.0</text>
<line x1="375.2" x2="378.5" y1="304.6" y2="304.6" stroke="#1a1a1a" stroke-width="0.8"/>
<text x="371.9" y="307" font-size="6.6" text-anchor="end" >−0.4</text>
<text x="425.7" y="201.5" font-size="8.4" text-anchor="middle" >Pericyte genes</text>
<text transform="translate(353.9 269.5) rotate(-90)" font-size="7.6" text-anchor="middle" textLength="32.8" lengthAdjust="spacingAndGlyphs">GSVA score</text>
<path fill="#bf0b2c" d="M380.9 274.2V288.64h1.07V316.76h1.07V309.92h1.07V302.32h1.07V274.2z"/>
<path fill="#4b1c87" d="M385.18 274.2V259.76h1.07V248.36h1.07V274.2h1.07V277.24h1.07V274.2z"/>
<path fill="#4a6fc0" d="M389.46 274.2V217.96h1.07V213.4h1.07V238.48h1.07V253.68h1.07V274.2z"/>
<path fill="#e08a1b" d="M393.74 274.2V313.72h1.07V308.4h1.07V325.12h1.07V297h1.07V274.2z"/>
<line x1="382.5" x2="405.1" y1="340.3" y2="340.3" stroke="#333" stroke-width="0.9"/>
<text x="393.8" y="337.6" font-size="5.4" text-anchor="middle" >Other</text>
<path fill="#bf0b2c" d="M405.9 274.2V277.24h1.07V301.56h1.07V275.72h1.07V275.72h1.07V274.2z"/>
<path fill="#4b1c87" d="M410.18 274.2V252.92h1.07V263.56h1.07V246.84h1.07V251.4h1.07V274.2z"/>
<path fill="#4a6fc0" d="M414.46 274.2V240.76h1.07V227.08h1.07V262.04h1.07V243.8h1.07V274.2z"/>
<path fill="#e08a1b" d="M418.74 274.2V303.08h1.07V294.72h1.07V309.92h1.07V309.92h1.07V274.2z"/>
<line x1="407.5" x2="430.1" y1="340.3" y2="340.3" stroke="#333" stroke-width="0.9"/>
<text x="418.8" y="337.6" font-size="5.4" text-anchor="middle" >Secreted</text>
<path fill="#bf0b2c" d="M430.9 274.2V279.52h1.07V307.64h1.07V312.96h1.07V281.8h1.07V274.2z"/>
<path fill="#4b1c87" d="M435.18 274.2V257.48h1.07V271.16h1.07V290.16h1.07V272.68h1.07V274.2z"/>
<path fill="#4a6fc0" d="M439.46 274.2V217.96h1.07V212.64h1.07V236.96h1.07V241.52h1.07V274.2z"/>
<path fill="#e08a1b" d="M443.74 274.2V308.4h1.07V311.44h1.07V313.72h1.07V316.76h1.07V274.2z"/>
<line x1="432.5" x2="455.1" y1="340.3" y2="340.3" stroke="#333" stroke-width="0.9"/>
<text x="443.8" y="337.6" font-size="5.4" text-anchor="middle" >Surface</text>
<path fill="#bf0b2c" d="M456 274.2V279.52h1.07V299.28h1.07V244.56h1.07V287.88h1.07V274.2z"/>
<path fill="#4b1c87" d="M460.28 274.2V236.96h1.07V231.64h1.07V259h1.07V266.6h1.07V274.2z"/>
<path fill="#4a6fc0" d="M464.56 274.2V241.52h1.07V252.16h1.07V266.6h1.07V252.16h1.07V274.2z"/>
<path fill="#e08a1b" d="M468.84 274.2V310.68h1.07V319.04h1.07V315.24h1.07V310.68h1.07V274.2z"/>
<line x1="457.5" x2="480.1" y1="340.3" y2="340.3" stroke="#333" stroke-width="0.9"/>
<text x="468.8" y="337.6" font-size="5.4" text-anchor="middle" >TFs</text>
<line x1="29.2" x2="29.2" y1="470" y2="539" stroke="#111" stroke-width="1.1"/>
<line x1="28.7" x2="73.8" y1="538.5" y2="538.5" stroke="#111" stroke-width="1.1"/>
<line x1="25.9" x2="29.2" y1="538.5" y2="538.5" stroke="#111" stroke-width="0.8"/>
<text x="23.6" y="540.7" font-size="6.4" text-anchor="end" >0</text>
<line x1="25.9" x2="29.2" y1="516.4" y2="516.4" stroke="#111" stroke-width="0.8"/>
<text x="23.6" y="518.6" font-size="6.4" text-anchor="end" >2</text>
<line x1="25.9" x2="29.2" y1="494.3" y2="494.3" stroke="#111" stroke-width="0.8"/>
<text x="23.6" y="496.5" font-size="6.4" text-anchor="end" >4</text>
<line x1="25.9" x2="29.2" y1="472.2" y2="472.2" stroke="#111" stroke-width="0.8"/>
<text x="23.6" y="474.4" font-size="6.4" text-anchor="end" >6</text>
<rect x="33.1" y="505.9" width="6.1" height="32.6" fill="#bf0b2c"/>
<rect x="43.55" y="498.72" width="6.1" height="39.78" fill="#4b1c87"/>
<rect x="53.85" y="494.63" width="6.1" height="43.87" fill="#4a6fc0"/>
<rect x="63.85" y="497.06" width="6.1" height="41.44" fill="#e08a1b"/>
<path d="M36.15 495.85V516.95M34.35 495.85h3.6M34.35 516.95h3.6" stroke="#111" stroke-width="0.9" fill="none"/>
<path d="M34.67 488.77h0.01M35.8 502.03h0.01M37.6 503.14h0.01M34.42 507.56h0.01M36.19 515.29h0.01M37.32 516.4h0.01" stroke="#111" stroke-width="1.4" stroke-linecap="round"/>
<path d="M46.6 486.56V511.54M44.8 486.56h3.6M44.8 511.54h3.6" stroke="#111" stroke-width="0.9" fill="none"/>
<path d="M44.86 481.04h0.01M46.61 487.67h0.01M47.44 499.82h0.01M45.23 510.88h0.01" stroke="#111" stroke-width="1.4" stroke-linecap="round"/>
<path d="M56.9 488V500.82M55.1 488h3.6M55.1 500.82h3.6" stroke="#111" stroke-width="0.9" fill="none"/>
<path d="M55.17 489.88h0.01M56.49 492.09h0.01M58.12 495.4h0.01M55.93 503.14h0.01" stroke="#111" stroke-width="1.4" stroke-linecap="round"/>
<path d="M66.9 486.01V507.67M65.1 486.01h3.6M65.1 507.67h3.6" stroke="#111" stroke-width="0.9" fill="none"/>
<path d="M65.22 482.14h0.01M66.62 495.4h0.01M68.33 506.45h0.01" stroke="#111" stroke-width="1.4" stroke-linecap="round"/>
<text x="36.15" y="546.7" font-size="6.5" text-anchor="middle" >A</text>
<text x="46.6" y="546.7" font-size="6.5" text-anchor="middle" >AB</text>
<text x="56.9" y="546.7" font-size="6.5" text-anchor="middle" >B</text>
<text x="66.9" y="546.7" font-size="6.5" text-anchor="middle" >DN</text>
<text transform="translate(14.2 504.3) rotate(-90)" font-size="7" text-anchor="middle" font-style="italic">Pparg:Hprt1</text>
<line x1="118.5" x2="118.5" y1="469.2" y2="539" stroke="#111" stroke-width="1.1"/>
<line x1="118" x2="161.9" y1="538.5" y2="538.5" stroke="#111" stroke-width="1.1"/>
<line x1="115.2" x2="118.5" y1="538.5" y2="538.5" stroke="#111" stroke-width="0.8"/>
<text x="112.9" y="540.7" font-size="6.4" text-anchor="end" >0</text>
<line x1="115.2" x2="118.5" y1="525.2" y2="525.2" stroke="#111" stroke-width="0.8"/>
<text x="112.9" y="527.4" font-size="6.4" text-anchor="end" >20</text>
<line x1="115.2" x2="118.5" y1="511.9" y2="511.9" stroke="#111" stroke-width="0.8"/>
<text x="112.9" y="514.1" font-size="6.4" text-anchor="end" >40</text>
<line x1="115.2" x2="118.5" y1="498.6" y2="498.6" stroke="#111" stroke-width="0.8"/>
<text x="112.9" y="500.8" font-size="6.4" text-anchor="end" >60</text>
<line x1="115.2" x2="118.5" y1="485.3" y2="485.3" stroke="#111" stroke-width="0.8"/>
<text x="112.9" y="487.5" font-size="6.4" text-anchor="end" >80</text>
<line x1="115.2" x2="118.5" y1="472" y2="472" stroke="#111" stroke-width="0.8"/>
<text x="112.9" y="474.2" font-size="6.4" text-anchor="end" >100</text>
<rect x="121.9" y="523.87" width="5.8" height="14.63" fill="#bf0b2c"/>
<rect x="131.9" y="531.52" width="5.8" height="6.98" fill="#4b1c87"/>
<rect x="142.2" y="535.17" width="5.8" height="3.33" fill="#4a6fc0"/>
<rect x="152.7" y="537.17" width="5.8" height="1.33" fill="#e08a1b"/>
<path d="M124.8 502.59V538.5M123 502.59h3.6M123 538.5h3.6" stroke="#111" stroke-width="0.9" fill="none"/>
<path d="M123.95 483.31h0.01M124.88 515.23h0.01M126 525.2h0.01M123.98 531.85h0.01M124.35 534.51h0.01" stroke="#111" stroke-width="1.4" stroke-linecap="round"/>
<path d="M134.8 523.54V538.5M133 523.54h3.6M133 538.5h3.6" stroke="#111" stroke-width="0.9" fill="none"/>
<path d="M133.86 516.55h0.01M134.59 528.52h0.01M135.74 535.17h0.01M133.12 536.5h0.01" stroke="#111" stroke-width="1.4" stroke-linecap="round"/>
<path d="M145.1 531.85V538.5M143.3 531.85h3.6M143.3 538.5h3.6" stroke="#111" stroke-width="0.9" fill="none"/>
<path d="M143.61 531.18h0.01M145.42 533.18h0.01M146.08 535.84h0.01" stroke="#111" stroke-width="1.4" stroke-linecap="round"/>
<path d="M155.6 536.17V538.5M153.8 536.17h3.6M153.8 538.5h3.6" stroke="#111" stroke-width="0.9" fill="none"/>
<path d="M154.38 536.5h0.01M155.74 537.17h0.01M156.77 537.84h0.01" stroke="#111" stroke-width="1.4" stroke-linecap="round"/>
<text x="124.8" y="546.7" font-size="6.5" text-anchor="middle" >A</text>
<text x="134.8" y="546.7" font-size="6.5" text-anchor="middle" >AB</text>
<text x="145.1" y="546.7" font-size="6.5" text-anchor="middle" >B</text>
<text x="155.6" y="546.7" font-size="6.5" text-anchor="middle" >DN</text>
<text transform="translate(95.3 504.3) rotate(-90)" font-size="7" text-anchor="middle" font-style="italic">Cebpa:Hprt1</text>
<line x1="206.5" x2="206.5" y1="469.6" y2="539" stroke="#111" stroke-width="1.1"/>
<line x1="206" x2="250" y1="538.5" y2="538.5" stroke="#111" stroke-width="1.1"/>
<line x1="203.2" x2="206.5" y1="538.5" y2="538.5" stroke="#111" stroke-width="0.8"/>
<text x="200.9" y="540.7" font-size="6.4" text-anchor="end" >0</text>
<line x1="203.2" x2="206.5" y1="521.9" y2="521.9" stroke="#111" stroke-width="0.8"/>
<text x="200.9" y="524.1" font-size="6.4" text-anchor="end" >100</text>
<line x1="203.2" x2="206.5" y1="505.3" y2="505.3" stroke="#111" stroke-width="0.8"/>
<text x="200.9" y="507.5" font-size="6.4" text-anchor="end" >200</text>
<line x1="203.2" x2="206.5" y1="488.7" y2="488.7" stroke="#111" stroke-width="0.8"/>
<text x="200.9" y="490.9" font-size="6.4" text-anchor="end" >300</text>
<line x1="203.2" x2="206.5" y1="472.1" y2="472.1" stroke="#111" stroke-width="0.8"/>
<text x="200.9" y="474.3" font-size="6.4" text-anchor="end" >400</text>
<rect x="210.1" y="520.57" width="6" height="17.93" fill="#bf0b2c"/>
<rect x="220.3" y="533.85" width="6" height="4.65" fill="#4b1c87"/>
<rect x="230.6" y="535.68" width="6" height="2.82" fill="#4a6fc0"/>
<rect x="241" y="538.25" width="6" height="0.25" fill="#e08a1b"/>
<path d="M213.1 495.34V538.5M211.3 495.34h3.6M211.3 538.5h3.6" stroke="#111" stroke-width="0.9" fill="none"/>
<path d="M211.85 478.74h0.01M212.66 505.3h0.01M213.96 521.9h0.01M211.51 530.2h0.01" stroke="#111" stroke-width="1.4" stroke-linecap="round"/>
<path d="M223.3 532.69V538.5M221.5 532.69h3.6M221.5 538.5h3.6" stroke="#111" stroke-width="0.9" fill="none"/>
<path d="M222.18 531.86h0.01M223.23 533.52h0.01M224.41 535.18h0.01" stroke="#111" stroke-width="1.4" stroke-linecap="round"/>
<path d="M233.6 534.35V538.5M231.8 534.35h3.6M231.8 538.5h3.6" stroke="#111" stroke-width="0.9" fill="none"/>
<path d="M232.39 534.35h0.01M233.55 536.01h0.01M234.7 537.17h0.01" stroke="#111" stroke-width="1.4" stroke-linecap="round"/>
<path d="M244 538.17V538.5M242.2 538.17h3.6M242.2 538.5h3.6" stroke="#111" stroke-width="0.9" fill="none"/>
<path d="M242.99 538.17h0.01M244.2 538.33h0.01" stroke="#111" stroke-width="1.4" stroke-linecap="round"/>
<text x="213.1" y="546.7" font-size="6.5" text-anchor="middle" >A</text>
<text x="223.3" y="546.7" font-size="6.5" text-anchor="middle" >AB</text>
<text x="233.6" y="546.7" font-size="6.5" text-anchor="middle" >B</text>
<text x="244" y="546.7" font-size="6.5" text-anchor="middle" >DN</text>
<text transform="translate(183.4 504.3) rotate(-90)" font-size="7" text-anchor="middle" font-style="italic">Adipoq:Hprt1</text>
<line x1="295.6" x2="295.6" y1="469.6" y2="539" stroke="#111" stroke-width="1.1"/>
<line x1="295.1" x2="339" y1="538.5" y2="538.5" stroke="#111" stroke-width="1.1"/>
<line x1="292.3" x2="295.6" y1="538.5" y2="538.5" stroke="#111" stroke-width="0.8"/>
<text x="290" y="540.7" font-size="6.4" text-anchor="end" >0.00</text>
<line x1="292.3" x2="295.6" y1="521.85" y2="521.85" stroke="#111" stroke-width="0.8"/>
<text x="290" y="524.05" font-size="6.4" text-anchor="end" >0.05</text>
<line x1="292.3" x2="295.6" y1="505.2" y2="505.2" stroke="#111" stroke-width="0.8"/>
<text x="290" y="507.4" font-size="6.4" text-anchor="end" >0.10</text>
<line x1="292.3" x2="295.6" y1="488.55" y2="488.55" stroke="#111" stroke-width="0.8"/>
<text x="290" y="490.75" font-size="6.4" text-anchor="end" >0.15</text>
<line x1="292.3" x2="295.6" y1="471.9" y2="471.9" stroke="#111" stroke-width="0.8"/>
<text x="290" y="474.1" font-size="6.4" text-anchor="end" >0.20</text>
<rect x="298.5" y="536.5" width="6" height="2" fill="#bf0b2c"/>
<rect x="308.9" y="508.53" width="6" height="29.97" fill="#4b1c87"/>
<rect x="319" y="513.52" width="6" height="24.97" fill="#4a6fc0"/>
<rect x="329.3" y="534.84" width="6" height="3.66" fill="#e08a1b"/>
<path d="M301.5 535.84V537.17M299.7 535.84h3.6M299.7 537.17h3.6" stroke="#111" stroke-width="0.9" fill="none"/>
<path d="M299.94 536.17h0.01M301.57 536.84h0.01" stroke="#111" stroke-width="1.4" stroke-linecap="round"/>
<path d="M311.9 496.21V520.18M310.1 496.21h3.6M310.1 520.18h3.6" stroke="#111" stroke-width="0.9" fill="none"/>
<path d="M310.63 488.55h0.01M312.28 498.54h0.01M313.43 505.2h0.01M310.39 511.86h0.01M312.38 516.86h0.01" stroke="#111" stroke-width="1.4" stroke-linecap="round"/>
<path d="M322 489.22V537.83M320.2 489.22h3.6M320.2 537.83h3.6" stroke="#111" stroke-width="0.9" fill="none"/>
<path d="M320.32 481.89h0.01M321.92 505.2h0.01M323.56 515.19h0.01M320.35 521.85h0.01M321.99 528.51h0.01" stroke="#111" stroke-width="1.4" stroke-linecap="round"/>
<path d="M332.3 531.84V537.17M330.5 531.84h3.6M330.5 537.17h3.6" stroke="#111" stroke-width="0.9" fill="none"/>
<path d="M330.54 531.17h0.01M332.47 533.5h0.01M333.86 535.17h0.01" stroke="#111" stroke-width="1.4" stroke-linecap="round"/>
<text x="301.5" y="546.7" font-size="6.5" text-anchor="middle" >A</text>
<text x="311.9" y="546.7" font-size="6.5" text-anchor="middle" >AB</text>
<text x="322" y="546.7" font-size="6.5" text-anchor="middle" >B</text>
<text x="332.3" y="546.7" font-size="6.5" text-anchor="middle" >DN</text>
<text transform="translate(272.8 505.3) rotate(-90)" font-size="7" text-anchor="middle" font-style="italic">Acta2:Hprt1</text>
<line x1="301.3" x2="312" y1="486.2" y2="486.2" stroke="#111" stroke-width="0.8"/>
<text x="306.9" y="485.5" font-size="5" text-anchor="middle" letter-spacing="0.5">*</text>
<line x1="312" x2="332" y1="475.4" y2="475.4" stroke="#111" stroke-width="0.8"/>
<text x="322.25" y="474.7" font-size="5" text-anchor="middle" letter-spacing="0.5">*</text>
<line x1="380" x2="380" y1="469.8" y2="538.6" stroke="#111" stroke-width="1.1"/>
<line x1="379.5" x2="423.9" y1="538.1" y2="538.1" stroke="#111" stroke-width="1.1"/>
<line x1="376.7" x2="380" y1="538.1" y2="538.1" stroke="#111" stroke-width="0.8"/>
<text x="374.4" y="540.3" font-size="6.4" text-anchor="end" >0</text>
<line x1="376.7" x2="380" y1="521.65" y2="521.65" stroke="#111" stroke-width="0.8"/>
<text x="374.4" y="523.85" font-size="6.4" text-anchor="end" >20</text>
<line x1="376.7" x2="380" y1="505.2" y2="505.2" stroke="#111" stroke-width="0.8"/>
<text x="374.4" y="507.4" font-size="6.4" text-anchor="end" >40</text>
<line x1="376.7" x2="380" y1="488.75" y2="488.75" stroke="#111" stroke-width="0.8"/>
<text x="374.4" y="490.95" font-size="6.4" text-anchor="end" >60</text>
<line x1="376.7" x2="380" y1="472.3" y2="472.3" stroke="#111" stroke-width="0.8"/>
<text x="374.4" y="474.5" font-size="6.4" text-anchor="end" >80</text>
<rect x="382.35" y="525.19" width="6.3" height="12.91" fill="#bf0b2c"/>
<rect x="393.35" y="506.35" width="6.3" height="31.75" fill="#4b1c87"/>
<rect x="404.05" y="528.07" width="6.3" height="10.03" fill="#4a6fc0"/>
<rect x="415.05" y="534.23" width="6.3" height="3.87" fill="#e08a1b"/>
<path d="M385.5 517.54V533.17M383.7 517.54h3.6M383.7 533.17h3.6" stroke="#111" stroke-width="0.9" fill="none"/>
<path d="M384.27 513.43h0.01M385.88 518.36h0.01M386.61 521.65h0.01M384.4 525.76h0.01M385.59 528.23h0.01M386.88 531.52h0.01M384.16 533.99h0.01M385.84 535.63h0.01" stroke="#111" stroke-width="1.4" stroke-linecap="round"/>
<path d="M396.5 497.8V515.07M394.7 497.8h3.6M394.7 515.07h3.6" stroke="#111" stroke-width="0.9" fill="none"/>
<path d="M395.64 495.33h0.01M396.47 496.98h0.01M397.96 499.44h0.01M394.76 501.91h0.01M396.7 505.2h0.01M397.95 508.49h0.01M395.69 513.43h0.01M396.82 517.54h0.01" stroke="#111" stroke-width="1.4" stroke-linecap="round"/>
<path d="M407.2 519.18V536.46M405.4 519.18h3.6M405.4 536.46h3.6" stroke="#111" stroke-width="0.9" fill="none"/>
<path d="M405.68 515.89h0.01M407.09 520h0.01M408.67 521.65h0.01M405.42 527.41h0.01M407.16 529.88h0.01M408.17 532.34h0.01M405.52 534.81h0.01" stroke="#111" stroke-width="1.4" stroke-linecap="round"/>
<path d="M418.2 531.52V537.28M416.4 531.52h3.6M416.4 537.28h3.6" stroke="#111" stroke-width="0.9" fill="none"/>
<path d="M416.46 527.41h0.01M418.47 530.7h0.01M419.13 532.34h0.01M416.65 533.99h0.01M418.09 534.81h0.01M419.87 535.63h0.01M416.48 536.46h0.01" stroke="#111" stroke-width="1.4" stroke-linecap="round"/>
<text x="385.5" y="550.4" font-size="6.5" text-anchor="middle" >A</text>
<text x="396.5" y="550.4" font-size="6.5" text-anchor="middle" >AB</text>
<text x="407.2" y="550.4" font-size="6.5" text-anchor="middle" >B</text>
<text x="418.2" y="550.4" font-size="6.5" text-anchor="middle" >DN</text>
<text transform="translate(361.2 505.4) rotate(-90)" font-size="6.8" text-anchor="middle" >LEPR+ (%)</text>
<line x1="385" x2="395.8" y1="488.7" y2="488.7" stroke="#111" stroke-width="0.8"/>
<text x="390.65" y="488" font-size="5" text-anchor="middle" letter-spacing="0.5">***</text>
<line x1="397.3" x2="407.7" y1="488.7" y2="488.7" stroke="#111" stroke-width="0.8"/>
<text x="402.75" y="488" font-size="5" text-anchor="middle" letter-spacing="0.5">****</text>
<line x1="397.3" x2="418" y1="482.7" y2="482.7" stroke="#111" stroke-width="0.8"/>
<text x="407.9" y="482" font-size="5" text-anchor="middle" letter-spacing="0.5">****</text>
<line x1="385" x2="418" y1="477.5" y2="477.5" stroke="#111" stroke-width="0.8"/>
<text x="401.75" y="476.8" font-size="5" text-anchor="middle" letter-spacing="0.5">**</text>
<line x1="469" x2="469" y1="469.8" y2="538.6" stroke="#111" stroke-width="1.1"/>
<line x1="468.5" x2="513.5" y1="538.1" y2="538.1" stroke="#111" stroke-width="1.1"/>
<line x1="465.7" x2="469" y1="538.1" y2="538.1" stroke="#111" stroke-width="0.8"/>
<text x="463.4" y="540.3" font-size="6.4" text-anchor="end" >0</text>
<line x1="465.7" x2="469" y1="524.98" y2="524.98" stroke="#111" stroke-width="0.8"/>
<text x="463.4" y="527.18" font-size="6.4" text-anchor="end" >20</text>
<line x1="465.7" x2="469" y1="511.86" y2="511.86" stroke="#111" stroke-width="0.8"/>
<text x="463.4" y="514.06" font-size="6.4" text-anchor="end" >40</text>
<line x1="465.7" x2="469" y1="498.74" y2="498.74" stroke="#111" stroke-width="0.8"/>
<text x="463.4" y="500.94" font-size="6.4" text-anchor="end" >60</text>
<line x1="465.7" x2="469" y1="485.62" y2="485.62" stroke="#111" stroke-width="0.8"/>
<text x="463.4" y="487.82" font-size="6.4" text-anchor="end" >80</text>
<line x1="465.7" x2="469" y1="472.5" y2="472.5" stroke="#111" stroke-width="0.8"/>
<text x="463.4" y="474.7" font-size="6.4" text-anchor="end" >100</text>
<rect x="471.1" y="528.52" width="6.4" height="9.58" fill="#bf0b2c"/>
<rect x="481.9" y="506.28" width="6.4" height="31.82" fill="#4b1c87"/>
<rect x="492.5" y="523.67" width="6.4" height="14.43" fill="#4a6fc0"/>
<rect x="503.6" y="531.21" width="6.4" height="6.89" fill="#e08a1b"/>
<path d="M474.3 521.04V535.48M472.5 521.04h3.6M472.5 535.48h3.6" stroke="#111" stroke-width="0.9" fill="none"/>
<path d="M472.95 519.73h0.01M474.35 523.67h0.01M475.98 526.29h0.01M473.32 528.92h0.01M474.66 531.54h0.01M475.38 534.16h0.01" stroke="#111" stroke-width="1.4" stroke-linecap="round"/>
<path d="M485.1 497.43V515.14M483.3 497.43h3.6M483.3 515.14h3.6" stroke="#111" stroke-width="0.9" fill="none"/>
<path d="M483.72 492.18h0.01M484.96 493.49h0.01M486.78 495.46h0.01M484.26 502.02h0.01M484.75 508.58h0.01M486.08 518.42h0.01M483.53 521.7h0.01" stroke="#111" stroke-width="1.4" stroke-linecap="round"/>
<path d="M495.7 516.45V530.23M493.9 516.45h3.6M493.9 530.23h3.6" stroke="#111" stroke-width="0.9" fill="none"/>
<path d="M494.13 516.45h0.01M495.68 518.42h0.01M497.09 521.7h0.01M494.16 524.98h0.01M495.2 528.92h0.01M496.92 531.54h0.01" stroke="#111" stroke-width="1.4" stroke-linecap="round"/>
<path d="M506.8 524.98V536.79M505 524.98h3.6M505 536.79h3.6" stroke="#111" stroke-width="0.9" fill="none"/>
<path d="M505.37 524.32h0.01M506.87 526.29h0.01M508.55 530.23h0.01M505.69 532.85h0.01M506.82 534.82h0.01M508.22 536.79h0.01" stroke="#111" stroke-width="1.4" stroke-linecap="round"/>
<text x="474.3" y="550.4" font-size="6.5" text-anchor="middle" >A</text>
<text x="485.1" y="550.4" font-size="6.5" text-anchor="middle" >AB</text>
<text x="495.7" y="550.4" font-size="6.5" text-anchor="middle" >B</text>
<text x="506.8" y="550.4" font-size="6.5" text-anchor="middle" >DN</text>
<text transform="translate(446.3 504.4) rotate(-90)" font-size="6.8" text-anchor="middle" >VCAM-1+ (%)</text>
<line x1="473.5" x2="483" y1="486.7" y2="486.7" stroke="#111" stroke-width="0.8"/>
<text x="478.5" y="486" font-size="5" text-anchor="middle" letter-spacing="0.5">***</text>
<line x1="486.3" x2="497" y1="486.7" y2="486.7" stroke="#111" stroke-width="0.8"/>
<text x="491.9" y="486" font-size="5" text-anchor="middle" letter-spacing="0.5">**</text>
<line x1="486.3" x2="507" y1="481.3" y2="481.3" stroke="#111" stroke-width="0.8"/>
<text x="496.9" y="480.6" font-size="5" text-anchor="middle" letter-spacing="0.5">***</text>
<line x1="496.5" x2="507" y1="513" y2="513" stroke="#111" stroke-width="0.8"/>
<text x="502" y="512.3" font-size="5" text-anchor="middle" letter-spacing="0.5">*</text>
<line x1="9.3" x2="339" y1="554.5" y2="554.5" stroke="#222" stroke-width="0.9"/>
<line x1="357.5" x2="513.3" y1="554.5" y2="554.5" stroke="#222" stroke-width="0.9"/>
<text x="174" y="563.7" font-size="6" text-anchor="middle" textLength="14.4" lengthAdjust="spacingAndGlyphs">qPCR</text>
<text x="433.5" y="563.7" font-size="6" text-anchor="middle" textLength="13.6" lengthAdjust="spacingAndGlyphs">FACS</text>
<clipPath id="fc1"><rect x="19.7" y="597.4" width="40.5" height="40.5"/></clipPath>
<g clip-path="url(#fc1)" fill-opacity="0.8">
<path d="M24 636.3C23.4 628 24.6 619.8 29 619.3C33.4 619.8 34.6 628 34.3 636.3Z" fill="#bf0b2c" fill-opacity="0.86"/>
<path fill="#bf0b2c" d="M24.75 629.27h.8v.8h-.8zM33.18 623.92h.8v.8h-.8zM24.35 626.61h.8v.8h-.8zM31.22 633.59h.8v.8h-.8zM24.78 619.24h.8v.8h-.8zM32.08 629.84h.8v.8h-.8zM35.23 632.89h.8v.8h-.8zM29.01 625.35h.8v.8h-.8zM39.17 625.27h.8v.8h-.8zM26.42 620.17h.8v.8h-.8zM29.76 627.87h.8v.8h-.8zM28.09 626.63h.8v.8h-.8zM30.44 631.15h.8v.8h-.8zM33.57 628.26h.8v.8h-.8zM22.6 631.21h.8v.8h-.8zM24.01 625.97h.8v.8h-.8zM23.8 627.01h.8v.8h-.8zM26.44 628.28h.8v.8h-.8zM41.94 626.71h.8v.8h-.8zM32.6 619.06h.8v.8h-.8zM28.31 630.97h.8v.8h-.8zM29.05 629.22h.8v.8h-.8zM29.79 620.96h.8v.8h-.8zM31.54 622.13h.8v.8h-.8zM36.51 623.97h.8v.8h-.8zM32.01 627.01h.8v.8h-.8zM33.02 623.39h.8v.8h-.8zM33.2 626.26h.8v.8h-.8zM34.2 630.75h.8v.8h-.8zM29.94 622.32h.8v.8h-.8zM32.32 629.81h.8v.8h-.8zM35.64 624.74h.8v.8h-.8zM31.51 630.05h.8v.8h-.8zM30.48 628.25h.8v.8h-.8zM30.09 623.41h.8v.8h-.8zM25.55 624.62h.8v.8h-.8zM31.65 636.07h.8v.8h-.8zM33.11 633.32h.8v.8h-.8zM32.35 631.19h.8v.8h-.8zM30.1 631.63h.8v.8h-.8zM36.14 625.03h.8v.8h-.8zM30.33 632.83h.8v.8h-.8zM32.72 620.19h.8v.8h-.8zM30.07 631.51h.8v.8h-.8zM29.88 621.7h.8v.8h-.8zM28.97 629.24h.8v.8h-.8zM33.64 631.26h.8v.8h-.8zM29.63 635.13h.8v.8h-.8zM26.51 631.76h.8v.8h-.8zM33.63 625.25h.8v.8h-.8zM22.6 621.56h.8v.8h-.8zM30.3 630.17h.8v.8h-.8zM35.28 620.97h.8v.8h-.8zM29.41 630.89h.8v.8h-.8zM28.8 612.78h.8v.8h-.8zM33.22 621.5h.8v.8h-.8zM27.83 628.33h.8v.8h-.8zM38.86 630.7h.8v.8h-.8zM29.83 636.34h.8v.8h-.8zM26.8 624.15h.8v.8h-.8zM32.14 635.55h.8v.8h-.8zM31.88 628.81h.8v.8h-.8zM22.48 622.72h.8v.8h-.8zM27.08 623.8h.8v.8h-.8zM31.63 624.99h.8v.8h-.8zM32.39 627.49h.8v.8h-.8zM28.14 627.71h.8v.8h-.8zM31.03 632.15h.8v.8h-.8zM27.59 625.6h.8v.8h-.8zM24.22 636.62h.8v.8h-.8zM34.92 625.93h.8v.8h-.8zM27.58 619.58h.8v.8h-.8zM30.05 628.24h.8v.8h-.8zM37.69 628.48h.8v.8h-.8zM26.44 612.33h.8v.8h-.8zM34.76 628.14h.8v.8h-.8zM23.28 628.08h.8v.8h-.8zM33.65 630.43h.8v.8h-.8zM28.73 614.16h.8v.8h-.8zM28.92 617.67h.8v.8h-.8zM31.67 614.17h.8v.8h-.8zM25.95 634.32h.8v.8h-.8zM35.65 619.91h.8v.8h-.8zM23.57 632.28h.8v.8h-.8zM32.64 621.08h.8v.8h-.8zM26.76 622.84h.8v.8h-.8zM24.88 622.92h.8v.8h-.8zM34.15 631.14h.8v.8h-.8zM37.22 626.48h.8v.8h-.8zM28.89 621.11h.8v.8h-.8zM28.93 619.12h.8v.8h-.8zM22.65 631.18h.8v.8h-.8zM34.87 632.02h.8v.8h-.8zM34.46 628.51h.8v.8h-.8zM26.67 627.52h.8v.8h-.8zM27.98 620.33h.8v.8h-.8zM22.97 618.1h.8v.8h-.8zM29.38 627.9h.8v.8h-.8zM27.6 635.57h.8v.8h-.8zM30.08 630.5h.8v.8h-.8zM34.03 622.08h.8v.8h-.8zM21.91 631.51h.8v.8h-.8zM26.78 634.87h.8v.8h-.8zM30.68 633.04h.8v.8h-.8zM32.3 614.52h.8v.8h-.8zM32.13 622.96h.8v.8h-.8zM26.53 624.39h.8v.8h-.8zM32.32 632.31h.8v.8h-.8zM33.24 617.04h.8v.8h-.8zM27.16 612.75h.8v.8h-.8zM29.01 630.6h.8v.8h-.8zM26.5 628.47h.8v.8h-.8zM30.28 633.05h.8v.8h-.8zM26.28 622.03h.8v.8h-.8zM33.54 626.26h.8v.8h-.8zM30.26 627.69h.8v.8h-.8zM30.17 625.75h.8v.8h-.8zM28.13 619.46h.8v.8h-.8zM26.96 636.9h.8v.8h-.8zM31.44 627.39h.8v.8h-.8zM28.58 627.38h.8v.8h-.8zM30.74 623.12h.8v.8h-.8zM30.15 628.44h.8v.8h-.8zM26.56 622.27h.8v.8h-.8zM25.6 620.62h.8v.8h-.8zM32.78 612.84h.8v.8h-.8zM28.39 623.33h.8v.8h-.8zM27.04 627.59h.8v.8h-.8zM33.69 627.46h.8v.8h-.8zM28.87 623.33h.8v.8h-.8zM28.91 632.47h.8v.8h-.8zM27.9 620.12h.8v.8h-.8zM24.6 620.36h.8v.8h-.8zM24.12 633.59h.8v.8h-.8zM30.75 625.58h.8v.8h-.8zM34.95 623.05h.8v.8h-.8zM32.26 631.81h.8v.8h-.8zM23.52 617.66h.8v.8h-.8zM25.88 632.44h.8v.8h-.8zM34.33 619.63h.8v.8h-.8zM33.38 624.7h.8v.8h-.8zM27.9 623.69h.8v.8h-.8zM28.17 616.09h.8v.8h-.8zM25.6 619.59h.8v.8h-.8zM50.97 637.22h.8v.8h-.8zM57.7 631.16h.8v.8h-.8zM44.34 630.98h.8v.8h-.8zM46.68 636.96h.8v.8h-.8zM51.21 630.18h.8v.8h-.8zM52.31 633.34h.8v.8h-.8zM44.62 630.67h.8v.8h-.8zM48.78 632.05h.8v.8h-.8zM49.9 631.15h.8v.8h-.8zM50.07 630.53h.8v.8h-.8zM46.81 635.79h.8v.8h-.8zM50.58 633.1h.8v.8h-.8zM44.72 631.58h.8v.8h-.8zM51.96 628.77h.8v.8h-.8zM52.79 631.03h.8v.8h-.8zM50.71 631.67h.8v.8h-.8zM50.16 635.01h.8v.8h-.8zM48.29 635.91h.8v.8h-.8zM47.15 629.67h.8v.8h-.8zM51.63 629.34h.8v.8h-.8zM48.39 634.27h.8v.8h-.8zM53.13 627.56h.8v.8h-.8zM51.02 636.71h.8v.8h-.8zM53.08 631.4h.8v.8h-.8zM47.7 631.26h.8v.8h-.8zM46.04 631.34h.8v.8h-.8zM48.94 631.64h.8v.8h-.8zM53.05 631.42h.8v.8h-.8zM45.13 634.63h.8v.8h-.8zM46.28 630.88h.8v.8h-.8zM49.1 631.14h.8v.8h-.8zM46.49 631.38h.8v.8h-.8zM56.05 630.48h.8v.8h-.8zM49.09 634.81h.8v.8h-.8zM51.73 633.91h.8v.8h-.8zM52.09 627.08h.8v.8h-.8zM46.91 632.32h.8v.8h-.8zM51 635.24h.8v.8h-.8zM50.91 631.4h.8v.8h-.8zM49.62 631.47h.8v.8h-.8zM50.24 633.69h.8v.8h-.8zM48.48 629.97h.8v.8h-.8zM46.94 634.74h.8v.8h-.8zM53.34 634.48h.8v.8h-.8zM52.07 634.08h.8v.8h-.8zM49.49 633.66h.8v.8h-.8zM46.34 631.49h.8v.8h-.8zM47.3 633.82h.8v.8h-.8zM47.76 631.73h.8v.8h-.8zM50.7 635.39h.8v.8h-.8zM47.12 629.65h.8v.8h-.8zM51.95 629.23h.8v.8h-.8zM50.86 630.57h.8v.8h-.8zM49.18 627.45h.8v.8h-.8zM51.64 630.75h.8v.8h-.8zM46.8 637.19h.8v.8h-.8zM50.72 631.13h.8v.8h-.8zM49.82 636.02h.8v.8h-.8zM49.42 633.13h.8v.8h-.8zM51.05 629.72h.8v.8h-.8zM49.89 630.74h.8v.8h-.8zM45.76 634.18h.8v.8h-.8zM51.5 632.19h.8v.8h-.8zM46.78 626.99h.8v.8h-.8zM50.96 631.76h.8v.8h-.8zM44.45 631.85h.8v.8h-.8zM44.94 631.93h.8v.8h-.8zM49.93 632.89h.8v.8h-.8zM50.15 632.43h.8v.8h-.8zM46.08 631.04h.8v.8h-.8zM47.97 631.41h.8v.8h-.8zM50.31 633.55h.8v.8h-.8zM54.41 625.58h.8v.8h-.8zM50.7 631.5h.8v.8h-.8zM56.33 634.33h.8v.8h-.8zM44.54 633h.8v.8h-.8zM47.94 634.48h.8v.8h-.8zM46.33 631.75h.8v.8h-.8zM49.11 631.76h.8v.8h-.8zM47.75 627.41h.8v.8h-.8zM50.88 634.5h.8v.8h-.8zM49.3 629.46h.8v.8h-.8zM50.11 633.41h.8v.8h-.8zM48.97 631.97h.8v.8h-.8zM53.73 629.2h.8v.8h-.8zM47.83 627.24h.8v.8h-.8zM47.4 630.15h.8v.8h-.8zM46.62 630.27h.8v.8h-.8zM54.89 631.51h.8v.8h-.8zM49.32 627.67h.8v.8h-.8zM50.71 629.66h.8v.8h-.8zM54.42 628.89h.8v.8h-.8zM47.76 627.99h.8v.8h-.8zM49.79 629.46h.8v.8h-.8zM49.3 631.06h.8v.8h-.8zM47.66 634.36h.8v.8h-.8zM52.31 632.16h.8v.8h-.8zM46.8 629.32h.8v.8h-.8zM48.13 630.04h.8v.8h-.8zM47.41 629.26h.8v.8h-.8zM46.58 631.49h.8v.8h-.8zM53.8 632h.8v.8h-.8zM47.97 627.96h.8v.8h-.8zM50.14 631.93h.8v.8h-.8zM45.82 629.28h.8v.8h-.8zM49.37 634.53h.8v.8h-.8zM51.38 632.51h.8v.8h-.8zM35.41 623.92h.8v.8h-.8zM37.9 635.04h.8v.8h-.8zM28.94 619.79h.8v.8h-.8zM48.14 620.41h.8v.8h-.8zM49.4 621.74h.8v.8h-.8zM39.16 619.78h.8v.8h-.8zM26.96 616.18h.8v.8h-.8zM55.72 625.87h.8v.8h-.8zM42.85 627.72h.8v.8h-.8zM42.55 628.13h.8v.8h-.8zM35.87 620.66h.8v.8h-.8zM45.87 619.89h.8v.8h-.8zM27.35 620.64h.8v.8h-.8zM33.64 625.68h.8v.8h-.8zM32.24 615.63h.8v.8h-.8zM35.34 631.32h.8v.8h-.8zM37.62 622.97h.8v.8h-.8zM38.07 623.77h.8v.8h-.8zM45.43 630.37h.8v.8h-.8zM24.85 630.17h.8v.8h-.8zM37.97 620.08h.8v.8h-.8zM57.19 620.98h.8v.8h-.8zM53.56 627.81h.8v.8h-.8zM29.76 624.93h.8v.8h-.8zM43.89 621.25h.8v.8h-.8zM36.47 615.35h.8v.8h-.8zM52.61 620.53h.8v.8h-.8zM34.85 620.2h.8v.8h-.8zM31.73 617.34h.8v.8h-.8zM38.75 623.88h.8v.8h-.8zM33.94 621.46h.8v.8h-.8zM26.88 625.13h.8v.8h-.8zM32 623.29h.8v.8h-.8zM30.75 618.91h.8v.8h-.8z"/>
</g>
<rect x="19.3" y="597" width="41.3" height="41.3" fill="none" stroke="#a8a8a8" stroke-width="0.6"/>
<line x1="18.4" x2="19.3" y1="599" y2="599" stroke="#888" stroke-width="0.5"/>
<line x1="18.4" x2="19.3" y1="606.9" y2="606.9" stroke="#888" stroke-width="0.5"/>
<line x1="18.4" x2="19.3" y1="614.8" y2="614.8" stroke="#888" stroke-width="0.5"/>
<line x1="18.4" x2="19.3" y1="622.7" y2="622.7" stroke="#888" stroke-width="0.5"/>
<line x1="18.4" x2="19.3" y1="630.6" y2="630.6" stroke="#888" stroke-width="0.5"/>
<path d="M33.3 637.7L37.1 601.6H59.7V637.7H33.3" fill="none" stroke="#777" stroke-width="0.6"/>
<text x="56.5" y="607.1" font-size="5.5" text-anchor="end" >17±9.4</text>
<line x1="23.43" x2="23.43" y1="638.3" y2="639.2" stroke="#888" stroke-width="0.5"/>
<line x1="29.21" x2="29.21" y1="638.3" y2="639.2" stroke="#888" stroke-width="0.5"/>
<line x1="35.41" x2="35.41" y1="638.3" y2="639.2" stroke="#888" stroke-width="0.5"/>
<line x1="46.56" x2="46.56" y1="638.3" y2="639.2" stroke="#888" stroke-width="0.5"/>
<line x1="56.47" x2="56.47" y1="638.3" y2="639.2" stroke="#888" stroke-width="0.5"/>
<text x="18.7" y="646.8" font-size="5.2">10<tspan dy="-1.9" font-size="3.2">-3</tspan></text>
<text x="27.6" y="646.8" font-size="5.2">0<tspan dy="-1.9" font-size="3.2"></tspan></text>
<text x="30.8" y="646.8" font-size="5.2">10<tspan dy="-1.9" font-size="3.2">3</tspan></text>
<text x="43.4" y="646.8" font-size="5.2">10<tspan dy="-1.9" font-size="3.2">4</tspan></text>
<text x="53" y="646.8" font-size="5.2">10<tspan dy="-1.9" font-size="3.2">5</tspan></text>
<clipPath id="fc2"><rect x="227.8" y="597.4" width="40.4" height="40.5"/></clipPath>
<g clip-path="url(#fc2)" fill-opacity="0.8">
<path d="M234 636.3C233.8 628 235 620 239.5 619.5C244 620 245.6 628 245.6 636.3Z" fill="#bf0b2c" fill-opacity="0.86"/>
<path fill="#bf0b2c" d="M242.08 619.73h.8v.8h-.8zM253.35 626.78h.8v.8h-.8zM240.64 622.59h.8v.8h-.8zM248.97 635.32h.8v.8h-.8zM242.5 618.79h.8v.8h-.8zM238.48 630.7h.8v.8h-.8zM238.44 619.9h.8v.8h-.8zM235.06 622.37h.8v.8h-.8zM241.07 623.11h.8v.8h-.8zM249.86 620.77h.8v.8h-.8zM242.72 627.52h.8v.8h-.8zM240.31 633.26h.8v.8h-.8zM239.34 625.05h.8v.8h-.8zM239.13 626.4h.8v.8h-.8zM247.43 631.66h.8v.8h-.8zM234.29 624.35h.8v.8h-.8zM237.01 631.9h.8v.8h-.8zM242.12 632.34h.8v.8h-.8zM240.69 615.55h.8v.8h-.8zM243.26 628.36h.8v.8h-.8zM243.54 619.18h.8v.8h-.8zM241.41 622.87h.8v.8h-.8zM237.56 629.12h.8v.8h-.8zM242.76 621.65h.8v.8h-.8zM232.44 612.16h.8v.8h-.8zM238.12 633.73h.8v.8h-.8zM240.72 613.49h.8v.8h-.8zM236.69 629.53h.8v.8h-.8zM249.36 634.01h.8v.8h-.8zM242.83 628.18h.8v.8h-.8zM235.7 624.29h.8v.8h-.8zM239.33 622.36h.8v.8h-.8zM241.32 624.64h.8v.8h-.8zM242.69 635.6h.8v.8h-.8zM244.71 629.51h.8v.8h-.8zM239.8 617.88h.8v.8h-.8zM240.43 630.26h.8v.8h-.8zM235.96 634.52h.8v.8h-.8zM239.33 629.23h.8v.8h-.8zM239.36 619.47h.8v.8h-.8zM251.34 620.03h.8v.8h-.8zM245.59 623.66h.8v.8h-.8zM242.39 622.17h.8v.8h-.8zM238.92 632.52h.8v.8h-.8zM250.73 621.92h.8v.8h-.8zM241.05 632.69h.8v.8h-.8zM237.85 631.26h.8v.8h-.8zM237.08 630.62h.8v.8h-.8zM243.18 634.27h.8v.8h-.8zM242.82 619.84h.8v.8h-.8zM244.32 620.39h.8v.8h-.8zM244.75 636.06h.8v.8h-.8zM243.98 623.68h.8v.8h-.8zM246.96 628.01h.8v.8h-.8zM234.77 624.87h.8v.8h-.8zM248.1 625.18h.8v.8h-.8zM241.61 624.94h.8v.8h-.8zM232.57 623.94h.8v.8h-.8zM242.78 628.25h.8v.8h-.8zM240.13 614.19h.8v.8h-.8zM247.11 631.32h.8v.8h-.8zM246.12 634.8h.8v.8h-.8zM238.78 623.37h.8v.8h-.8zM242.57 637.04h.8v.8h-.8zM232.57 625.62h.8v.8h-.8zM237.42 630.36h.8v.8h-.8zM248.32 625.22h.8v.8h-.8zM234.8 627.3h.8v.8h-.8zM239.57 617.74h.8v.8h-.8zM245.42 623.86h.8v.8h-.8zM244.42 619.11h.8v.8h-.8zM246.48 618.35h.8v.8h-.8zM246.27 616.13h.8v.8h-.8zM247.9 624.75h.8v.8h-.8zM233.22 625.59h.8v.8h-.8zM242.69 621.06h.8v.8h-.8zM238.53 628.62h.8v.8h-.8zM240.15 608.61h.8v.8h-.8zM238.85 629.56h.8v.8h-.8zM242.49 633.05h.8v.8h-.8zM245 628.87h.8v.8h-.8zM246.43 632.73h.8v.8h-.8zM241.51 623.28h.8v.8h-.8zM246.12 629.54h.8v.8h-.8zM231.54 620.37h.8v.8h-.8zM243.34 627.65h.8v.8h-.8zM242.4 630.85h.8v.8h-.8zM241.73 636.5h.8v.8h-.8zM238.05 624.6h.8v.8h-.8zM242.61 631.47h.8v.8h-.8zM244.94 635.93h.8v.8h-.8zM238.62 634h.8v.8h-.8zM243.34 620.74h.8v.8h-.8zM244.93 624.18h.8v.8h-.8zM229.01 622.59h.8v.8h-.8zM237.49 627.46h.8v.8h-.8zM252.55 631.48h.8v.8h-.8zM242.57 621.39h.8v.8h-.8zM235.07 625.75h.8v.8h-.8zM238.98 623.31h.8v.8h-.8zM246.64 627.46h.8v.8h-.8zM234.83 634.74h.8v.8h-.8zM239.44 619.03h.8v.8h-.8zM242.61 629.93h.8v.8h-.8zM239.31 631.18h.8v.8h-.8zM245.1 621.71h.8v.8h-.8zM230.71 612.64h.8v.8h-.8zM240.36 634.38h.8v.8h-.8zM246.01 635.35h.8v.8h-.8zM250.28 627.1h.8v.8h-.8zM246.28 617.83h.8v.8h-.8zM244.45 629.36h.8v.8h-.8zM240.53 624.35h.8v.8h-.8zM235.42 627.84h.8v.8h-.8zM247.39 624.8h.8v.8h-.8zM243.66 623.01h.8v.8h-.8zM242.27 620.96h.8v.8h-.8zM242.89 625.69h.8v.8h-.8zM242.58 623.36h.8v.8h-.8zM235.12 625.03h.8v.8h-.8zM246.18 636.47h.8v.8h-.8zM239.38 631.8h.8v.8h-.8zM244.79 629.36h.8v.8h-.8zM233.24 628.94h.8v.8h-.8zM236.15 634.06h.8v.8h-.8zM244.94 630.7h.8v.8h-.8zM228.32 630.73h.8v.8h-.8zM244.5 619.33h.8v.8h-.8zM245.85 627.45h.8v.8h-.8zM240.08 622.72h.8v.8h-.8zM235.91 624.4h.8v.8h-.8zM256.43 628.22h.8v.8h-.8zM242.04 623.11h.8v.8h-.8zM237.91 623.69h.8v.8h-.8zM236.57 632.25h.8v.8h-.8zM239.65 632.2h.8v.8h-.8zM235.22 632.57h.8v.8h-.8zM240.86 631h.8v.8h-.8zM240.48 621.67h.8v.8h-.8zM247.05 624.39h.8v.8h-.8zM240.26 621.69h.8v.8h-.8zM242.02 624.66h.8v.8h-.8zM242.41 629.07h.8v.8h-.8zM237.56 618.54h.8v.8h-.8zM243.16 632.51h.8v.8h-.8zM244.48 620.13h.8v.8h-.8zM244.03 629.31h.8v.8h-.8zM242.42 629.58h.8v.8h-.8zM239.38 628.29h.8v.8h-.8zM245.63 623.97h.8v.8h-.8zM233.8 626.37h.8v.8h-.8zM241.98 615.93h.8v.8h-.8zM237.62 630.54h.8v.8h-.8zM240.25 627.55h.8v.8h-.8zM234.7 632.44h.8v.8h-.8zM249.77 625.8h.8v.8h-.8zM237.34 620.05h.8v.8h-.8zM245.45 627.63h.8v.8h-.8zM237.03 634.28h.8v.8h-.8zM244.82 630.62h.8v.8h-.8zM232.2 626.38h.8v.8h-.8zM244.13 619.65h.8v.8h-.8zM245.64 635.58h.8v.8h-.8zM246.17 622.67h.8v.8h-.8zM237.46 632.65h.8v.8h-.8zM245.97 634.38h.8v.8h-.8zM247 626.4h.8v.8h-.8zM238.95 615.87h.8v.8h-.8zM238.68 624.15h.8v.8h-.8zM244.24 629.24h.8v.8h-.8zM234.15 622.71h.8v.8h-.8zM237.41 632.12h.8v.8h-.8zM248.13 636.78h.8v.8h-.8zM247.06 628.62h.8v.8h-.8zM249.09 628.84h.8v.8h-.8zM262.48 623.28h.8v.8h-.8zM254.23 625.05h.8v.8h-.8zM257.36 635.2h.8v.8h-.8zM252.3 635.21h.8v.8h-.8zM253.25 627.76h.8v.8h-.8zM250.48 629.53h.8v.8h-.8zM254.47 630.5h.8v.8h-.8zM261.44 629.23h.8v.8h-.8zM250.13 627.12h.8v.8h-.8zM248.89 624.24h.8v.8h-.8zM248.06 633.63h.8v.8h-.8zM252.24 629.31h.8v.8h-.8zM253.4 634.27h.8v.8h-.8zM254.46 633.09h.8v.8h-.8zM249.76 628.95h.8v.8h-.8zM248.89 629.61h.8v.8h-.8zM248.73 628.51h.8v.8h-.8zM251.3 629.14h.8v.8h-.8zM250.93 628.03h.8v.8h-.8zM257.24 628.63h.8v.8h-.8zM247.95 630.77h.8v.8h-.8zM247.64 625.71h.8v.8h-.8zM252.34 623.33h.8v.8h-.8zM239.12 631.15h.8v.8h-.8zM256.14 623.32h.8v.8h-.8zM248.41 632.31h.8v.8h-.8zM244.05 626.5h.8v.8h-.8zM247.18 629.21h.8v.8h-.8zM244.11 633.58h.8v.8h-.8zM251.42 631.21h.8v.8h-.8zM250.69 621.51h.8v.8h-.8zM251.39 624.64h.8v.8h-.8zM252.04 626.59h.8v.8h-.8zM250.73 629.16h.8v.8h-.8zM255.09 633.07h.8v.8h-.8zM247.98 629.93h.8v.8h-.8zM257.84 631.98h.8v.8h-.8zM249.08 629.51h.8v.8h-.8zM250.61 633.77h.8v.8h-.8zM252.13 631.5h.8v.8h-.8zM260.85 624.49h.8v.8h-.8zM247.94 623.07h.8v.8h-.8zM245.63 633.43h.8v.8h-.8zM253.17 636.52h.8v.8h-.8zM244.1 626.48h.8v.8h-.8zM257.78 634.12h.8v.8h-.8zM255.54 633.49h.8v.8h-.8zM252.13 629.96h.8v.8h-.8zM252.13 633.37h.8v.8h-.8zM251.35 631.28h.8v.8h-.8zM257.81 625.5h.8v.8h-.8zM249 632.26h.8v.8h-.8zM250.95 629.37h.8v.8h-.8zM260.39 631.66h.8v.8h-.8zM250.33 634.39h.8v.8h-.8zM262.07 625.56h.8v.8h-.8zM249.32 630.47h.8v.8h-.8zM254.1 628.41h.8v.8h-.8zM253.96 626.82h.8v.8h-.8zM249.58 630.42h.8v.8h-.8zM261.55 621h.8v.8h-.8zM253.68 635.4h.8v.8h-.8zM253.8 630.59h.8v.8h-.8zM251.47 626.57h.8v.8h-.8zM258.54 625.27h.8v.8h-.8zM251.51 627.9h.8v.8h-.8zM248.86 621.11h.8v.8h-.8zM250.47 630.55h.8v.8h-.8zM252.57 633.38h.8v.8h-.8zM251.35 627.44h.8v.8h-.8zM253.23 632.66h.8v.8h-.8zM248.38 623.92h.8v.8h-.8zM247.9 634.23h.8v.8h-.8zM255.99 626.45h.8v.8h-.8zM252.45 633.36h.8v.8h-.8zM257.31 627.37h.8v.8h-.8zM251.04 635.64h.8v.8h-.8zM261.64 636.12h.8v.8h-.8zM247.44 631.8h.8v.8h-.8zM250.8 629.77h.8v.8h-.8zM249.35 628.08h.8v.8h-.8zM251.96 637.21h.8v.8h-.8zM254.8 631.71h.8v.8h-.8zM252.11 627h.8v.8h-.8zM251.08 634.96h.8v.8h-.8zM253.04 629.92h.8v.8h-.8zM245.53 631.59h.8v.8h-.8zM245.11 636.1h.8v.8h-.8zM249.48 630h.8v.8h-.8zM246.6 628.02h.8v.8h-.8zM248.27 634.53h.8v.8h-.8zM252.99 625.28h.8v.8h-.8zM244.28 629.73h.8v.8h-.8zM250.05 625.56h.8v.8h-.8zM247.54 616.89h.8v.8h-.8zM244.67 614.46h.8v.8h-.8zM240.58 615.24h.8v.8h-.8zM234.38 621.78h.8v.8h-.8zM246.42 607.66h.8v.8h-.8zM244.61 624.93h.8v.8h-.8zM245.42 625.78h.8v.8h-.8zM242.39 618.01h.8v.8h-.8zM236.2 612.57h.8v.8h-.8zM233.06 612.63h.8v.8h-.8zM245.47 621.12h.8v.8h-.8zM250.98 618.78h.8v.8h-.8zM238.06 620.59h.8v.8h-.8zM243.13 628.7h.8v.8h-.8zM255.75 623.76h.8v.8h-.8zM237.18 614.85h.8v.8h-.8zM245.14 613.73h.8v.8h-.8zM247.14 622.12h.8v.8h-.8zM249.03 619.37h.8v.8h-.8zM238.7 612.95h.8v.8h-.8zM243.26 625.96h.8v.8h-.8zM253.45 623.87h.8v.8h-.8zM246.18 622.05h.8v.8h-.8zM248.93 625.75h.8v.8h-.8zM249.13 608.79h.8v.8h-.8zM249.72 620.31h.8v.8h-.8zM241.24 621.15h.8v.8h-.8zM245.73 617.68h.8v.8h-.8zM233.87 618.67h.8v.8h-.8zM247.34 617.71h.8v.8h-.8z"/>
</g>
<rect x="227.4" y="597" width="41.2" height="41.3" fill="none" stroke="#a8a8a8" stroke-width="0.6"/>
<line x1="226.5" x2="227.4" y1="599" y2="599" stroke="#888" stroke-width="0.5"/>
<line x1="226.5" x2="227.4" y1="606.9" y2="606.9" stroke="#888" stroke-width="0.5"/>
<line x1="226.5" x2="227.4" y1="614.8" y2="614.8" stroke="#888" stroke-width="0.5"/>
<line x1="226.5" x2="227.4" y1="622.7" y2="622.7" stroke="#888" stroke-width="0.5"/>
<line x1="226.5" x2="227.4" y1="630.6" y2="630.6" stroke="#888" stroke-width="0.5"/>
<path d="M243.2 637.7L249.6 601.6H267.7V637.7H243.2" fill="none" stroke="#777" stroke-width="0.6"/>
<text x="267.6" y="607.1" font-size="5.5" text-anchor="end" >16±9.4</text>
<line x1="231.52" x2="231.52" y1="638.3" y2="639.2" stroke="#888" stroke-width="0.5"/>
<line x1="237.29" x2="237.29" y1="638.3" y2="639.2" stroke="#888" stroke-width="0.5"/>
<line x1="243.47" x2="243.47" y1="638.3" y2="639.2" stroke="#888" stroke-width="0.5"/>
<line x1="254.59" x2="254.59" y1="638.3" y2="639.2" stroke="#888" stroke-width="0.5"/>
<line x1="264.48" x2="264.48" y1="638.3" y2="639.2" stroke="#888" stroke-width="0.5"/>
<text x="226.7" y="646.8" font-size="5.2">10<tspan dy="-1.9" font-size="3.2">-3</tspan></text>
<text x="235.5" y="646.8" font-size="5.2">0<tspan dy="-1.9" font-size="3.2"></tspan></text>
<text x="239.9" y="646.8" font-size="5.2">10<tspan dy="-1.9" font-size="3.2">3</tspan></text>
<text x="251.9" y="646.8" font-size="5.2">10<tspan dy="-1.9" font-size="3.2">4</tspan></text>
<text x="261.5" y="646.8" font-size="5.2">10<tspan dy="-1.9" font-size="3.2">5</tspan></text>
<clipPath id="fc3"><rect x="65.9" y="597.4" width="40.7" height="40.5"/></clipPath>
<g clip-path="url(#fc3)" fill-opacity="0.8">
<path d="M68.8 636.3C68.5 627 72 621.3 79 621.3C86 621.3 92.5 627 92.6 636.3Z" fill="#4b1c87" fill-opacity="0.92"/>
<path fill="#4b1c87" d="M86.48 627.91h.8v.8h-.8zM83.83 625.24h.8v.8h-.8zM74.08 629.62h.8v.8h-.8zM76.81 627.91h.8v.8h-.8zM81.22 618.89h.8v.8h-.8zM80.87 630.79h.8v.8h-.8zM73.66 625.81h.8v.8h-.8zM74.64 630.42h.8v.8h-.8zM92.28 626.19h.8v.8h-.8zM88.86 628.25h.8v.8h-.8zM78.16 625.6h.8v.8h-.8zM72.34 633.42h.8v.8h-.8zM87.92 621.97h.8v.8h-.8zM87.58 623.35h.8v.8h-.8zM66.45 633h.8v.8h-.8zM68.48 632.92h.8v.8h-.8zM81.79 631.51h.8v.8h-.8zM84.61 632.77h.8v.8h-.8zM83.13 629.89h.8v.8h-.8zM82.24 632.48h.8v.8h-.8zM76.48 632.08h.8v.8h-.8zM93.56 626.68h.8v.8h-.8zM83.96 624.43h.8v.8h-.8zM77.41 628.3h.8v.8h-.8zM76.92 622.57h.8v.8h-.8zM79.73 627.96h.8v.8h-.8zM82.91 630.55h.8v.8h-.8zM78.46 623.14h.8v.8h-.8zM76.66 629.21h.8v.8h-.8zM87.83 625.17h.8v.8h-.8zM81.42 619.02h.8v.8h-.8zM81.52 626.44h.8v.8h-.8zM76.12 631.43h.8v.8h-.8zM96.14 632.16h.8v.8h-.8zM72.97 634.64h.8v.8h-.8zM77 626.8h.8v.8h-.8zM74.78 629.28h.8v.8h-.8zM84.98 627.73h.8v.8h-.8zM78.11 626.28h.8v.8h-.8zM76.39 631.86h.8v.8h-.8zM75.32 626.26h.8v.8h-.8zM78.12 623.26h.8v.8h-.8zM77.95 619.68h.8v.8h-.8zM83.67 629.7h.8v.8h-.8zM77.31 634.75h.8v.8h-.8zM72.63 629.77h.8v.8h-.8zM84.29 624.33h.8v.8h-.8zM77.84 631.44h.8v.8h-.8zM80.55 628.41h.8v.8h-.8zM92.55 628.08h.8v.8h-.8zM87.48 626.36h.8v.8h-.8zM70.33 617.16h.8v.8h-.8zM82.9 634.47h.8v.8h-.8zM68.78 616.21h.8v.8h-.8zM84.46 624.31h.8v.8h-.8zM77.37 625.39h.8v.8h-.8zM71.93 629.19h.8v.8h-.8zM88.23 628.81h.8v.8h-.8zM75.02 632.17h.8v.8h-.8zM79.02 629.89h.8v.8h-.8zM71.64 630.27h.8v.8h-.8zM86.65 633.41h.8v.8h-.8zM80.25 629.21h.8v.8h-.8zM74.86 631.39h.8v.8h-.8zM86.95 632.37h.8v.8h-.8zM76.56 620.95h.8v.8h-.8zM79.4 625.97h.8v.8h-.8zM73.35 630h.8v.8h-.8zM88.45 628.96h.8v.8h-.8zM89.91 628.97h.8v.8h-.8zM71.31 624.11h.8v.8h-.8zM76.86 630.4h.8v.8h-.8zM88.22 627.68h.8v.8h-.8zM89.04 622.94h.8v.8h-.8zM79 634.4h.8v.8h-.8zM83.96 632.18h.8v.8h-.8zM72.33 631.98h.8v.8h-.8zM94.46 623.96h.8v.8h-.8zM71.27 622h.8v.8h-.8zM72.09 629.75h.8v.8h-.8zM77.23 636.28h.8v.8h-.8zM86.42 623.64h.8v.8h-.8zM82.12 626.25h.8v.8h-.8zM87.04 631.48h.8v.8h-.8zM76.94 631.41h.8v.8h-.8zM85.07 626.59h.8v.8h-.8zM82.29 630.37h.8v.8h-.8zM77.2 623.69h.8v.8h-.8zM91.28 627.04h.8v.8h-.8zM74.77 629.29h.8v.8h-.8zM66.97 627.29h.8v.8h-.8zM67.98 624.92h.8v.8h-.8zM87.95 626.12h.8v.8h-.8zM69.29 635.56h.8v.8h-.8zM74.46 634.31h.8v.8h-.8zM75.39 619.83h.8v.8h-.8zM96.36 624.9h.8v.8h-.8zM86.76 632.87h.8v.8h-.8zM68.43 627.38h.8v.8h-.8zM74.96 630h.8v.8h-.8zM79.93 620.82h.8v.8h-.8zM80.55 630.77h.8v.8h-.8zM77.44 629.79h.8v.8h-.8zM75.35 626.78h.8v.8h-.8zM83.13 627.73h.8v.8h-.8zM91.26 631.68h.8v.8h-.8zM87.49 630.57h.8v.8h-.8zM81.43 621.33h.8v.8h-.8zM89.43 635.55h.8v.8h-.8zM82.04 625.79h.8v.8h-.8zM79.74 632.95h.8v.8h-.8zM82.58 622.22h.8v.8h-.8zM78.54 623.28h.8v.8h-.8zM78.29 622.65h.8v.8h-.8zM72.36 634.29h.8v.8h-.8zM89.3 619.16h.8v.8h-.8zM71.43 624.85h.8v.8h-.8zM76.64 620.27h.8v.8h-.8zM87.88 619.15h.8v.8h-.8zM86.18 630.44h.8v.8h-.8zM76.83 623.83h.8v.8h-.8zM80.6 627.76h.8v.8h-.8zM84.74 626.51h.8v.8h-.8zM76.41 622.18h.8v.8h-.8zM73.87 623.3h.8v.8h-.8zM104.65 620.91h.8v.8h-.8zM93.56 629.38h.8v.8h-.8zM81.95 628h.8v.8h-.8zM76.72 634.9h.8v.8h-.8zM84.55 626.9h.8v.8h-.8zM78.99 628.02h.8v.8h-.8zM70.03 625.48h.8v.8h-.8zM74.58 630.07h.8v.8h-.8zM85.36 617.93h.8v.8h-.8zM78.11 631.87h.8v.8h-.8zM68.68 621.26h.8v.8h-.8zM88.88 626.41h.8v.8h-.8zM76.11 621.1h.8v.8h-.8zM81.57 624.32h.8v.8h-.8zM81.94 629.12h.8v.8h-.8zM86.26 625.46h.8v.8h-.8zM75.45 627.19h.8v.8h-.8zM79.21 627.88h.8v.8h-.8zM75.41 625.88h.8v.8h-.8zM74.92 624.17h.8v.8h-.8zM81.45 632.68h.8v.8h-.8zM75.36 629.89h.8v.8h-.8zM83.11 627.58h.8v.8h-.8zM86.05 624.31h.8v.8h-.8zM85.03 628.5h.8v.8h-.8zM85.35 636.6h.8v.8h-.8zM70.73 627.51h.8v.8h-.8zM83.17 622.3h.8v.8h-.8zM90.64 629.24h.8v.8h-.8zM73.06 621.18h.8v.8h-.8zM99.08 614.92h.8v.8h-.8zM79.12 623.93h.8v.8h-.8zM85.4 627.51h.8v.8h-.8zM82.6 628.34h.8v.8h-.8zM70.48 633.48h.8v.8h-.8zM76.02 632.59h.8v.8h-.8zM86.17 627.23h.8v.8h-.8zM81.3 626.81h.8v.8h-.8zM83.85 619.13h.8v.8h-.8zM66.92 632.33h.8v.8h-.8zM87.21 619.45h.8v.8h-.8zM84.13 626.8h.8v.8h-.8zM88.69 625.44h.8v.8h-.8zM78.1 623.35h.8v.8h-.8zM81.65 626.41h.8v.8h-.8zM74.28 625.33h.8v.8h-.8zM73.4 630.1h.8v.8h-.8zM70.94 619.39h.8v.8h-.8zM71.53 632.36h.8v.8h-.8zM75.57 630.21h.8v.8h-.8zM86.56 624.53h.8v.8h-.8zM86.75 629.52h.8v.8h-.8zM79.67 623.56h.8v.8h-.8zM79.52 620.72h.8v.8h-.8zM77.61 624.17h.8v.8h-.8zM83.93 628.71h.8v.8h-.8zM74.37 631.29h.8v.8h-.8zM90.62 627.35h.8v.8h-.8zM73.49 629.51h.8v.8h-.8zM85.21 636.89h.8v.8h-.8zM73.5 634.56h.8v.8h-.8zM100.7 636.32h.8v.8h-.8zM78.07 633.45h.8v.8h-.8zM93.17 633.03h.8v.8h-.8zM90.98 624.99h.8v.8h-.8zM90.68 635.44h.8v.8h-.8zM97.01 626.58h.8v.8h-.8zM94.29 632.3h.8v.8h-.8zM95.39 627.81h.8v.8h-.8zM88.13 624.35h.8v.8h-.8zM89.44 625.29h.8v.8h-.8zM82.66 621.02h.8v.8h-.8zM97.23 622.48h.8v.8h-.8zM84.23 627.8h.8v.8h-.8zM100.62 634.26h.8v.8h-.8zM89.57 622.89h.8v.8h-.8zM88.83 623.5h.8v.8h-.8zM88.75 630.4h.8v.8h-.8zM85.69 624.15h.8v.8h-.8zM90.47 627.88h.8v.8h-.8zM87.45 624.1h.8v.8h-.8zM85.29 624.28h.8v.8h-.8zM95.13 626.8h.8v.8h-.8zM73.5 631.07h.8v.8h-.8zM91.61 623.68h.8v.8h-.8zM90.5 612.97h.8v.8h-.8zM82.15 633.8h.8v.8h-.8zM87.62 628.2h.8v.8h-.8zM96.66 621.89h.8v.8h-.8zM102.43 624.41h.8v.8h-.8zM94.12 622.28h.8v.8h-.8zM94.19 627.93h.8v.8h-.8zM98.48 622.26h.8v.8h-.8zM91.95 637.07h.8v.8h-.8zM84.87 629.76h.8v.8h-.8zM94.63 625.53h.8v.8h-.8zM90.4 635.06h.8v.8h-.8zM98.83 630.84h.8v.8h-.8zM93.61 622.35h.8v.8h-.8zM92.55 636.96h.8v.8h-.8zM98.31 621.22h.8v.8h-.8zM79.58 624.69h.8v.8h-.8zM93 625.25h.8v.8h-.8zM90.16 629.72h.8v.8h-.8zM97.38 629.06h.8v.8h-.8zM99.51 620.89h.8v.8h-.8zM94.81 630.13h.8v.8h-.8zM83.07 634.26h.8v.8h-.8zM82.42 620.77h.8v.8h-.8zM94.27 634.78h.8v.8h-.8zM98.91 622.35h.8v.8h-.8zM94.91 635.02h.8v.8h-.8zM91.04 628.37h.8v.8h-.8zM89.21 631.68h.8v.8h-.8zM88.67 625.06h.8v.8h-.8zM84.63 623.35h.8v.8h-.8zM93.33 630.37h.8v.8h-.8zM89.67 622.74h.8v.8h-.8zM94.05 629.8h.8v.8h-.8zM99.68 625.52h.8v.8h-.8zM89.52 630.58h.8v.8h-.8zM101.2 627.75h.8v.8h-.8zM91.51 623.29h.8v.8h-.8zM89.73 632.76h.8v.8h-.8zM97.14 633.61h.8v.8h-.8zM82.11 632.22h.8v.8h-.8zM86.43 630.99h.8v.8h-.8zM77.71 627.51h.8v.8h-.8zM86.67 634.41h.8v.8h-.8zM92.74 634.55h.8v.8h-.8zM89.06 623.07h.8v.8h-.8zM97.43 626h.8v.8h-.8zM91.66 621.23h.8v.8h-.8zM89.93 628.58h.8v.8h-.8zM87.74 629.98h.8v.8h-.8zM78.1 632.51h.8v.8h-.8zM89.53 635.43h.8v.8h-.8zM89.89 624.69h.8v.8h-.8zM80.93 619.69h.8v.8h-.8zM90.42 615.21h.8v.8h-.8zM77.77 620.62h.8v.8h-.8zM92.52 607.44h.8v.8h-.8zM75.48 613.93h.8v.8h-.8zM100.55 625.47h.8v.8h-.8zM92.27 621.01h.8v.8h-.8zM74.83 624.82h.8v.8h-.8zM80.98 613.19h.8v.8h-.8zM102.63 609.22h.8v.8h-.8zM97.61 619.24h.8v.8h-.8zM76.63 619.09h.8v.8h-.8zM77.35 619.15h.8v.8h-.8zM79.14 610.81h.8v.8h-.8zM94.02 617.72h.8v.8h-.8zM91.19 610.35h.8v.8h-.8zM75.53 598.12h.8v.8h-.8zM94.16 620.71h.8v.8h-.8zM74.3 623.09h.8v.8h-.8zM90.43 635.8h.8v.8h-.8zM87.18 623.58h.8v.8h-.8zM90.62 622.7h.8v.8h-.8zM84.81 615.5h.8v.8h-.8zM91.5 625.52h.8v.8h-.8zM74.39 611.1h.8v.8h-.8zM84.65 628.95h.8v.8h-.8zM83.13 607.7h.8v.8h-.8zM92.39 622.61h.8v.8h-.8zM102.75 619.18h.8v.8h-.8zM102.99 613.64h.8v.8h-.8zM93.27 618.84h.8v.8h-.8zM74.16 616.34h.8v.8h-.8zM97.16 624.81h.8v.8h-.8zM81.59 624.77h.8v.8h-.8zM93.27 623.48h.8v.8h-.8zM87.66 619.88h.8v.8h-.8zM77.51 617.62h.8v.8h-.8zM86.16 613.55h.8v.8h-.8zM82.42 619.03h.8v.8h-.8z"/>
</g>
<rect x="65.5" y="597" width="41.5" height="41.3" fill="none" stroke="#a8a8a8" stroke-width="0.6"/>
<line x1="64.6" x2="65.5" y1="599" y2="599" stroke="#888" stroke-width="0.5"/>
<line x1="64.6" x2="65.5" y1="606.9" y2="606.9" stroke="#888" stroke-width="0.5"/>
<line x1="64.6" x2="65.5" y1="614.8" y2="614.8" stroke="#888" stroke-width="0.5"/>
<line x1="64.6" x2="65.5" y1="622.7" y2="622.7" stroke="#888" stroke-width="0.5"/>
<line x1="64.6" x2="65.5" y1="630.6" y2="630.6" stroke="#888" stroke-width="0.5"/>
<path d="M79.4 637.7L82.6 601.6H106.1V637.7H79.4" fill="none" stroke="#777" stroke-width="0.6"/>
<text x="102.8" y="607.1" font-size="5.5" text-anchor="end" >39±9.8</text>
<line x1="69.65" x2="69.65" y1="638.3" y2="639.2" stroke="#888" stroke-width="0.5"/>
<line x1="75.46" x2="75.46" y1="638.3" y2="639.2" stroke="#888" stroke-width="0.5"/>
<line x1="81.69" x2="81.69" y1="638.3" y2="639.2" stroke="#888" stroke-width="0.5"/>
<line x1="92.89" x2="92.89" y1="638.3" y2="639.2" stroke="#888" stroke-width="0.5"/>
<line x1="102.85" x2="102.85" y1="638.3" y2="639.2" stroke="#888" stroke-width="0.5"/>
<text x="64.9" y="646.8" font-size="5.2">10<tspan dy="-1.9" font-size="3.2">-3</tspan></text>
<text x="73.8" y="646.8" font-size="5.2">0<tspan dy="-1.9" font-size="3.2"></tspan></text>
<text x="77" y="646.8" font-size="5.2">10<tspan dy="-1.9" font-size="3.2">3</tspan></text>
<text x="89.6" y="646.8" font-size="5.2">10<tspan dy="-1.9" font-size="3.2">4</tspan></text>
<text x="99.2" y="646.8" font-size="5.2">10<tspan dy="-1.9" font-size="3.2">5</tspan></text>
<clipPath id="fc4"><rect x="273.9" y="597.4" width="40.7" height="40.5"/></clipPath>
<g clip-path="url(#fc4)" fill-opacity="0.8">
<path d="M279.1 636C278.5 628 281 623 287 622.6L305 624.3C310 625.3 312.6 630 312.4 636Z" fill="#4b1c87" fill-opacity="0.92"/>
<path fill="#4b1c87" d="M296.44 627.37h.8v.8h-.8zM282.6 620.02h.8v.8h-.8zM297.05 620.11h.8v.8h-.8zM297.75 619.65h.8v.8h-.8zM307.19 620.87h.8v.8h-.8zM281.4 625.82h.8v.8h-.8zM312.58 612.28h.8v.8h-.8zM292.62 622.38h.8v.8h-.8zM305.55 629.6h.8v.8h-.8zM292.3 614.14h.8v.8h-.8zM301.5 627.12h.8v.8h-.8zM299.23 622.43h.8v.8h-.8zM285.02 634.36h.8v.8h-.8zM280.72 614.41h.8v.8h-.8zM304.94 623.48h.8v.8h-.8zM301.54 623.84h.8v.8h-.8zM312.82 629.24h.8v.8h-.8zM287.94 627.1h.8v.8h-.8zM280.98 613.41h.8v.8h-.8zM307.45 619.86h.8v.8h-.8zM286.69 624.6h.8v.8h-.8zM293.43 618.14h.8v.8h-.8zM286.14 625.91h.8v.8h-.8zM283.74 622.68h.8v.8h-.8zM283.09 624.32h.8v.8h-.8zM313.9 624.91h.8v.8h-.8zM306.48 624.32h.8v.8h-.8zM283.38 620.51h.8v.8h-.8zM294.86 624.25h.8v.8h-.8zM287.37 625.13h.8v.8h-.8zM286.08 622.36h.8v.8h-.8zM293.96 616.22h.8v.8h-.8zM305.22 622.29h.8v.8h-.8zM295.28 621.87h.8v.8h-.8zM284.13 627.05h.8v.8h-.8zM287.67 625.11h.8v.8h-.8zM282.64 617.77h.8v.8h-.8zM288.86 627.38h.8v.8h-.8zM275.68 621.15h.8v.8h-.8zM298.59 622.72h.8v.8h-.8zM293.89 625.97h.8v.8h-.8zM297.28 616.95h.8v.8h-.8zM301.12 618.09h.8v.8h-.8zM290.3 629.36h.8v.8h-.8zM298.81 618.11h.8v.8h-.8zM285.64 630.43h.8v.8h-.8zM297.76 615.04h.8v.8h-.8zM311.51 624.96h.8v.8h-.8zM308.71 624.08h.8v.8h-.8zM292.49 621.19h.8v.8h-.8zM310.85 618.65h.8v.8h-.8zM292.98 621.75h.8v.8h-.8zM293.06 616.81h.8v.8h-.8zM280.5 609.03h.8v.8h-.8zM297.76 621.01h.8v.8h-.8zM296.32 616.72h.8v.8h-.8zM294.11 617.13h.8v.8h-.8zM282.84 623.73h.8v.8h-.8zM301.12 624.96h.8v.8h-.8zM293.59 620.08h.8v.8h-.8zM309.56 628.3h.8v.8h-.8zM287.04 616.55h.8v.8h-.8zM298.18 623.64h.8v.8h-.8zM283.95 633.53h.8v.8h-.8zM296.75 627.02h.8v.8h-.8zM309.99 629.12h.8v.8h-.8zM291.26 622.22h.8v.8h-.8zM284.25 624.02h.8v.8h-.8zM282.45 611.8h.8v.8h-.8zM277.19 622.31h.8v.8h-.8zM279.44 627.62h.8v.8h-.8zM308.3 627.06h.8v.8h-.8zM301.32 627.75h.8v.8h-.8zM297.01 626.4h.8v.8h-.8zM299.26 625.98h.8v.8h-.8zM282.81 618.71h.8v.8h-.8zM283.01 626.21h.8v.8h-.8zM299.68 618.06h.8v.8h-.8zM283.12 619.12h.8v.8h-.8zM303.74 621.46h.8v.8h-.8zM291.4 618.55h.8v.8h-.8zM292.74 630.08h.8v.8h-.8zM286.44 620.25h.8v.8h-.8zM312.89 625.66h.8v.8h-.8zM281.45 627.52h.8v.8h-.8zM280.09 624.84h.8v.8h-.8zM304.23 619.03h.8v.8h-.8zM286.05 622.3h.8v.8h-.8zM294.1 619.68h.8v.8h-.8zM286.58 631.09h.8v.8h-.8zM310.62 623.69h.8v.8h-.8zM281.32 619.37h.8v.8h-.8zM290.86 624.49h.8v.8h-.8zM311.83 619.41h.8v.8h-.8zM295.71 619.87h.8v.8h-.8zM295.64 618.57h.8v.8h-.8zM298.27 627.88h.8v.8h-.8zM289.7 620.38h.8v.8h-.8zM295.36 615.42h.8v.8h-.8zM290.1 617.59h.8v.8h-.8zM310.69 619.59h.8v.8h-.8zM288.48 631.55h.8v.8h-.8zM292.75 618.12h.8v.8h-.8zM294.01 623.01h.8v.8h-.8zM285.82 621.11h.8v.8h-.8zM291.76 625.68h.8v.8h-.8zM302.58 626.24h.8v.8h-.8zM292.72 626.05h.8v.8h-.8zM291.74 627.88h.8v.8h-.8zM298.56 619.9h.8v.8h-.8zM307.73 614.42h.8v.8h-.8zM283.35 618.03h.8v.8h-.8zM292.63 615.85h.8v.8h-.8zM280.77 612.53h.8v.8h-.8zM295.35 618.17h.8v.8h-.8zM281.41 628.68h.8v.8h-.8zM295.26 627.46h.8v.8h-.8zM281.79 627.88h.8v.8h-.8zM306.25 619.94h.8v.8h-.8zM284.68 620.13h.8v.8h-.8zM297.01 634.16h.8v.8h-.8zM291.66 620.39h.8v.8h-.8zM298.16 620.66h.8v.8h-.8zM288.91 620.99h.8v.8h-.8zM303.44 621.7h.8v.8h-.8zM296.72 620.72h.8v.8h-.8zM291.93 620.38h.8v.8h-.8zM308.06 623.21h.8v.8h-.8zM310.63 621.18h.8v.8h-.8zM305.85 615.09h.8v.8h-.8zM289.63 621.73h.8v.8h-.8zM287.07 621.46h.8v.8h-.8zM283.86 621.22h.8v.8h-.8zM286.7 622.02h.8v.8h-.8zM290.81 617.01h.8v.8h-.8zM289.56 622.18h.8v.8h-.8zM280 622.52h.8v.8h-.8zM307.91 620.9h.8v.8h-.8zM300.15 625.17h.8v.8h-.8zM285.23 628.68h.8v.8h-.8zM310.22 612.93h.8v.8h-.8zM306.66 622.73h.8v.8h-.8zM279.91 617.9h.8v.8h-.8zM282.49 617.52h.8v.8h-.8zM298.27 621.13h.8v.8h-.8zM299.25 622.48h.8v.8h-.8zM312.78 612.8h.8v.8h-.8zM296.77 622.19h.8v.8h-.8zM302.07 615.3h.8v.8h-.8zM279.62 621.18h.8v.8h-.8zM294.93 612.93h.8v.8h-.8zM298.13 622.01h.8v.8h-.8zM302.2 608.91h.8v.8h-.8zM299.63 617.57h.8v.8h-.8zM288.8 625.96h.8v.8h-.8zM312.78 622.8h.8v.8h-.8zM292.88 628.62h.8v.8h-.8zM284.19 621.26h.8v.8h-.8zM288.49 617.09h.8v.8h-.8zM296.23 632.28h.8v.8h-.8zM296.82 624.55h.8v.8h-.8zM293.73 627.71h.8v.8h-.8zM296.08 617.6h.8v.8h-.8zM295.18 629.27h.8v.8h-.8zM293.14 628.07h.8v.8h-.8zM293.3 632.23h.8v.8h-.8zM297.2 625.33h.8v.8h-.8zM290.87 626.24h.8v.8h-.8zM291.57 614.59h.8v.8h-.8zM297.44 615.97h.8v.8h-.8zM310.45 626.02h.8v.8h-.8zM294.27 625.5h.8v.8h-.8zM286.9 625.41h.8v.8h-.8zM289.49 623.76h.8v.8h-.8zM298.73 613.54h.8v.8h-.8zM283.77 629.52h.8v.8h-.8zM287.42 624.83h.8v.8h-.8zM278.93 617.45h.8v.8h-.8zM306.88 622.51h.8v.8h-.8zM291.05 623.25h.8v.8h-.8zM299.26 620.58h.8v.8h-.8zM300.22 631.86h.8v.8h-.8zM280.12 631.68h.8v.8h-.8zM304.95 628.16h.8v.8h-.8zM300.78 620.9h.8v.8h-.8zM304.9 627.67h.8v.8h-.8zM307.1 616.58h.8v.8h-.8zM305.49 620.28h.8v.8h-.8zM290.13 623.82h.8v.8h-.8zM290.25 633.7h.8v.8h-.8zM300.33 623.39h.8v.8h-.8zM291.99 623.3h.8v.8h-.8zM291.55 624.98h.8v.8h-.8zM303.65 626.26h.8v.8h-.8zM280.21 620.38h.8v.8h-.8zM295.04 615.9h.8v.8h-.8zM298.29 621.33h.8v.8h-.8zM294.74 623.97h.8v.8h-.8zM287.22 629.87h.8v.8h-.8zM305.57 619.29h.8v.8h-.8zM299.26 625.79h.8v.8h-.8zM285.65 620.26h.8v.8h-.8zM301.84 609.07h.8v.8h-.8zM281.15 616.04h.8v.8h-.8zM298.71 608.47h.8v.8h-.8zM300.86 627.42h.8v.8h-.8zM294.98 613.82h.8v.8h-.8zM293.73 607.95h.8v.8h-.8zM298.08 615.15h.8v.8h-.8zM299.83 622.67h.8v.8h-.8zM293.43 615.16h.8v.8h-.8zM296.05 624.56h.8v.8h-.8zM279.91 614.05h.8v.8h-.8zM287.42 614.83h.8v.8h-.8zM300.63 614.49h.8v.8h-.8zM299.76 615.2h.8v.8h-.8zM286.65 610.09h.8v.8h-.8zM280.59 615.42h.8v.8h-.8zM289.54 619.14h.8v.8h-.8zM301.85 608.73h.8v.8h-.8zM283.27 617.73h.8v.8h-.8zM285.16 615.33h.8v.8h-.8zM298.62 611.74h.8v.8h-.8zM309.21 609.39h.8v.8h-.8zM296.95 611.59h.8v.8h-.8zM291.67 617.57h.8v.8h-.8zM291.9 609.67h.8v.8h-.8zM288.44 612.24h.8v.8h-.8zM299.96 612.41h.8v.8h-.8zM304.26 619.23h.8v.8h-.8zM286.4 620.3h.8v.8h-.8zM284.25 613.48h.8v.8h-.8zM303.54 614.07h.8v.8h-.8zM291.59 621.78h.8v.8h-.8zM286.22 609.07h.8v.8h-.8zM301.92 617.77h.8v.8h-.8zM280.2 614.98h.8v.8h-.8zM300.17 613.09h.8v.8h-.8zM289.46 614.89h.8v.8h-.8zM295.03 609.83h.8v.8h-.8zM300.67 604.57h.8v.8h-.8zM292.43 626.95h.8v.8h-.8zM283.52 613.84h.8v.8h-.8zM282.69 614.44h.8v.8h-.8zM288.64 625.14h.8v.8h-.8zM284.76 613.9h.8v.8h-.8zM295.07 617.94h.8v.8h-.8zM301.19 604.65h.8v.8h-.8zM312.91 612.21h.8v.8h-.8zM286.62 604.16h.8v.8h-.8zM289.09 603.39h.8v.8h-.8zM294.77 610.46h.8v.8h-.8zM296.03 609.31h.8v.8h-.8zM293.75 627.46h.8v.8h-.8zM303.67 615.03h.8v.8h-.8zM284.19 622.86h.8v.8h-.8zM277.79 605.55h.8v.8h-.8zM304.79 610.45h.8v.8h-.8zM305.27 617.51h.8v.8h-.8zM312.74 624.8h.8v.8h-.8z"/>
</g>
<rect x="273.5" y="597" width="41.5" height="41.3" fill="none" stroke="#a8a8a8" stroke-width="0.6"/>
<line x1="272.6" x2="273.5" y1="599" y2="599" stroke="#888" stroke-width="0.5"/>
<line x1="272.6" x2="273.5" y1="606.9" y2="606.9" stroke="#888" stroke-width="0.5"/>
<line x1="272.6" x2="273.5" y1="614.8" y2="614.8" stroke="#888" stroke-width="0.5"/>
<line x1="272.6" x2="273.5" y1="622.7" y2="622.7" stroke="#888" stroke-width="0.5"/>
<line x1="272.6" x2="273.5" y1="630.6" y2="630.6" stroke="#888" stroke-width="0.5"/>
<path d="M289.7 637.7L295.5 601.6H314.1V637.7H289.7" fill="none" stroke="#777" stroke-width="0.6"/>
<text x="312.2" y="607.1" font-size="5.5" text-anchor="end" >50±21</text>
<line x1="277.65" x2="277.65" y1="638.3" y2="639.2" stroke="#888" stroke-width="0.5"/>
<line x1="283.46" x2="283.46" y1="638.3" y2="639.2" stroke="#888" stroke-width="0.5"/>
<line x1="289.69" x2="289.69" y1="638.3" y2="639.2" stroke="#888" stroke-width="0.5"/>
<line x1="300.89" x2="300.89" y1="638.3" y2="639.2" stroke="#888" stroke-width="0.5"/>
<line x1="310.85" x2="310.85" y1="638.3" y2="639.2" stroke="#888" stroke-width="0.5"/>
<text x="272.8" y="646.8" font-size="5.2">10<tspan dy="-1.9" font-size="3.2">-3</tspan></text>
<text x="281.6" y="646.8" font-size="5.2">0<tspan dy="-1.9" font-size="3.2"></tspan></text>
<text x="286" y="646.8" font-size="5.2">10<tspan dy="-1.9" font-size="3.2">3</tspan></text>
<text x="298" y="646.8" font-size="5.2">10<tspan dy="-1.9" font-size="3.2">4</tspan></text>
<text x="307.6" y="646.8" font-size="5.2">10<tspan dy="-1.9" font-size="3.2">5</tspan></text>
<clipPath id="fc5"><rect x="112.5" y="597.4" width="40.6" height="40.5"/></clipPath>
<g clip-path="url(#fc5)" fill-opacity="0.8">
<path d="M116.7 636.3C116.2 628 118 620 121.5 619.8C125 620 127 628 126.8 636.3Z" fill="#4a6fc0" fill-opacity="0.92"/>
<path fill="#4a6fc0" d="M123.86 622.63h.8v.8h-.8zM123.9 636.91h.8v.8h-.8zM121.71 606.74h.8v.8h-.8zM119.22 624.47h.8v.8h-.8zM120.76 624.59h.8v.8h-.8zM126.54 618.15h.8v.8h-.8zM123.15 613.11h.8v.8h-.8zM117.42 620.75h.8v.8h-.8zM117.65 631.34h.8v.8h-.8zM123.82 627.59h.8v.8h-.8zM121.98 622.16h.8v.8h-.8zM116.28 617.06h.8v.8h-.8zM119.02 619.08h.8v.8h-.8zM119.46 632.12h.8v.8h-.8zM123.66 636.34h.8v.8h-.8zM116.53 611.61h.8v.8h-.8zM124.38 623.94h.8v.8h-.8zM127.37 624.11h.8v.8h-.8zM129.05 624.18h.8v.8h-.8zM119.06 631.91h.8v.8h-.8zM115.5 625.86h.8v.8h-.8zM130.33 630.08h.8v.8h-.8zM115.7 625.25h.8v.8h-.8zM120.88 621.7h.8v.8h-.8zM122.98 635.76h.8v.8h-.8zM121.23 633.23h.8v.8h-.8zM122.42 627.98h.8v.8h-.8zM117.39 633.76h.8v.8h-.8zM127.51 623.84h.8v.8h-.8zM116.79 630.66h.8v.8h-.8zM121.5 634.9h.8v.8h-.8zM123.37 626.09h.8v.8h-.8zM114.34 631.35h.8v.8h-.8zM121.48 618.12h.8v.8h-.8zM113.84 614.19h.8v.8h-.8zM123.99 623.94h.8v.8h-.8zM117.94 626.21h.8v.8h-.8zM121.17 624.61h.8v.8h-.8zM124.56 634.18h.8v.8h-.8zM120.39 620.93h.8v.8h-.8zM121.74 616.95h.8v.8h-.8zM119.55 619.56h.8v.8h-.8zM118.92 628.37h.8v.8h-.8zM122.25 625.47h.8v.8h-.8zM124.43 629.39h.8v.8h-.8zM119.24 619.94h.8v.8h-.8zM124.51 632.3h.8v.8h-.8zM113.9 621.87h.8v.8h-.8zM115.3 632.8h.8v.8h-.8zM118.22 618.21h.8v.8h-.8zM128.24 630.17h.8v.8h-.8zM122.11 628.7h.8v.8h-.8zM120.13 627.21h.8v.8h-.8zM125.29 630.08h.8v.8h-.8zM118.78 627.65h.8v.8h-.8zM129.99 623.08h.8v.8h-.8zM114.63 627.78h.8v.8h-.8zM123.98 631.08h.8v.8h-.8zM116.07 626.6h.8v.8h-.8zM112.93 635.68h.8v.8h-.8zM119.64 619.63h.8v.8h-.8zM117.58 632.6h.8v.8h-.8zM117 628.77h.8v.8h-.8zM117.48 621.94h.8v.8h-.8zM115.78 629.21h.8v.8h-.8zM124.84 621.71h.8v.8h-.8zM129.33 625.18h.8v.8h-.8zM115.17 633.06h.8v.8h-.8zM120.77 621.14h.8v.8h-.8zM119.09 610.11h.8v.8h-.8zM117.02 618.36h.8v.8h-.8zM114.59 631.04h.8v.8h-.8zM116.88 636.26h.8v.8h-.8zM125.95 627.76h.8v.8h-.8zM121.38 621.6h.8v.8h-.8zM118.44 623.76h.8v.8h-.8zM126.91 630.4h.8v.8h-.8zM124.96 614.98h.8v.8h-.8zM116.03 632.9h.8v.8h-.8zM119.08 615.48h.8v.8h-.8zM120.87 617.8h.8v.8h-.8zM115.42 623.7h.8v.8h-.8zM123.59 626.69h.8v.8h-.8zM121.81 620.91h.8v.8h-.8zM119.28 610.03h.8v.8h-.8zM120.05 635.95h.8v.8h-.8zM115.48 625.55h.8v.8h-.8zM124.35 635.51h.8v.8h-.8zM126.55 620.59h.8v.8h-.8zM118.64 628.89h.8v.8h-.8zM116.8 622.2h.8v.8h-.8zM116.13 636.44h.8v.8h-.8zM124.61 629.7h.8v.8h-.8zM118.38 616.99h.8v.8h-.8zM123.22 620.97h.8v.8h-.8zM120.33 633.52h.8v.8h-.8zM119.97 626.64h.8v.8h-.8zM116.05 634.26h.8v.8h-.8zM123.47 631.86h.8v.8h-.8zM128.78 615.3h.8v.8h-.8zM121.01 631.38h.8v.8h-.8zM122.5 629h.8v.8h-.8zM123.15 615.96h.8v.8h-.8zM120.5 635.08h.8v.8h-.8zM120.61 625.43h.8v.8h-.8zM124.99 614.41h.8v.8h-.8zM119.64 620.97h.8v.8h-.8zM123.43 623.6h.8v.8h-.8zM116.89 627.99h.8v.8h-.8zM112.8 631.57h.8v.8h-.8zM115.05 622.92h.8v.8h-.8zM124.4 626.59h.8v.8h-.8zM122.14 636.59h.8v.8h-.8zM118.2 633.33h.8v.8h-.8zM112.83 632.5h.8v.8h-.8zM127.22 621.66h.8v.8h-.8zM123.13 632.77h.8v.8h-.8zM120.09 622.3h.8v.8h-.8zM128.21 617.46h.8v.8h-.8zM121.67 633.59h.8v.8h-.8zM128.08 630.15h.8v.8h-.8zM129.5 632.15h.8v.8h-.8zM114.88 624.51h.8v.8h-.8zM122.19 628.19h.8v.8h-.8zM113.27 618.8h.8v.8h-.8zM123.05 628.24h.8v.8h-.8zM128.35 628.42h.8v.8h-.8zM122.71 632h.8v.8h-.8zM117.31 617.64h.8v.8h-.8zM118.63 634.06h.8v.8h-.8zM119.5 635.72h.8v.8h-.8zM118.2 632.2h.8v.8h-.8zM121.03 632.82h.8v.8h-.8zM120.94 628.26h.8v.8h-.8zM118.62 635.71h.8v.8h-.8zM120.72 630.4h.8v.8h-.8zM124.06 620.51h.8v.8h-.8zM116.86 626.55h.8v.8h-.8zM136.35 626.64h.8v.8h-.8zM124.73 626.91h.8v.8h-.8zM127.91 626.59h.8v.8h-.8zM125.75 633.06h.8v.8h-.8zM124.38 630.88h.8v.8h-.8zM123.93 630.11h.8v.8h-.8zM132.54 622.8h.8v.8h-.8zM130.17 631.84h.8v.8h-.8zM129.6 631.97h.8v.8h-.8zM132 625.67h.8v.8h-.8zM129.28 633.54h.8v.8h-.8zM136.45 625.41h.8v.8h-.8zM126.89 625.39h.8v.8h-.8zM129.81 626.6h.8v.8h-.8zM124.93 634.05h.8v.8h-.8zM141.27 622.58h.8v.8h-.8zM138.24 627.21h.8v.8h-.8zM133.36 632.36h.8v.8h-.8zM136.16 630.09h.8v.8h-.8zM125.71 630.68h.8v.8h-.8zM133.9 627.32h.8v.8h-.8zM131.98 630.9h.8v.8h-.8zM130.82 630.97h.8v.8h-.8zM132.96 634.19h.8v.8h-.8zM128.45 629.51h.8v.8h-.8zM119.06 627.38h.8v.8h-.8zM122.21 633.67h.8v.8h-.8zM124.46 628.11h.8v.8h-.8zM132.59 634.96h.8v.8h-.8zM136.07 627.49h.8v.8h-.8zM131.13 635.26h.8v.8h-.8zM125.64 630.02h.8v.8h-.8zM123.76 628.35h.8v.8h-.8zM133.5 631.32h.8v.8h-.8zM128.08 628.69h.8v.8h-.8zM137.6 633.99h.8v.8h-.8zM127.84 630.33h.8v.8h-.8zM127.45 628.64h.8v.8h-.8zM133.16 625.1h.8v.8h-.8zM130.09 629.63h.8v.8h-.8zM138.74 632.53h.8v.8h-.8zM132.13 633.07h.8v.8h-.8zM132.94 631.45h.8v.8h-.8zM117.58 632.66h.8v.8h-.8zM128.32 633.79h.8v.8h-.8zM131.5 628.75h.8v.8h-.8zM125.43 626.85h.8v.8h-.8zM131.37 630.53h.8v.8h-.8zM125.47 629.48h.8v.8h-.8zM131.7 628.27h.8v.8h-.8zM129.3 628.5h.8v.8h-.8zM116.87 631.32h.8v.8h-.8zM130.26 634.23h.8v.8h-.8zM136.51 628.03h.8v.8h-.8zM132.94 632.03h.8v.8h-.8zM130.33 634.3h.8v.8h-.8zM134.35 625.85h.8v.8h-.8zM137.38 630.24h.8v.8h-.8zM126.59 628.17h.8v.8h-.8zM123.58 606.01h.8v.8h-.8zM131.51 616.95h.8v.8h-.8zM119.49 619.73h.8v.8h-.8zM126.36 614.5h.8v.8h-.8zM130.75 613.28h.8v.8h-.8zM123.36 617.48h.8v.8h-.8zM113.87 605.47h.8v.8h-.8zM127.99 621.47h.8v.8h-.8zM114.78 614.02h.8v.8h-.8zM120.93 611.94h.8v.8h-.8zM128.57 624.44h.8v.8h-.8zM135.58 620.6h.8v.8h-.8zM128.8 614.95h.8v.8h-.8zM113.67 616.71h.8v.8h-.8zM117.74 606.09h.8v.8h-.8zM125.66 602.82h.8v.8h-.8zM135.62 618.17h.8v.8h-.8zM127.14 617.34h.8v.8h-.8zM126.4 614.39h.8v.8h-.8zM129.21 609.21h.8v.8h-.8z"/>
</g>
<rect x="112.1" y="597" width="41.4" height="41.3" fill="none" stroke="#a8a8a8" stroke-width="0.6"/>
<line x1="111.2" x2="112.1" y1="599" y2="599" stroke="#888" stroke-width="0.5"/>
<line x1="111.2" x2="112.1" y1="606.9" y2="606.9" stroke="#888" stroke-width="0.5"/>
<line x1="111.2" x2="112.1" y1="614.8" y2="614.8" stroke="#888" stroke-width="0.5"/>
<line x1="111.2" x2="112.1" y1="622.7" y2="622.7" stroke="#888" stroke-width="0.5"/>
<line x1="111.2" x2="112.1" y1="630.6" y2="630.6" stroke="#888" stroke-width="0.5"/>
<path d="M126.3 637.7L130.2 601.6H152.6V637.7H126.3" fill="none" stroke="#777" stroke-width="0.6"/>
<text x="149.9" y="607.1" font-size="5.5" text-anchor="end" >13±9.1</text>
<line x1="116.24" x2="116.24" y1="638.3" y2="639.2" stroke="#888" stroke-width="0.5"/>
<line x1="122.04" x2="122.04" y1="638.3" y2="639.2" stroke="#888" stroke-width="0.5"/>
<line x1="128.25" x2="128.25" y1="638.3" y2="639.2" stroke="#888" stroke-width="0.5"/>
<line x1="139.42" x2="139.42" y1="638.3" y2="639.2" stroke="#888" stroke-width="0.5"/>
<line x1="149.36" x2="149.36" y1="638.3" y2="639.2" stroke="#888" stroke-width="0.5"/>
<text x="111.5" y="646.8" font-size="5.2">10<tspan dy="-1.9" font-size="3.2">-3</tspan></text>
<text x="120.4" y="646.8" font-size="5.2">0<tspan dy="-1.9" font-size="3.2"></tspan></text>
<text x="123.6" y="646.8" font-size="5.2">10<tspan dy="-1.9" font-size="3.2">3</tspan></text>
<text x="136.2" y="646.8" font-size="5.2">10<tspan dy="-1.9" font-size="3.2">4</tspan></text>
<text x="145.8" y="646.8" font-size="5.2">10<tspan dy="-1.9" font-size="3.2">5</tspan></text>
<clipPath id="fc6"><rect x="320.5" y="597.4" width="40.9" height="40.5"/></clipPath>
<g clip-path="url(#fc6)" fill-opacity="0.8">
<path d="M327 636.3C326.5 628 328.5 622 334 621.8C341 622 345.5 628 346.8 636.3Z" fill="#4a6fc0" fill-opacity="0.92"/>
<path fill="#4a6fc0" d="M337.85 624.96h.8v.8h-.8zM341.41 617.31h.8v.8h-.8zM337.67 623.17h.8v.8h-.8zM340.37 627.2h.8v.8h-.8zM337.24 626.73h.8v.8h-.8zM339.06 632.17h.8v.8h-.8zM338.09 627.17h.8v.8h-.8zM329.38 622.71h.8v.8h-.8zM341.35 630.28h.8v.8h-.8zM329.07 623.7h.8v.8h-.8zM334.03 624.27h.8v.8h-.8zM332.56 621.4h.8v.8h-.8zM335.51 624.7h.8v.8h-.8zM343.09 618.82h.8v.8h-.8zM329.19 628.7h.8v.8h-.8zM339.46 622.82h.8v.8h-.8zM327.83 630.3h.8v.8h-.8zM328.39 630.77h.8v.8h-.8zM337.7 623.06h.8v.8h-.8zM334.75 628.88h.8v.8h-.8zM336.02 613.49h.8v.8h-.8zM331.03 611.03h.8v.8h-.8zM338.75 629.52h.8v.8h-.8zM343.18 615.84h.8v.8h-.8zM350.85 634.9h.8v.8h-.8zM335.16 611.99h.8v.8h-.8zM329.82 630.24h.8v.8h-.8zM350.46 620.71h.8v.8h-.8zM322.99 618.13h.8v.8h-.8zM349.38 623.93h.8v.8h-.8zM326.08 611.35h.8v.8h-.8zM340.41 628.79h.8v.8h-.8zM332.58 622.75h.8v.8h-.8zM336.48 621.89h.8v.8h-.8zM332.09 620.48h.8v.8h-.8zM331.77 631.35h.8v.8h-.8zM338.74 630.1h.8v.8h-.8zM348.85 610.2h.8v.8h-.8zM335.47 629.71h.8v.8h-.8zM334.43 620.35h.8v.8h-.8zM338.72 620.76h.8v.8h-.8zM330.03 622.09h.8v.8h-.8zM336.32 624h.8v.8h-.8zM342.24 624.07h.8v.8h-.8zM334.33 622.32h.8v.8h-.8zM334.92 619.73h.8v.8h-.8zM324.87 625.11h.8v.8h-.8zM346.18 613h.8v.8h-.8zM330.62 626.5h.8v.8h-.8zM331.15 627.12h.8v.8h-.8zM335.59 617.32h.8v.8h-.8zM334.42 620.83h.8v.8h-.8zM339.74 608.68h.8v.8h-.8zM338.82 631.95h.8v.8h-.8zM336.99 625.37h.8v.8h-.8zM332.18 625.96h.8v.8h-.8zM334.9 616.24h.8v.8h-.8zM327.61 610h.8v.8h-.8zM338.97 624.98h.8v.8h-.8zM343.57 625.48h.8v.8h-.8zM340.79 615.87h.8v.8h-.8zM322.83 620.5h.8v.8h-.8zM333.62 626.11h.8v.8h-.8zM335 622.94h.8v.8h-.8zM336.22 625.46h.8v.8h-.8zM337.34 625.85h.8v.8h-.8zM332.41 623.38h.8v.8h-.8zM325.61 617.23h.8v.8h-.8zM334.02 626.52h.8v.8h-.8zM330.63 615.47h.8v.8h-.8zM342.64 618.92h.8v.8h-.8zM323.86 618.1h.8v.8h-.8zM327.61 609.39h.8v.8h-.8zM333.22 634.08h.8v.8h-.8zM330.72 619h.8v.8h-.8zM343.95 624.46h.8v.8h-.8zM335.2 632.11h.8v.8h-.8zM327.65 623.57h.8v.8h-.8zM339.47 625.15h.8v.8h-.8zM327.71 618.35h.8v.8h-.8zM348.4 623.37h.8v.8h-.8zM334.08 630.41h.8v.8h-.8zM323.37 623.61h.8v.8h-.8zM323.58 632.31h.8v.8h-.8zM328.98 624.61h.8v.8h-.8zM329.47 624.72h.8v.8h-.8zM338.16 624h.8v.8h-.8zM333.7 625.44h.8v.8h-.8zM334.25 620.92h.8v.8h-.8zM340.35 629.07h.8v.8h-.8zM326.47 617.9h.8v.8h-.8zM330.5 625.71h.8v.8h-.8zM326.11 633.27h.8v.8h-.8zM336.24 624.88h.8v.8h-.8zM342.06 619.47h.8v.8h-.8zM338.55 626.4h.8v.8h-.8zM344.99 617.66h.8v.8h-.8zM345.65 627.54h.8v.8h-.8zM337.71 630.35h.8v.8h-.8zM334.21 622.81h.8v.8h-.8zM341.81 621.86h.8v.8h-.8zM343.53 632.21h.8v.8h-.8zM337.49 625.05h.8v.8h-.8zM331.44 618.48h.8v.8h-.8zM346.04 617.79h.8v.8h-.8zM336.57 625.76h.8v.8h-.8zM329.72 619.91h.8v.8h-.8zM331.07 636.7h.8v.8h-.8zM338.59 632.32h.8v.8h-.8zM350.21 630.06h.8v.8h-.8zM345.21 621.37h.8v.8h-.8zM331.19 632.7h.8v.8h-.8zM346.24 617.91h.8v.8h-.8zM344.02 625.8h.8v.8h-.8zM341.61 629.81h.8v.8h-.8zM349.32 620.29h.8v.8h-.8zM336.07 631.6h.8v.8h-.8zM334.25 627.32h.8v.8h-.8zM335.54 613.88h.8v.8h-.8zM332.21 629.36h.8v.8h-.8zM332.27 614.87h.8v.8h-.8zM332.58 624.68h.8v.8h-.8zM339.52 626.07h.8v.8h-.8zM339.78 617.77h.8v.8h-.8zM331.9 619.5h.8v.8h-.8zM333.04 626.74h.8v.8h-.8zM345.43 622.7h.8v.8h-.8zM343.53 630.76h.8v.8h-.8zM328.12 619.23h.8v.8h-.8zM337.2 615.85h.8v.8h-.8zM349.21 612.89h.8v.8h-.8zM327.57 628.8h.8v.8h-.8zM330.93 628.38h.8v.8h-.8zM329.26 630.46h.8v.8h-.8zM332.08 628.47h.8v.8h-.8zM343.17 615.17h.8v.8h-.8zM329.97 613.66h.8v.8h-.8zM328.42 629.65h.8v.8h-.8zM335.95 629.22h.8v.8h-.8zM346.11 630.35h.8v.8h-.8zM341.23 621.58h.8v.8h-.8zM333.48 626.07h.8v.8h-.8zM342.26 630.67h.8v.8h-.8zM338.28 622.42h.8v.8h-.8zM335.66 634.12h.8v.8h-.8zM338.17 636.16h.8v.8h-.8zM331.23 629.43h.8v.8h-.8zM337.74 628.75h.8v.8h-.8zM330.97 626.21h.8v.8h-.8zM335.77 622.53h.8v.8h-.8zM327.89 615.73h.8v.8h-.8zM333.9 627.47h.8v.8h-.8zM338.05 625.65h.8v.8h-.8zM338.49 616.13h.8v.8h-.8zM343.66 624.63h.8v.8h-.8zM331 620.94h.8v.8h-.8zM343.14 625.36h.8v.8h-.8zM324.64 636.78h.8v.8h-.8zM325.93 634.47h.8v.8h-.8zM342.18 618.22h.8v.8h-.8zM344.93 631.75h.8v.8h-.8zM343.54 628.11h.8v.8h-.8zM338.53 625.52h.8v.8h-.8zM332.55 625.86h.8v.8h-.8zM345.18 623.6h.8v.8h-.8zM349.99 614.95h.8v.8h-.8zM336.5 615.37h.8v.8h-.8zM324.03 625.76h.8v.8h-.8zM334.01 620.92h.8v.8h-.8zM328.9 622.84h.8v.8h-.8zM324.99 623.08h.8v.8h-.8zM332.6 616.77h.8v.8h-.8zM339.16 613.13h.8v.8h-.8zM339.28 625.84h.8v.8h-.8zM339.96 625.04h.8v.8h-.8zM341.83 622.68h.8v.8h-.8zM328.73 626.51h.8v.8h-.8zM330.79 622.09h.8v.8h-.8zM337.13 618.7h.8v.8h-.8zM343.14 615.07h.8v.8h-.8zM344.82 624.05h.8v.8h-.8zM348.11 630.88h.8v.8h-.8zM341 626h.8v.8h-.8zM337.1 616.03h.8v.8h-.8zM332.4 618.63h.8v.8h-.8zM331.32 623.48h.8v.8h-.8zM330.75 625.08h.8v.8h-.8zM334.5 621.46h.8v.8h-.8zM339.02 627.03h.8v.8h-.8zM326.96 622.37h.8v.8h-.8zM356.65 624.33h.8v.8h-.8zM339.5 618.96h.8v.8h-.8zM343.09 633.43h.8v.8h-.8zM340.34 623.46h.8v.8h-.8zM336.49 612.93h.8v.8h-.8zM340.42 622.42h.8v.8h-.8zM339.05 626.47h.8v.8h-.8zM337.77 636.79h.8v.8h-.8zM342.7 620.35h.8v.8h-.8zM353.24 632.68h.8v.8h-.8zM350.4 635.77h.8v.8h-.8zM348.38 623.2h.8v.8h-.8zM344.9 631.7h.8v.8h-.8zM345.29 630.77h.8v.8h-.8zM342.7 631.69h.8v.8h-.8zM348.93 626.55h.8v.8h-.8zM347.44 629.09h.8v.8h-.8zM354.75 631.11h.8v.8h-.8zM349.19 630.8h.8v.8h-.8zM354.62 632.02h.8v.8h-.8zM358.91 627.29h.8v.8h-.8zM354.29 630.66h.8v.8h-.8zM347.07 632.54h.8v.8h-.8zM354.35 634.05h.8v.8h-.8zM352.6 626.68h.8v.8h-.8zM351.05 631.69h.8v.8h-.8zM358.47 630.65h.8v.8h-.8zM350.97 636.37h.8v.8h-.8zM350.53 628.38h.8v.8h-.8zM351.63 633.23h.8v.8h-.8zM350.97 623.51h.8v.8h-.8zM348.21 634.15h.8v.8h-.8zM346.54 633.57h.8v.8h-.8zM351.05 627h.8v.8h-.8zM354.17 621.65h.8v.8h-.8zM339.82 624h.8v.8h-.8zM352.83 629.07h.8v.8h-.8zM353.34 629.86h.8v.8h-.8zM350.86 628.09h.8v.8h-.8zM348.24 634.09h.8v.8h-.8zM354.02 624.88h.8v.8h-.8zM353.96 626.42h.8v.8h-.8zM353.9 631.03h.8v.8h-.8zM348.63 634.02h.8v.8h-.8zM356.29 628.1h.8v.8h-.8zM350.81 628.61h.8v.8h-.8zM350.23 636.48h.8v.8h-.8zM348.07 632.42h.8v.8h-.8zM351.49 630.5h.8v.8h-.8zM344.64 632.63h.8v.8h-.8zM344.78 633.04h.8v.8h-.8zM349.77 630.71h.8v.8h-.8zM347.93 626.78h.8v.8h-.8zM345.14 630.21h.8v.8h-.8zM349.8 631.29h.8v.8h-.8zM348.79 633.22h.8v.8h-.8zM350.92 630.65h.8v.8h-.8zM349.01 630.1h.8v.8h-.8zM353.42 627.39h.8v.8h-.8zM344.27 631.69h.8v.8h-.8zM352.29 630.28h.8v.8h-.8zM351.4 625.02h.8v.8h-.8zM345.41 630.16h.8v.8h-.8zM350.05 625.27h.8v.8h-.8zM352.5 622.67h.8v.8h-.8zM356.32 626.02h.8v.8h-.8zM347.44 626.05h.8v.8h-.8zM343.57 628.9h.8v.8h-.8zM340.87 628.83h.8v.8h-.8zM351.03 628.98h.8v.8h-.8zM350.09 624.46h.8v.8h-.8zM341.09 624.93h.8v.8h-.8zM355.4 631.39h.8v.8h-.8zM341.37 636.87h.8v.8h-.8zM353.29 634.42h.8v.8h-.8zM355.16 635.28h.8v.8h-.8zM341.87 630.45h.8v.8h-.8zM353.56 630.13h.8v.8h-.8zM348.93 621.83h.8v.8h-.8zM350.68 626.84h.8v.8h-.8zM356.87 633.06h.8v.8h-.8zM349.79 628.6h.8v.8h-.8zM355.62 628.05h.8v.8h-.8zM355.59 630.96h.8v.8h-.8zM348.77 631.6h.8v.8h-.8zM358.78 623.84h.8v.8h-.8zM353.86 633.05h.8v.8h-.8zM348.91 635.91h.8v.8h-.8zM353.47 632.29h.8v.8h-.8zM345.22 632.42h.8v.8h-.8zM343.82 632.13h.8v.8h-.8zM360.77 626.6h.8v.8h-.8zM357.85 625.87h.8v.8h-.8zM350.51 632.97h.8v.8h-.8zM343.05 631.44h.8v.8h-.8zM346.36 627.7h.8v.8h-.8zM354.32 629.82h.8v.8h-.8zM338.03 612.32h.8v.8h-.8zM337.86 621.41h.8v.8h-.8zM336.1 610.53h.8v.8h-.8zM335.43 616.46h.8v.8h-.8zM338.4 599.53h.8v.8h-.8zM334.73 614.78h.8v.8h-.8zM353.26 608.69h.8v.8h-.8zM333.35 605.36h.8v.8h-.8zM334.76 601.76h.8v.8h-.8zM329.44 611.72h.8v.8h-.8zM324.81 610.61h.8v.8h-.8zM330.5 619.65h.8v.8h-.8zM346.25 624.71h.8v.8h-.8zM336.2 616.17h.8v.8h-.8zM351.61 608.37h.8v.8h-.8zM346.97 606.79h.8v.8h-.8zM342.54 602.94h.8v.8h-.8zM332.49 611.04h.8v.8h-.8zM333.48 600.67h.8v.8h-.8zM336.09 610.48h.8v.8h-.8zM345.51 615.65h.8v.8h-.8zM342.61 611.62h.8v.8h-.8zM330.33 604.08h.8v.8h-.8zM332.68 606.61h.8v.8h-.8zM333.32 610.27h.8v.8h-.8zM344.08 606.35h.8v.8h-.8zM337.53 605.68h.8v.8h-.8zM337.13 618.31h.8v.8h-.8zM331.27 605.15h.8v.8h-.8zM335.47 612.33h.8v.8h-.8zM330.8 614.69h.8v.8h-.8zM335.72 616.2h.8v.8h-.8zM325.69 616.67h.8v.8h-.8zM343.99 607.31h.8v.8h-.8zM348.96 613.57h.8v.8h-.8zM326.2 605.85h.8v.8h-.8zM330.05 608.32h.8v.8h-.8zM333.57 613.96h.8v.8h-.8zM333.8 610.29h.8v.8h-.8z"/>
</g>
<rect x="320.1" y="597" width="41.7" height="41.3" fill="none" stroke="#a8a8a8" stroke-width="0.6"/>
<line x1="319.2" x2="320.1" y1="599" y2="599" stroke="#888" stroke-width="0.5"/>
<line x1="319.2" x2="320.1" y1="606.9" y2="606.9" stroke="#888" stroke-width="0.5"/>
<line x1="319.2" x2="320.1" y1="614.8" y2="614.8" stroke="#888" stroke-width="0.5"/>
<line x1="319.2" x2="320.1" y1="622.7" y2="622.7" stroke="#888" stroke-width="0.5"/>
<line x1="319.2" x2="320.1" y1="630.6" y2="630.6" stroke="#888" stroke-width="0.5"/>
<path d="M336.8 637.7L342 601.6H360.9V637.7H336.8" fill="none" stroke="#777" stroke-width="0.6"/>
<text x="360.2" y="607.1" font-size="5.5" text-anchor="end" >23±9.9</text>
<line x1="324.27" x2="324.27" y1="638.3" y2="639.2" stroke="#888" stroke-width="0.5"/>
<line x1="330.11" x2="330.11" y1="638.3" y2="639.2" stroke="#888" stroke-width="0.5"/>
<line x1="336.36" x2="336.36" y1="638.3" y2="639.2" stroke="#888" stroke-width="0.5"/>
<line x1="347.62" x2="347.62" y1="638.3" y2="639.2" stroke="#888" stroke-width="0.5"/>
<line x1="357.63" x2="357.63" y1="638.3" y2="639.2" stroke="#888" stroke-width="0.5"/>
<text x="319.4" y="646.8" font-size="5.2">10<tspan dy="-1.9" font-size="3.2">-3</tspan></text>
<text x="328.2" y="646.8" font-size="5.2">0<tspan dy="-1.9" font-size="3.2"></tspan></text>
<text x="332.6" y="646.8" font-size="5.2">10<tspan dy="-1.9" font-size="3.2">3</tspan></text>
<text x="344.6" y="646.8" font-size="5.2">10<tspan dy="-1.9" font-size="3.2">4</tspan></text>
<text x="354.2" y="646.8" font-size="5.2">10<tspan dy="-1.9" font-size="3.2">5</tspan></text>
<clipPath id="fc7"><rect x="158.4" y="597.4" width="40.7" height="40.5"/></clipPath>
<g clip-path="url(#fc7)" fill-opacity="0.8">
<path d="M164.6 636.3C164.3 627 165.5 618 168.7 617C172 618 173.1 627 172.8 636.3Z" fill="#e08a1b" fill-opacity="0.92"/>
<path d="M166 619C166 611 167 606 168.6 605.5C170.2 606 171.4 611 171.4 619Z" fill="#e08a1b" fill-opacity="0.47"/>
<path fill="#e08a1b" d="M164.68 602.03h.8v.8h-.8zM165.58 609.31h.8v.8h-.8zM171.26 598.7h.8v.8h-.8zM167.4 620.39h.8v.8h-.8zM164.13 611.55h.8v.8h-.8zM171.23 610.61h.8v.8h-.8zM167.77 620.66h.8v.8h-.8zM170.45 608.98h.8v.8h-.8zM172.81 618.89h.8v.8h-.8zM171.73 607.63h.8v.8h-.8zM172 619.42h.8v.8h-.8zM170.89 614.55h.8v.8h-.8zM171.19 620.56h.8v.8h-.8zM165.72 624.43h.8v.8h-.8zM167.41 616.21h.8v.8h-.8zM166.77 628.48h.8v.8h-.8zM171.45 628.56h.8v.8h-.8zM162.26 627.54h.8v.8h-.8zM169.48 630.43h.8v.8h-.8zM168.09 621.51h.8v.8h-.8zM166.92 630.07h.8v.8h-.8zM165.2 618.94h.8v.8h-.8zM166.71 619.28h.8v.8h-.8zM166.28 625.98h.8v.8h-.8zM170.47 605.86h.8v.8h-.8zM166.53 608.47h.8v.8h-.8zM171.95 608.99h.8v.8h-.8zM169.79 621.62h.8v.8h-.8zM167.91 602.77h.8v.8h-.8zM174.21 618.96h.8v.8h-.8zM170.55 629.75h.8v.8h-.8zM164.52 611.37h.8v.8h-.8zM165.16 619.54h.8v.8h-.8zM171.52 618.94h.8v.8h-.8zM172.85 625.7h.8v.8h-.8zM167.85 626.3h.8v.8h-.8zM166.4 631.64h.8v.8h-.8zM165.74 632.04h.8v.8h-.8zM177.13 604.55h.8v.8h-.8zM174.22 606.96h.8v.8h-.8zM167.87 636.77h.8v.8h-.8zM172.02 626.35h.8v.8h-.8zM169.46 621.88h.8v.8h-.8zM169.78 618.52h.8v.8h-.8zM167.1 609.22h.8v.8h-.8zM174.39 620.12h.8v.8h-.8zM174.97 626.99h.8v.8h-.8zM169.76 610.42h.8v.8h-.8zM167.19 620.71h.8v.8h-.8zM167.69 617.58h.8v.8h-.8zM159.91 616.65h.8v.8h-.8zM167.22 615.97h.8v.8h-.8zM166.99 606.23h.8v.8h-.8zM165.04 633.59h.8v.8h-.8zM164.73 615.58h.8v.8h-.8zM165.15 618.83h.8v.8h-.8zM164.38 632.53h.8v.8h-.8zM166.43 624.34h.8v.8h-.8zM177.26 620.2h.8v.8h-.8zM166.9 618.29h.8v.8h-.8zM168.59 622.45h.8v.8h-.8zM164.18 611.86h.8v.8h-.8zM170.9 617.92h.8v.8h-.8zM168.27 626.33h.8v.8h-.8zM168.52 621.73h.8v.8h-.8zM164.25 620.37h.8v.8h-.8zM162.02 636.31h.8v.8h-.8zM165.37 635.53h.8v.8h-.8zM166.36 619.15h.8v.8h-.8zM172.85 622.28h.8v.8h-.8zM168.81 617.95h.8v.8h-.8zM167.22 613.75h.8v.8h-.8zM165.38 604.28h.8v.8h-.8zM167.61 613.33h.8v.8h-.8zM175.04 609.69h.8v.8h-.8zM166.87 619.25h.8v.8h-.8zM162.64 634.5h.8v.8h-.8zM170.75 623.08h.8v.8h-.8zM175.16 624.87h.8v.8h-.8zM167.1 622.97h.8v.8h-.8zM166.5 624.77h.8v.8h-.8zM163.45 625.06h.8v.8h-.8zM167.11 616.61h.8v.8h-.8zM166.8 619.34h.8v.8h-.8zM161.9 625.87h.8v.8h-.8zM167.48 636.68h.8v.8h-.8zM168.13 628.99h.8v.8h-.8zM168.08 619.26h.8v.8h-.8zM163.79 616.28h.8v.8h-.8zM166.08 598.65h.8v.8h-.8zM167.12 613.98h.8v.8h-.8zM169.3 629.8h.8v.8h-.8zM167.1 631.2h.8v.8h-.8zM172.68 627.39h.8v.8h-.8zM167 621.44h.8v.8h-.8zM174.12 634.47h.8v.8h-.8zM172.33 604.91h.8v.8h-.8zM160.01 636.58h.8v.8h-.8zM170.79 632.69h.8v.8h-.8zM170.3 617.8h.8v.8h-.8zM169.87 620.12h.8v.8h-.8zM173.62 628.14h.8v.8h-.8zM164.78 613.67h.8v.8h-.8zM171.88 628.51h.8v.8h-.8zM169.26 623.65h.8v.8h-.8zM163.7 612.81h.8v.8h-.8zM170.12 604h.8v.8h-.8zM170 625.82h.8v.8h-.8zM170.59 628.22h.8v.8h-.8zM175.13 623.21h.8v.8h-.8zM165.28 605.12h.8v.8h-.8zM160.08 621.45h.8v.8h-.8zM171.44 605.43h.8v.8h-.8zM168.86 614.1h.8v.8h-.8zM167.31 622.53h.8v.8h-.8zM168.37 609.85h.8v.8h-.8zM170.97 619.36h.8v.8h-.8zM161.44 627.57h.8v.8h-.8zM173.94 617.06h.8v.8h-.8zM174.04 606.26h.8v.8h-.8zM167.32 632.35h.8v.8h-.8zM172.98 625.26h.8v.8h-.8zM172.09 616.86h.8v.8h-.8zM170.85 629.26h.8v.8h-.8zM171.67 624h.8v.8h-.8zM171.28 624.51h.8v.8h-.8zM170.44 606.56h.8v.8h-.8zM170.41 612.08h.8v.8h-.8zM166.87 621.1h.8v.8h-.8zM169.14 608.66h.8v.8h-.8zM166.31 622.76h.8v.8h-.8zM166.75 620.84h.8v.8h-.8zM169.07 622.5h.8v.8h-.8zM166.26 622.22h.8v.8h-.8zM170.31 609.08h.8v.8h-.8zM171.06 611.52h.8v.8h-.8zM169.56 626.1h.8v.8h-.8zM170.55 609.91h.8v.8h-.8zM164.91 609.88h.8v.8h-.8zM170.29 621.79h.8v.8h-.8zM161.69 627.24h.8v.8h-.8zM172.51 615.81h.8v.8h-.8zM181.87 631.23h.8v.8h-.8zM175.3 628.52h.8v.8h-.8zM186.32 628.85h.8v.8h-.8zM182.35 630.69h.8v.8h-.8zM194.5 631.3h.8v.8h-.8zM184.79 628.33h.8v.8h-.8zM191.13 630.51h.8v.8h-.8zM182.21 635.52h.8v.8h-.8zM191.87 626.51h.8v.8h-.8zM180.21 635.37h.8v.8h-.8zM179.09 636.55h.8v.8h-.8zM175.57 622.4h.8v.8h-.8zM177.31 628.48h.8v.8h-.8zM178.36 627.25h.8v.8h-.8zM183.51 630.74h.8v.8h-.8zM177.99 628.1h.8v.8h-.8zM191.8 634.07h.8v.8h-.8zM189.37 635.22h.8v.8h-.8zM181.04 633.76h.8v.8h-.8zM193.98 626.91h.8v.8h-.8zM191.95 620.34h.8v.8h-.8zM168.97 624.33h.8v.8h-.8zM175.36 626.32h.8v.8h-.8zM178.94 633.49h.8v.8h-.8zM177.22 628.72h.8v.8h-.8zM173.22 623.78h.8v.8h-.8zM181.07 627.19h.8v.8h-.8zM188.59 630.66h.8v.8h-.8zM169.59 633.12h.8v.8h-.8zM173.91 628.59h.8v.8h-.8zM175.01 626.87h.8v.8h-.8zM178.1 625.4h.8v.8h-.8zM177.14 629.05h.8v.8h-.8zM187.38 633.02h.8v.8h-.8zM194.83 623.67h.8v.8h-.8zM179.55 635.04h.8v.8h-.8zM174.35 629.49h.8v.8h-.8zM187.38 636.35h.8v.8h-.8zM186.33 631.47h.8v.8h-.8zM181.16 632.65h.8v.8h-.8zM182.99 631.53h.8v.8h-.8zM177.75 629.64h.8v.8h-.8zM176.08 625.77h.8v.8h-.8zM176.32 626.77h.8v.8h-.8zM177.54 627.83h.8v.8h-.8zM171.58 631.37h.8v.8h-.8zM184.46 636.35h.8v.8h-.8zM165.69 624.45h.8v.8h-.8zM175.42 626.63h.8v.8h-.8zM182.66 626.72h.8v.8h-.8zM176.81 633.06h.8v.8h-.8zM180.92 623.65h.8v.8h-.8zM190.14 629.47h.8v.8h-.8zM191.75 629.84h.8v.8h-.8zM179.77 631.13h.8v.8h-.8zM191.31 630.58h.8v.8h-.8zM180.1 624.57h.8v.8h-.8zM183.53 625.81h.8v.8h-.8zM181.52 624.56h.8v.8h-.8zM176.13 626.23h.8v.8h-.8zM177.54 625.55h.8v.8h-.8zM190.84 633.23h.8v.8h-.8zM179.88 625.95h.8v.8h-.8zM189.87 629.14h.8v.8h-.8zM186.2 634.14h.8v.8h-.8zM179.36 631.87h.8v.8h-.8zM185.34 628.39h.8v.8h-.8zM181 627.63h.8v.8h-.8zM193.76 634.19h.8v.8h-.8zM188.41 627.63h.8v.8h-.8zM176.96 626.62h.8v.8h-.8zM185.39 633.21h.8v.8h-.8zM168.82 632.92h.8v.8h-.8zM188.57 633.27h.8v.8h-.8zM173.26 630.91h.8v.8h-.8zM184.49 624.78h.8v.8h-.8zM177.47 628.15h.8v.8h-.8zM168.55 627.64h.8v.8h-.8zM191.69 631.66h.8v.8h-.8zM176.25 630.26h.8v.8h-.8zM184.74 632.45h.8v.8h-.8zM175.23 631.6h.8v.8h-.8zM177.53 628.11h.8v.8h-.8zM176.22 626.9h.8v.8h-.8zM185.57 623.07h.8v.8h-.8zM175.94 628.96h.8v.8h-.8zM181.68 636.32h.8v.8h-.8zM172.21 632.35h.8v.8h-.8zM175.44 631.53h.8v.8h-.8zM174.48 627.72h.8v.8h-.8zM173.43 628.48h.8v.8h-.8zM192.97 627.96h.8v.8h-.8zM184.29 630.13h.8v.8h-.8zM184.34 627.08h.8v.8h-.8zM186.28 630.46h.8v.8h-.8zM168.52 630.23h.8v.8h-.8zM186.18 630.3h.8v.8h-.8zM184.31 630.11h.8v.8h-.8zM178.76 634.26h.8v.8h-.8zM191.92 628.87h.8v.8h-.8zM187.72 625.77h.8v.8h-.8zM190.85 626.81h.8v.8h-.8zM182.43 633.85h.8v.8h-.8zM178.65 630.25h.8v.8h-.8zM189.14 627.89h.8v.8h-.8zM184.5 634.43h.8v.8h-.8zM183.9 626.99h.8v.8h-.8zM179.39 629.08h.8v.8h-.8zM182.24 632.57h.8v.8h-.8zM171.33 629.79h.8v.8h-.8zM183.52 636.05h.8v.8h-.8zM171.99 626.57h.8v.8h-.8zM188.3 629.9h.8v.8h-.8zM189.71 629.9h.8v.8h-.8zM177.63 629.85h.8v.8h-.8zM190.68 632.93h.8v.8h-.8zM183.49 630.64h.8v.8h-.8zM189.56 632.52h.8v.8h-.8zM183.82 632.95h.8v.8h-.8zM182.82 625.68h.8v.8h-.8zM176.54 617.23h.8v.8h-.8zM178.97 609.73h.8v.8h-.8zM166.15 612.52h.8v.8h-.8zM169.21 599.05h.8v.8h-.8zM172.84 605.58h.8v.8h-.8zM172.44 607.24h.8v.8h-.8zM176.12 615.15h.8v.8h-.8zM174.56 617.06h.8v.8h-.8zM169.46 624.05h.8v.8h-.8zM163.6 614.49h.8v.8h-.8zM177.16 607.76h.8v.8h-.8zM172.68 603.06h.8v.8h-.8zM169.92 611.83h.8v.8h-.8zM165.87 598.63h.8v.8h-.8zM170.34 605.16h.8v.8h-.8zM167.36 609.11h.8v.8h-.8zM165.32 616.52h.8v.8h-.8zM177.73 610.29h.8v.8h-.8zM169.19 609.75h.8v.8h-.8zM171.57 605.44h.8v.8h-.8zM168.9 612.58h.8v.8h-.8zM167.66 606.34h.8v.8h-.8zM169.87 604.22h.8v.8h-.8zM173.33 602.57h.8v.8h-.8zM176.6 614.28h.8v.8h-.8z"/>
</g>
<rect x="158" y="597" width="41.5" height="41.3" fill="none" stroke="#a8a8a8" stroke-width="0.6"/>
<line x1="157.1" x2="158" y1="599" y2="599" stroke="#888" stroke-width="0.5"/>
<line x1="157.1" x2="158" y1="606.9" y2="606.9" stroke="#888" stroke-width="0.5"/>
<line x1="157.1" x2="158" y1="614.8" y2="614.8" stroke="#888" stroke-width="0.5"/>
<line x1="157.1" x2="158" y1="622.7" y2="622.7" stroke="#888" stroke-width="0.5"/>
<line x1="157.1" x2="158" y1="630.6" y2="630.6" stroke="#888" stroke-width="0.5"/>
<path d="M172.8 637.7L176.3 601.6H198.6V637.7H172.8" fill="none" stroke="#777" stroke-width="0.6"/>
<text x="197.3" y="607.1" font-size="5.5" text-anchor="end" >5.3±3.5</text>
<line x1="162.15" x2="162.15" y1="638.3" y2="639.2" stroke="#888" stroke-width="0.5"/>
<line x1="167.96" x2="167.96" y1="638.3" y2="639.2" stroke="#888" stroke-width="0.5"/>
<line x1="174.19" x2="174.19" y1="638.3" y2="639.2" stroke="#888" stroke-width="0.5"/>
<line x1="185.39" x2="185.39" y1="638.3" y2="639.2" stroke="#888" stroke-width="0.5"/>
<line x1="195.35" x2="195.35" y1="638.3" y2="639.2" stroke="#888" stroke-width="0.5"/>
<text x="157.4" y="646.8" font-size="5.2">10<tspan dy="-1.9" font-size="3.2">-3</tspan></text>
<text x="166.3" y="646.8" font-size="5.2">0<tspan dy="-1.9" font-size="3.2"></tspan></text>
<text x="169.5" y="646.8" font-size="5.2">10<tspan dy="-1.9" font-size="3.2">3</tspan></text>
<text x="182.1" y="646.8" font-size="5.2">10<tspan dy="-1.9" font-size="3.2">4</tspan></text>
<text x="191.7" y="646.8" font-size="5.2">10<tspan dy="-1.9" font-size="3.2">5</tspan></text>
<clipPath id="fc8"><rect x="366.5" y="597.4" width="41.1" height="40.5"/></clipPath>
<g clip-path="url(#fc8)" fill-opacity="0.8">
<path d="M373.3 636.3V617.2C373.3 615.8 382.7 615.8 382.7 617.2V636.3Z" fill="#e08a1b" fill-opacity="0.92"/>
<path d="M382.7 627L392 629.5L398 632L402.5 634.5V636.3H382.7Z" fill="#e08a1b" fill-opacity="0.63"/>
<path d="M374.5 617C374.5 610 376 605 378 604.5C380 605 381.5 610 381.5 617Z" fill="#e08a1b" fill-opacity="0.47"/>
<path fill="#e08a1b" d="M378.92 619.89h.8v.8h-.8zM384.42 611.43h.8v.8h-.8zM378.8 609.93h.8v.8h-.8zM377.28 611.45h.8v.8h-.8zM379.46 617.6h.8v.8h-.8zM389.78 616.37h.8v.8h-.8zM383.67 612.52h.8v.8h-.8zM387.11 614.91h.8v.8h-.8zM378.21 612.18h.8v.8h-.8zM379.19 611.4h.8v.8h-.8zM379.92 626.09h.8v.8h-.8zM379.39 608.92h.8v.8h-.8zM370.04 613.35h.8v.8h-.8zM374.15 608.82h.8v.8h-.8zM379.75 616.41h.8v.8h-.8zM381.32 621.89h.8v.8h-.8zM374.43 609.59h.8v.8h-.8zM374.77 607.19h.8v.8h-.8zM375.86 608.29h.8v.8h-.8zM382.37 606.78h.8v.8h-.8zM389.67 600.04h.8v.8h-.8zM383.04 603.37h.8v.8h-.8zM376.67 605.75h.8v.8h-.8zM379.04 617.25h.8v.8h-.8zM377 609.52h.8v.8h-.8zM374.2 608.27h.8v.8h-.8zM374.86 609.38h.8v.8h-.8zM379.28 619.94h.8v.8h-.8zM375.58 600.23h.8v.8h-.8zM377.18 619.52h.8v.8h-.8zM373.99 616.39h.8v.8h-.8zM373.34 605.31h.8v.8h-.8zM380.01 601.34h.8v.8h-.8zM373.84 616.41h.8v.8h-.8zM376.48 609.05h.8v.8h-.8zM381.49 607.61h.8v.8h-.8zM373.33 611.03h.8v.8h-.8zM378.52 614.77h.8v.8h-.8zM378 621.84h.8v.8h-.8zM381.59 612.85h.8v.8h-.8zM389.99 603.23h.8v.8h-.8zM380.03 608.52h.8v.8h-.8zM389.23 615.74h.8v.8h-.8zM382.83 616.46h.8v.8h-.8zM385.94 610.07h.8v.8h-.8zM383.23 602.14h.8v.8h-.8zM381.58 621.46h.8v.8h-.8zM383.04 617.82h.8v.8h-.8zM369.79 614.34h.8v.8h-.8zM377.19 624.06h.8v.8h-.8zM381.44 618.17h.8v.8h-.8zM385.15 617.32h.8v.8h-.8zM372.23 608.3h.8v.8h-.8zM368.71 621.95h.8v.8h-.8zM377.88 605.06h.8v.8h-.8zM381.2 610.85h.8v.8h-.8zM377.34 622.55h.8v.8h-.8zM368.88 603.79h.8v.8h-.8zM378.34 612.05h.8v.8h-.8zM384.27 611.31h.8v.8h-.8zM381.34 625.41h.8v.8h-.8zM372.2 604.09h.8v.8h-.8zM375.36 612.3h.8v.8h-.8zM373.49 615.45h.8v.8h-.8zM375.06 621.4h.8v.8h-.8zM381.26 618.31h.8v.8h-.8zM379.86 615.11h.8v.8h-.8zM370.92 612.19h.8v.8h-.8zM370.18 622.67h.8v.8h-.8zM373.31 607.54h.8v.8h-.8zM376.59 628.6h.8v.8h-.8zM373.43 625.04h.8v.8h-.8zM379.46 631.24h.8v.8h-.8zM377.72 609.99h.8v.8h-.8zM378.66 609.96h.8v.8h-.8zM375.33 618.5h.8v.8h-.8zM376.59 619.72h.8v.8h-.8zM381.69 619.99h.8v.8h-.8zM386.42 620.91h.8v.8h-.8zM374.21 622.78h.8v.8h-.8zM366.82 622.3h.8v.8h-.8zM384.68 606.48h.8v.8h-.8zM384.98 600.97h.8v.8h-.8zM383.68 610.94h.8v.8h-.8zM377.42 612.54h.8v.8h-.8zM376.06 618.7h.8v.8h-.8zM378.56 613.4h.8v.8h-.8zM379.05 611.25h.8v.8h-.8zM373.9 617.76h.8v.8h-.8zM382.86 605.7h.8v.8h-.8zM383.44 622.3h.8v.8h-.8zM379.65 623.66h.8v.8h-.8zM368.31 623.05h.8v.8h-.8zM375.22 615.75h.8v.8h-.8zM374.37 630.36h.8v.8h-.8zM376.84 618.25h.8v.8h-.8zM371.73 611.72h.8v.8h-.8zM380.9 612.96h.8v.8h-.8zM375.17 623.85h.8v.8h-.8zM371.34 614.32h.8v.8h-.8zM377.99 611.26h.8v.8h-.8zM381.97 615.36h.8v.8h-.8zM377.94 618.19h.8v.8h-.8zM378.43 617.36h.8v.8h-.8zM385.01 615.39h.8v.8h-.8zM379.15 609.88h.8v.8h-.8zM385.7 620.3h.8v.8h-.8zM381.41 615.84h.8v.8h-.8zM374.81 614.35h.8v.8h-.8zM380.29 605.88h.8v.8h-.8zM374.21 613.01h.8v.8h-.8zM388.13 616.25h.8v.8h-.8zM371.8 622.39h.8v.8h-.8zM383.18 618.6h.8v.8h-.8zM376.19 613h.8v.8h-.8zM389.45 621.37h.8v.8h-.8zM401.09 601.42h.8v.8h-.8zM371.19 610.87h.8v.8h-.8zM374.42 609.26h.8v.8h-.8zM382.38 622.85h.8v.8h-.8zM371.94 617.69h.8v.8h-.8zM383.03 615.52h.8v.8h-.8zM385.44 621.73h.8v.8h-.8zM374.93 614.75h.8v.8h-.8zM380.19 605.68h.8v.8h-.8zM377.74 620.76h.8v.8h-.8zM380.77 614.03h.8v.8h-.8zM391.44 618.1h.8v.8h-.8zM383.53 607.93h.8v.8h-.8zM384.8 610.84h.8v.8h-.8zM378.02 611.01h.8v.8h-.8zM372.67 617.75h.8v.8h-.8zM372.88 619.51h.8v.8h-.8zM374.96 622.5h.8v.8h-.8zM380.51 621.84h.8v.8h-.8zM373.5 617.74h.8v.8h-.8zM382.51 615.77h.8v.8h-.8zM378.35 609.88h.8v.8h-.8zM372.72 606.75h.8v.8h-.8zM375.18 618.56h.8v.8h-.8zM379.03 612.41h.8v.8h-.8zM375.1 615.09h.8v.8h-.8zM371.39 610.03h.8v.8h-.8zM382.82 607.62h.8v.8h-.8zM378.27 611.35h.8v.8h-.8zM372.8 600.4h.8v.8h-.8zM374.65 608.61h.8v.8h-.8zM373.86 613.5h.8v.8h-.8zM380.43 618.19h.8v.8h-.8zM380.67 605.9h.8v.8h-.8zM385.71 616.31h.8v.8h-.8zM382.52 605.12h.8v.8h-.8zM384.23 629.61h.8v.8h-.8zM381.47 621.59h.8v.8h-.8zM376.08 615.05h.8v.8h-.8zM378.66 618.47h.8v.8h-.8zM379.72 615.76h.8v.8h-.8zM374.48 605.78h.8v.8h-.8zM378.88 631.23h.8v.8h-.8zM374.11 617.58h.8v.8h-.8zM385.5 609.53h.8v.8h-.8zM370.9 616.47h.8v.8h-.8zM378.74 608h.8v.8h-.8zM386.35 618.82h.8v.8h-.8zM378.91 604.52h.8v.8h-.8zM385.12 621.75h.8v.8h-.8zM383.04 625.16h.8v.8h-.8zM373.87 607.1h.8v.8h-.8zM383.25 617.03h.8v.8h-.8zM378.74 610.62h.8v.8h-.8zM384.01 615.74h.8v.8h-.8zM383.24 606.11h.8v.8h-.8zM379.26 616.87h.8v.8h-.8zM383.99 602.5h.8v.8h-.8zM377.97 609.46h.8v.8h-.8zM379 613.02h.8v.8h-.8zM381.06 619.43h.8v.8h-.8zM395.82 630.75h.8v.8h-.8zM400.05 635.82h.8v.8h-.8zM394.43 628.24h.8v.8h-.8zM406.18 634.16h.8v.8h-.8zM391.3 630.41h.8v.8h-.8zM393.37 625.94h.8v.8h-.8zM399.79 625.85h.8v.8h-.8zM374.81 630.83h.8v.8h-.8zM386.61 631.9h.8v.8h-.8zM385.97 626.32h.8v.8h-.8zM379.81 626.64h.8v.8h-.8zM398.66 628.77h.8v.8h-.8zM403.34 631.85h.8v.8h-.8zM381.04 624.94h.8v.8h-.8zM383.51 628.99h.8v.8h-.8zM394.25 628.88h.8v.8h-.8zM390.25 627.74h.8v.8h-.8zM395.18 633.74h.8v.8h-.8zM386.58 635.33h.8v.8h-.8zM388.17 630.01h.8v.8h-.8zM405.58 633.1h.8v.8h-.8zM394.32 624.34h.8v.8h-.8zM394.57 629.77h.8v.8h-.8zM392.48 634.83h.8v.8h-.8zM390.2 637.24h.8v.8h-.8zM394.34 631.57h.8v.8h-.8zM391.85 631.34h.8v.8h-.8zM403.4 631.85h.8v.8h-.8zM387.07 628.33h.8v.8h-.8zM402.12 632.92h.8v.8h-.8zM388.1 630.57h.8v.8h-.8zM394.68 633.01h.8v.8h-.8zM387.34 631.35h.8v.8h-.8zM384.99 628.32h.8v.8h-.8zM392.44 635.72h.8v.8h-.8zM393.39 636.78h.8v.8h-.8zM396.68 635.51h.8v.8h-.8zM392.92 624.75h.8v.8h-.8zM378.85 629.52h.8v.8h-.8zM406.37 630.46h.8v.8h-.8zM390.52 633.14h.8v.8h-.8zM391.43 629.69h.8v.8h-.8zM395.38 632.4h.8v.8h-.8zM389.96 628.19h.8v.8h-.8zM405.17 628h.8v.8h-.8zM387.74 630.37h.8v.8h-.8zM393.02 632.04h.8v.8h-.8zM404.88 635.55h.8v.8h-.8zM393.73 631.43h.8v.8h-.8zM400.79 630.57h.8v.8h-.8zM395.19 627.2h.8v.8h-.8zM396.81 630.72h.8v.8h-.8zM384.04 631.84h.8v.8h-.8zM388.45 635.48h.8v.8h-.8zM396.49 631.67h.8v.8h-.8zM404.57 634.19h.8v.8h-.8zM390.99 630.71h.8v.8h-.8zM395.42 626.9h.8v.8h-.8zM396.01 626.14h.8v.8h-.8zM390.08 630.13h.8v.8h-.8zM395.8 632.13h.8v.8h-.8zM388.74 632.19h.8v.8h-.8zM396.12 630.69h.8v.8h-.8zM394.2 629.23h.8v.8h-.8zM406.63 635.79h.8v.8h-.8zM395.78 635.62h.8v.8h-.8zM387.91 629.2h.8v.8h-.8zM391.74 632.56h.8v.8h-.8zM391.74 627.82h.8v.8h-.8zM383.57 627.17h.8v.8h-.8zM400.53 632.69h.8v.8h-.8zM390.64 629.4h.8v.8h-.8zM392.84 631.15h.8v.8h-.8zM391.35 630.88h.8v.8h-.8zM399.4 634.18h.8v.8h-.8zM389.29 630.43h.8v.8h-.8zM388.76 629.49h.8v.8h-.8zM393.33 629.9h.8v.8h-.8zM398.15 627.79h.8v.8h-.8zM396.7 633.57h.8v.8h-.8zM391.83 629.87h.8v.8h-.8zM398.22 629.7h.8v.8h-.8zM391.7 631.72h.8v.8h-.8zM376.8 633.43h.8v.8h-.8zM395.7 633.02h.8v.8h-.8zM384.42 629.55h.8v.8h-.8zM397.07 632.93h.8v.8h-.8zM389.89 629.42h.8v.8h-.8zM404.62 631.93h.8v.8h-.8zM402.59 626.34h.8v.8h-.8zM396.97 629.09h.8v.8h-.8zM390.51 635.41h.8v.8h-.8zM386.67 627.73h.8v.8h-.8zM389.17 630.16h.8v.8h-.8zM394.21 632.47h.8v.8h-.8zM402.64 632.63h.8v.8h-.8zM406.26 634.7h.8v.8h-.8zM397.81 630.5h.8v.8h-.8zM403.57 629.96h.8v.8h-.8zM400.88 631.12h.8v.8h-.8zM390.13 633.31h.8v.8h-.8zM398.77 632.07h.8v.8h-.8zM401.59 631.41h.8v.8h-.8zM388.95 631.29h.8v.8h-.8zM406.96 627.66h.8v.8h-.8zM381.41 631.02h.8v.8h-.8zM386.92 635.66h.8v.8h-.8zM395.13 627.79h.8v.8h-.8zM393.6 627.75h.8v.8h-.8zM397.39 634.23h.8v.8h-.8zM402.42 634.65h.8v.8h-.8zM393.91 635.11h.8v.8h-.8zM397.41 626.59h.8v.8h-.8zM403.46 627.95h.8v.8h-.8zM389.94 625.62h.8v.8h-.8zM379.1 597.57h.8v.8h-.8zM376.69 603.88h.8v.8h-.8zM376.95 606.09h.8v.8h-.8zM388.73 606.48h.8v.8h-.8zM386.6 613.48h.8v.8h-.8zM380.41 615.33h.8v.8h-.8zM383.75 607.76h.8v.8h-.8zM386.13 614.72h.8v.8h-.8zM376.8 612.58h.8v.8h-.8zM381.14 608.46h.8v.8h-.8zM390.96 611.77h.8v.8h-.8zM377.75 603.5h.8v.8h-.8zM376.87 607.8h.8v.8h-.8zM396.14 607.32h.8v.8h-.8zM373.92 611.65h.8v.8h-.8zM378.62 600.14h.8v.8h-.8zM386.31 607.98h.8v.8h-.8zM385.03 611.53h.8v.8h-.8zM389.69 597.68h.8v.8h-.8zM385.02 613.7h.8v.8h-.8zM391.38 602.88h.8v.8h-.8zM373.15 602.51h.8v.8h-.8zM386.33 606.99h.8v.8h-.8zM388.87 607.12h.8v.8h-.8zM376.45 602.49h.8v.8h-.8zM382.61 612.12h.8v.8h-.8zM392.8 603.04h.8v.8h-.8zM386.63 607.67h.8v.8h-.8zM377.1 602.15h.8v.8h-.8zM393.29 605.83h.8v.8h-.8zM383.48 610.26h.8v.8h-.8zM386.16 611.43h.8v.8h-.8zM379.22 606.11h.8v.8h-.8zM385.52 609.71h.8v.8h-.8zM379.66 599.56h.8v.8h-.8zM389.14 612.2h.8v.8h-.8zM389.63 607.41h.8v.8h-.8zM373.31 606.03h.8v.8h-.8zM396.06 609.51h.8v.8h-.8z"/>
</g>
<rect x="366.1" y="597" width="41.9" height="41.3" fill="none" stroke="#a8a8a8" stroke-width="0.6"/>
<line x1="365.2" x2="366.1" y1="599" y2="599" stroke="#888" stroke-width="0.5"/>
<line x1="365.2" x2="366.1" y1="606.9" y2="606.9" stroke="#888" stroke-width="0.5"/>
<line x1="365.2" x2="366.1" y1="614.8" y2="614.8" stroke="#888" stroke-width="0.5"/>
<line x1="365.2" x2="366.1" y1="622.7" y2="622.7" stroke="#888" stroke-width="0.5"/>
<line x1="365.2" x2="366.1" y1="630.6" y2="630.6" stroke="#888" stroke-width="0.5"/>
<path d="M382.7 637.7L388.4 601.6H407.1V637.7H382.7" fill="none" stroke="#777" stroke-width="0.6"/>
<text x="406.2" y="607.1" font-size="5.5" text-anchor="end" >31±8.9</text>
<line x1="370.29" x2="370.29" y1="638.3" y2="639.2" stroke="#888" stroke-width="0.5"/>
<line x1="376.16" x2="376.16" y1="638.3" y2="639.2" stroke="#888" stroke-width="0.5"/>
<line x1="382.44" x2="382.44" y1="638.3" y2="639.2" stroke="#888" stroke-width="0.5"/>
<line x1="393.75" x2="393.75" y1="638.3" y2="639.2" stroke="#888" stroke-width="0.5"/>
<line x1="403.81" x2="403.81" y1="638.3" y2="639.2" stroke="#888" stroke-width="0.5"/>
<text x="365.4" y="646.8" font-size="5.2">10<tspan dy="-1.9" font-size="3.2">-3</tspan></text>
<text x="374.2" y="646.8" font-size="5.2">0<tspan dy="-1.9" font-size="3.2"></tspan></text>
<text x="378.6" y="646.8" font-size="5.2">10<tspan dy="-1.9" font-size="3.2">3</tspan></text>
<text x="390.6" y="646.8" font-size="5.2">10<tspan dy="-1.9" font-size="3.2">4</tspan></text>
<text x="400.2" y="646.8" font-size="5.2">10<tspan dy="-1.9" font-size="3.2">5</tspan></text>
<text transform="translate(14 618.2) rotate(-90)" font-size="6.6" text-anchor="middle" textLength="10.5" lengthAdjust="spacingAndGlyphs">SSC</text>
<text transform="translate(222 618.2) rotate(-90)" font-size="6.6" text-anchor="middle" textLength="10.5" lengthAdjust="spacingAndGlyphs">SSC</text>
<line x1="19" x2="197" y1="651.6" y2="651.6" stroke="#111" stroke-width="1.1"/>
<path d="M200.5 651.6L195 649.4V653.8Z" fill="#111"/>
<line x1="227" x2="405" y1="651.6" y2="651.6" stroke="#111" stroke-width="1.1"/>
<path d="M408.5 651.6L403 649.4V653.8Z" fill="#111"/>
<text x="109" y="660.8" font-size="6.3" text-anchor="middle" textLength="39.5" lengthAdjust="spacingAndGlyphs">LEPR-Qdot-605</text>
<text x="317.5" y="660.8" font-size="6.3" text-anchor="middle" textLength="40" lengthAdjust="spacingAndGlyphs">VCAM1-PE-Cy7</text>
<rect x="417.1" y="603.1" width="6.9" height="6.7" fill="#bf0b2c"/>
<text x="427" y="608.4" font-size="5.6" text-anchor="start" >A</text>
<rect x="417.1" y="611.1" width="6.9" height="6.7" fill="#4b1c87"/>
<text x="427" y="616.4" font-size="5.6" text-anchor="start" >AB</text>
<rect x="417.1" y="619.1" width="6.9" height="6.7" fill="#4a6fc0"/>
<text x="427" y="624.4" font-size="5.6" text-anchor="start" >B</text>
<rect x="417.1" y="627.1" width="6.9" height="6.7" fill="#e08a1b"/>
<text x="427" y="632.4" font-size="5.6" text-anchor="start" >DN</text>
<rect x="0.6" y="0.6" width="518.8" height="668.8" fill="none" stroke="#000" stroke-width="1.2"/>
</svg>
</body></html>
